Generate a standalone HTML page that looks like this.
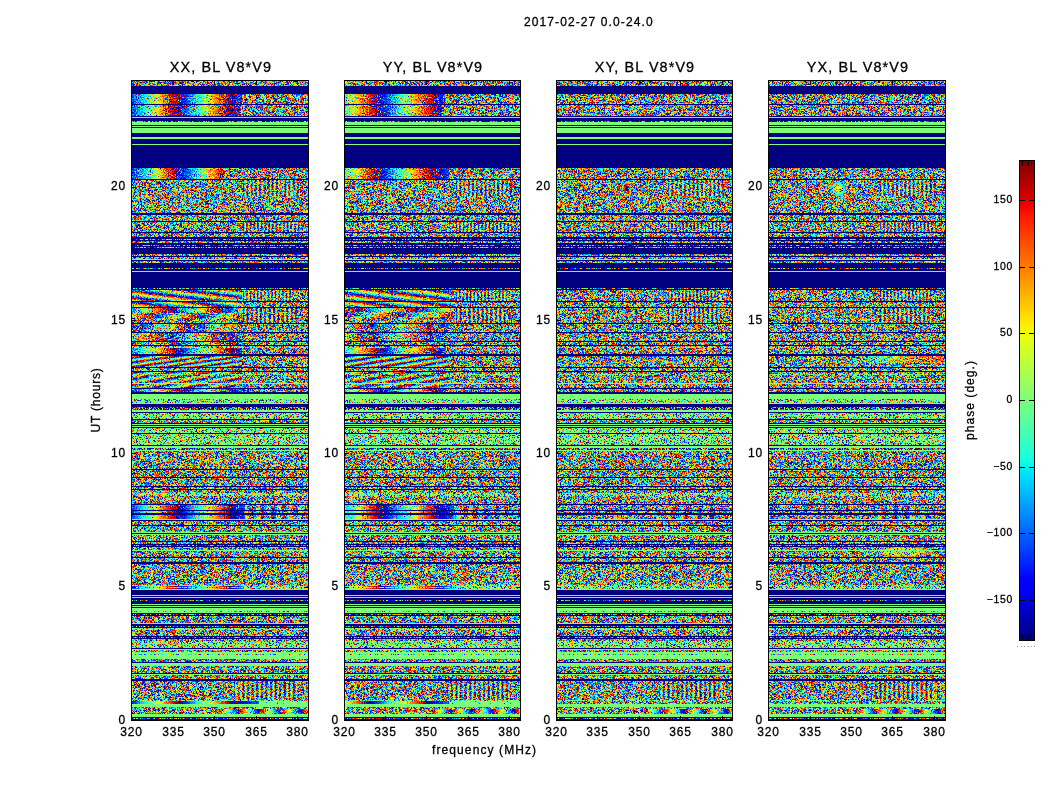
<!DOCTYPE html><html><head><meta charset="utf-8"><title>phase</title><style>
html,body{margin:0;padding:0;background:#fff;}
body{width:1050px;height:800px;position:relative;overflow:hidden;font-family:"Liberation Sans",sans-serif;color:#000;}
.p{position:absolute;overflow:hidden;background:#777;}
.p div,.p svg{position:absolute;left:0;}
.b{width:100%;}
.N{background:#000080;}
.G{background:#7dff7a;}
.g{background:#7dff7a;}
.s{background:#000080;}
.d{background:#000080;}
.sp{position:absolute;background:#000;}
.t,.tt,.cl{will-change:transform;-webkit-text-stroke:0.3px #000;}
.t{position:absolute;white-space:nowrap;font-size:12px;line-height:14px;letter-spacing:0.8px;}
.tt{position:absolute;white-space:nowrap;font-size:14.4px;line-height:17px;letter-spacing:1.1px;text-align:center;}
.cl{position:absolute;white-space:nowrap;font-size:10.4px;line-height:12px;letter-spacing:0.7px;text-align:right;width:60px;}
</style></head><body>
<svg width="0" height="0" style="position:absolute">
<filter id="nz0" x="0" y="0" width="100%" height="100%" color-interpolation-filters="sRGB"><feTurbulence type="fractalNoise" baseFrequency="0.93 0.87" numOctaves="1" seed="3"/><feColorMatrix type="matrix" values="1 0 0 0 0  1 0 0 0 0  1 0 0 0 0  0 0 0 0 1"/><feComponentTransfer><feFuncR type="table" tableValues="0.000 0.000 0.000 0.000 0.000 0.000 0.000 0.000 0.002 0.133 0.259 0.379 0.484 0.589 0.709 0.835 0.966 1.000 1.000 1.000 1.000 1.000 0.913 0.707 0.000 0.000 0.000 0.000 0.000 0.000 0.000 0.000 0.002 0.133 0.259 0.379 0.484 0.589 0.709 0.835 0.966 1.000 1.000 1.000 1.000 1.000 0.913 0.707 0.000 0.000 0.000 0.000 0.000 0.000 0.000 0.000 0.002 0.133 0.259 0.379 0.484 0.589 0.709 0.835 0.966 1.000 1.000 1.000 1.000 1.000 0.913 0.707 0.000 0.000 0.000 0.000 0.000 0.000 0.000 0.000 0.002 0.133 0.259 0.379 0.484 0.589 0.709 0.835 0.966 1.000 1.000 1.000 1.000 1.000 0.913 0.707 0.000 0.000 0.000 0.000 0.000 0.000 0.000 0.000 0.002 0.133 0.259 0.379 0.484 0.589 0.709 0.835 0.966 1.000 1.000 1.000 1.000 1.000 0.913 0.707 0.000 0.000 0.000 0.000 0.000 0.000 0.000 0.000 0.002 0.133 0.259 0.379 0.484 0.589 0.709 0.835 0.966 1.000 1.000 1.000 1.000 1.000 0.913 0.707 0.000"/><feFuncG type="table" tableValues="0.000 0.000 0.000 0.043 0.220 0.395 0.567 0.737 0.903 1.000 1.000 1.000 1.000 1.000 1.000 1.000 0.965 0.812 0.655 0.495 0.333 0.169 0.003 0.000 0.000 0.000 0.000 0.043 0.220 0.395 0.567 0.737 0.903 1.000 1.000 1.000 1.000 1.000 1.000 1.000 0.965 0.812 0.655 0.495 0.333 0.169 0.003 0.000 0.000 0.000 0.000 0.043 0.220 0.395 0.567 0.737 0.903 1.000 1.000 1.000 1.000 1.000 1.000 1.000 0.965 0.812 0.655 0.495 0.333 0.169 0.003 0.000 0.000 0.000 0.000 0.043 0.220 0.395 0.567 0.737 0.903 1.000 1.000 1.000 1.000 1.000 1.000 1.000 0.965 0.812 0.655 0.495 0.333 0.169 0.003 0.000 0.000 0.000 0.000 0.043 0.220 0.395 0.567 0.737 0.903 1.000 1.000 1.000 1.000 1.000 1.000 1.000 0.965 0.812 0.655 0.495 0.333 0.169 0.003 0.000 0.000 0.000 0.000 0.043 0.220 0.395 0.567 0.737 0.903 1.000 1.000 1.000 1.000 1.000 1.000 1.000 0.965 0.812 0.655 0.495 0.333 0.169 0.003 0.000 0.000"/><feFuncB type="table" tableValues="0.500 0.707 0.913 1.000 1.000 1.000 1.000 1.000 0.966 0.835 0.709 0.589 0.484 0.379 0.259 0.133 0.002 0.000 0.000 0.000 0.000 0.000 0.000 0.000 0.500 0.707 0.913 1.000 1.000 1.000 1.000 1.000 0.966 0.835 0.709 0.589 0.484 0.379 0.259 0.133 0.002 0.000 0.000 0.000 0.000 0.000 0.000 0.000 0.500 0.707 0.913 1.000 1.000 1.000 1.000 1.000 0.966 0.835 0.709 0.589 0.484 0.379 0.259 0.133 0.002 0.000 0.000 0.000 0.000 0.000 0.000 0.000 0.500 0.707 0.913 1.000 1.000 1.000 1.000 1.000 0.966 0.835 0.709 0.589 0.484 0.379 0.259 0.133 0.002 0.000 0.000 0.000 0.000 0.000 0.000 0.000 0.500 0.707 0.913 1.000 1.000 1.000 1.000 1.000 0.966 0.835 0.709 0.589 0.484 0.379 0.259 0.133 0.002 0.000 0.000 0.000 0.000 0.000 0.000 0.000 0.500 0.707 0.913 1.000 1.000 1.000 1.000 1.000 0.966 0.835 0.709 0.589 0.484 0.379 0.259 0.133 0.002 0.000 0.000 0.000 0.000 0.000 0.000 0.000 0.500"/></feComponentTransfer></filter>
<filter id="pA0" x="0" y="0" width="100%" height="100%" color-interpolation-filters="sRGB"><feTurbulence type="fractalNoise" baseFrequency="0.93 0.87" numOctaves="1" seed="41"/><feColorMatrix type="matrix" values="1 0 0 0 0  1 0 0 0 0  1 0 0 0 0  0 1 0 0 0"/><feComponentTransfer><feFuncR type="table" tableValues="0.000 0.000 0.000 0.000 0.000 0.000 0.000 0.000 0.002 0.133 0.259 0.379 0.484 0.589 0.709 0.835 0.966 1.000 1.000 1.000 1.000 1.000 0.913 0.707 0.000 0.000 0.000 0.000 0.000 0.000 0.000 0.000 0.002 0.133 0.259 0.379 0.484 0.589 0.709 0.835 0.966 1.000 1.000 1.000 1.000 1.000 0.913 0.707 0.000 0.000 0.000 0.000 0.000 0.000 0.000 0.000 0.002 0.133 0.259 0.379 0.484 0.589 0.709 0.835 0.966 1.000 1.000 1.000 1.000 1.000 0.913 0.707 0.000 0.000 0.000 0.000 0.000 0.000 0.000 0.000 0.002 0.133 0.259 0.379 0.484 0.589 0.709 0.835 0.966 1.000 1.000 1.000 1.000 1.000 0.913 0.707 0.000 0.000 0.000 0.000 0.000 0.000 0.000 0.000 0.002 0.133 0.259 0.379 0.484 0.589 0.709 0.835 0.966 1.000 1.000 1.000 1.000 1.000 0.913 0.707 0.000 0.000 0.000 0.000 0.000 0.000 0.000 0.000 0.002 0.133 0.259 0.379 0.484 0.589 0.709 0.835 0.966 1.000 1.000 1.000 1.000 1.000 0.913 0.707 0.000"/><feFuncG type="table" tableValues="0.000 0.000 0.000 0.043 0.220 0.395 0.567 0.737 0.903 1.000 1.000 1.000 1.000 1.000 1.000 1.000 0.965 0.812 0.655 0.495 0.333 0.169 0.003 0.000 0.000 0.000 0.000 0.043 0.220 0.395 0.567 0.737 0.903 1.000 1.000 1.000 1.000 1.000 1.000 1.000 0.965 0.812 0.655 0.495 0.333 0.169 0.003 0.000 0.000 0.000 0.000 0.043 0.220 0.395 0.567 0.737 0.903 1.000 1.000 1.000 1.000 1.000 1.000 1.000 0.965 0.812 0.655 0.495 0.333 0.169 0.003 0.000 0.000 0.000 0.000 0.043 0.220 0.395 0.567 0.737 0.903 1.000 1.000 1.000 1.000 1.000 1.000 1.000 0.965 0.812 0.655 0.495 0.333 0.169 0.003 0.000 0.000 0.000 0.000 0.043 0.220 0.395 0.567 0.737 0.903 1.000 1.000 1.000 1.000 1.000 1.000 1.000 0.965 0.812 0.655 0.495 0.333 0.169 0.003 0.000 0.000 0.000 0.000 0.043 0.220 0.395 0.567 0.737 0.903 1.000 1.000 1.000 1.000 1.000 1.000 1.000 0.965 0.812 0.655 0.495 0.333 0.169 0.003 0.000 0.000"/><feFuncB type="table" tableValues="0.500 0.707 0.913 1.000 1.000 1.000 1.000 1.000 0.966 0.835 0.709 0.589 0.484 0.379 0.259 0.133 0.002 0.000 0.000 0.000 0.000 0.000 0.000 0.000 0.500 0.707 0.913 1.000 1.000 1.000 1.000 1.000 0.966 0.835 0.709 0.589 0.484 0.379 0.259 0.133 0.002 0.000 0.000 0.000 0.000 0.000 0.000 0.000 0.500 0.707 0.913 1.000 1.000 1.000 1.000 1.000 0.966 0.835 0.709 0.589 0.484 0.379 0.259 0.133 0.002 0.000 0.000 0.000 0.000 0.000 0.000 0.000 0.500 0.707 0.913 1.000 1.000 1.000 1.000 1.000 0.966 0.835 0.709 0.589 0.484 0.379 0.259 0.133 0.002 0.000 0.000 0.000 0.000 0.000 0.000 0.000 0.500 0.707 0.913 1.000 1.000 1.000 1.000 1.000 0.966 0.835 0.709 0.589 0.484 0.379 0.259 0.133 0.002 0.000 0.000 0.000 0.000 0.000 0.000 0.000 0.500 0.707 0.913 1.000 1.000 1.000 1.000 1.000 0.966 0.835 0.709 0.589 0.484 0.379 0.259 0.133 0.002 0.000 0.000 0.000 0.000 0.000 0.000 0.000 0.500"/><feFuncA type="discrete" tableValues="1 1 1 1 1 1 1 1 1 1 1 1 1 1 1 1 1 1 1 1 1 1 1 1 1 1 1 1 1 1 1 1 1 1 1 1 1 1 1 1 1 1 1 1 1 1 1 1 1 1 1 1 1 1 1 1 1 1 1 1 1 1 1 1 1 1 1 1 1 1 1 1 1 1 1 1 1 1 1 1 0 0 0 0 0 0 0 0 0 0 0 0 0 0 0 0 0 0 0 0 0 0 0 0 0 0 0 0 0 0 0 0 0 0 0 0 0 0 0 0 0 0 0 0 0 0 0 0 0 0 0 0 0 0 0 0 0 0 0 0 0 0 0 0 0 0 0 0 0 0 0 0 0 0 0 0 0 0 0 0 0 0 0 0 0 0 0 0 0 0 0 0 0 0 0 0 0 0 0 0 0 0 0 0 0 0 0 0 0 0 0 0 0 0 0 0 0 0 0 0"/></feComponentTransfer><feComposite operator="in" in2="SourceGraphic"/></filter>
<filter id="pB0" x="0" y="0" width="100%" height="100%" color-interpolation-filters="sRGB"><feTurbulence type="fractalNoise" baseFrequency="0.93 0.87" numOctaves="1" seed="43"/><feColorMatrix type="matrix" values="1 0 0 0 0  1 0 0 0 0  1 0 0 0 0  0 1 0 0 0"/><feComponentTransfer><feFuncR type="table" tableValues="0.000 0.000 0.000 0.000 0.000 0.000 0.000 0.000 0.002 0.133 0.259 0.379 0.484 0.589 0.709 0.835 0.966 1.000 1.000 1.000 1.000 1.000 0.913 0.707 0.000 0.000 0.000 0.000 0.000 0.000 0.000 0.000 0.002 0.133 0.259 0.379 0.484 0.589 0.709 0.835 0.966 1.000 1.000 1.000 1.000 1.000 0.913 0.707 0.000 0.000 0.000 0.000 0.000 0.000 0.000 0.000 0.002 0.133 0.259 0.379 0.484 0.589 0.709 0.835 0.966 1.000 1.000 1.000 1.000 1.000 0.913 0.707 0.000 0.000 0.000 0.000 0.000 0.000 0.000 0.000 0.002 0.133 0.259 0.379 0.484 0.589 0.709 0.835 0.966 1.000 1.000 1.000 1.000 1.000 0.913 0.707 0.000 0.000 0.000 0.000 0.000 0.000 0.000 0.000 0.002 0.133 0.259 0.379 0.484 0.589 0.709 0.835 0.966 1.000 1.000 1.000 1.000 1.000 0.913 0.707 0.000 0.000 0.000 0.000 0.000 0.000 0.000 0.000 0.002 0.133 0.259 0.379 0.484 0.589 0.709 0.835 0.966 1.000 1.000 1.000 1.000 1.000 0.913 0.707 0.000"/><feFuncG type="table" tableValues="0.000 0.000 0.000 0.043 0.220 0.395 0.567 0.737 0.903 1.000 1.000 1.000 1.000 1.000 1.000 1.000 0.965 0.812 0.655 0.495 0.333 0.169 0.003 0.000 0.000 0.000 0.000 0.043 0.220 0.395 0.567 0.737 0.903 1.000 1.000 1.000 1.000 1.000 1.000 1.000 0.965 0.812 0.655 0.495 0.333 0.169 0.003 0.000 0.000 0.000 0.000 0.043 0.220 0.395 0.567 0.737 0.903 1.000 1.000 1.000 1.000 1.000 1.000 1.000 0.965 0.812 0.655 0.495 0.333 0.169 0.003 0.000 0.000 0.000 0.000 0.043 0.220 0.395 0.567 0.737 0.903 1.000 1.000 1.000 1.000 1.000 1.000 1.000 0.965 0.812 0.655 0.495 0.333 0.169 0.003 0.000 0.000 0.000 0.000 0.043 0.220 0.395 0.567 0.737 0.903 1.000 1.000 1.000 1.000 1.000 1.000 1.000 0.965 0.812 0.655 0.495 0.333 0.169 0.003 0.000 0.000 0.000 0.000 0.043 0.220 0.395 0.567 0.737 0.903 1.000 1.000 1.000 1.000 1.000 1.000 1.000 0.965 0.812 0.655 0.495 0.333 0.169 0.003 0.000 0.000"/><feFuncB type="table" tableValues="0.500 0.707 0.913 1.000 1.000 1.000 1.000 1.000 0.966 0.835 0.709 0.589 0.484 0.379 0.259 0.133 0.002 0.000 0.000 0.000 0.000 0.000 0.000 0.000 0.500 0.707 0.913 1.000 1.000 1.000 1.000 1.000 0.966 0.835 0.709 0.589 0.484 0.379 0.259 0.133 0.002 0.000 0.000 0.000 0.000 0.000 0.000 0.000 0.500 0.707 0.913 1.000 1.000 1.000 1.000 1.000 0.966 0.835 0.709 0.589 0.484 0.379 0.259 0.133 0.002 0.000 0.000 0.000 0.000 0.000 0.000 0.000 0.500 0.707 0.913 1.000 1.000 1.000 1.000 1.000 0.966 0.835 0.709 0.589 0.484 0.379 0.259 0.133 0.002 0.000 0.000 0.000 0.000 0.000 0.000 0.000 0.500 0.707 0.913 1.000 1.000 1.000 1.000 1.000 0.966 0.835 0.709 0.589 0.484 0.379 0.259 0.133 0.002 0.000 0.000 0.000 0.000 0.000 0.000 0.000 0.500 0.707 0.913 1.000 1.000 1.000 1.000 1.000 0.966 0.835 0.709 0.589 0.484 0.379 0.259 0.133 0.002 0.000 0.000 0.000 0.000 0.000 0.000 0.000 0.500"/><feFuncA type="discrete" tableValues="1 1 1 1 1 1 1 1 1 1 1 1 1 1 1 1 1 1 1 1 1 1 1 1 1 1 1 1 1 1 1 1 1 1 1 1 1 1 1 1 1 1 1 1 1 1 1 1 1 1 1 1 1 1 1 1 1 1 1 1 1 1 1 1 1 1 1 1 1 1 1 1 1 1 1 1 1 1 1 1 1 1 1 1 1 1 1 1 1 1 1 0 0 0 0 0 0 0 0 0 0 0 0 0 0 0 0 0 0 0 0 0 0 0 0 0 0 0 0 0 0 0 0 0 0 0 0 0 0 0 0 0 0 0 0 0 0 0 0 0 0 0 0 0 0 0 0 0 0 0 0 0 0 0 0 0 0 0 0 0 0 0 0 0 0 0 0 0 0 0 0 0 0 0 0 0 0 0 0 0 0 0 0 0 0 0 0 0 0 0 0 0 0 0 0 0 0 0 0 0"/></feComponentTransfer><feComposite operator="in" in2="SourceGraphic"/></filter>
<filter id="pC0" x="0" y="0" width="100%" height="100%" color-interpolation-filters="sRGB"><feTurbulence type="fractalNoise" baseFrequency="0.93 0.87" numOctaves="1" seed="47"/><feColorMatrix type="matrix" values="1 0 0 0 0  1 0 0 0 0  1 0 0 0 0  0 1 0 0 0"/><feComponentTransfer><feFuncR type="table" tableValues="0.000 0.000 0.000 0.000 0.000 0.000 0.000 0.000 0.002 0.133 0.259 0.379 0.484 0.589 0.709 0.835 0.966 1.000 1.000 1.000 1.000 1.000 0.913 0.707 0.000 0.000 0.000 0.000 0.000 0.000 0.000 0.000 0.002 0.133 0.259 0.379 0.484 0.589 0.709 0.835 0.966 1.000 1.000 1.000 1.000 1.000 0.913 0.707 0.000 0.000 0.000 0.000 0.000 0.000 0.000 0.000 0.002 0.133 0.259 0.379 0.484 0.589 0.709 0.835 0.966 1.000 1.000 1.000 1.000 1.000 0.913 0.707 0.000 0.000 0.000 0.000 0.000 0.000 0.000 0.000 0.002 0.133 0.259 0.379 0.484 0.589 0.709 0.835 0.966 1.000 1.000 1.000 1.000 1.000 0.913 0.707 0.000 0.000 0.000 0.000 0.000 0.000 0.000 0.000 0.002 0.133 0.259 0.379 0.484 0.589 0.709 0.835 0.966 1.000 1.000 1.000 1.000 1.000 0.913 0.707 0.000 0.000 0.000 0.000 0.000 0.000 0.000 0.000 0.002 0.133 0.259 0.379 0.484 0.589 0.709 0.835 0.966 1.000 1.000 1.000 1.000 1.000 0.913 0.707 0.000"/><feFuncG type="table" tableValues="0.000 0.000 0.000 0.043 0.220 0.395 0.567 0.737 0.903 1.000 1.000 1.000 1.000 1.000 1.000 1.000 0.965 0.812 0.655 0.495 0.333 0.169 0.003 0.000 0.000 0.000 0.000 0.043 0.220 0.395 0.567 0.737 0.903 1.000 1.000 1.000 1.000 1.000 1.000 1.000 0.965 0.812 0.655 0.495 0.333 0.169 0.003 0.000 0.000 0.000 0.000 0.043 0.220 0.395 0.567 0.737 0.903 1.000 1.000 1.000 1.000 1.000 1.000 1.000 0.965 0.812 0.655 0.495 0.333 0.169 0.003 0.000 0.000 0.000 0.000 0.043 0.220 0.395 0.567 0.737 0.903 1.000 1.000 1.000 1.000 1.000 1.000 1.000 0.965 0.812 0.655 0.495 0.333 0.169 0.003 0.000 0.000 0.000 0.000 0.043 0.220 0.395 0.567 0.737 0.903 1.000 1.000 1.000 1.000 1.000 1.000 1.000 0.965 0.812 0.655 0.495 0.333 0.169 0.003 0.000 0.000 0.000 0.000 0.043 0.220 0.395 0.567 0.737 0.903 1.000 1.000 1.000 1.000 1.000 1.000 1.000 0.965 0.812 0.655 0.495 0.333 0.169 0.003 0.000 0.000"/><feFuncB type="table" tableValues="0.500 0.707 0.913 1.000 1.000 1.000 1.000 1.000 0.966 0.835 0.709 0.589 0.484 0.379 0.259 0.133 0.002 0.000 0.000 0.000 0.000 0.000 0.000 0.000 0.500 0.707 0.913 1.000 1.000 1.000 1.000 1.000 0.966 0.835 0.709 0.589 0.484 0.379 0.259 0.133 0.002 0.000 0.000 0.000 0.000 0.000 0.000 0.000 0.500 0.707 0.913 1.000 1.000 1.000 1.000 1.000 0.966 0.835 0.709 0.589 0.484 0.379 0.259 0.133 0.002 0.000 0.000 0.000 0.000 0.000 0.000 0.000 0.500 0.707 0.913 1.000 1.000 1.000 1.000 1.000 0.966 0.835 0.709 0.589 0.484 0.379 0.259 0.133 0.002 0.000 0.000 0.000 0.000 0.000 0.000 0.000 0.500 0.707 0.913 1.000 1.000 1.000 1.000 1.000 0.966 0.835 0.709 0.589 0.484 0.379 0.259 0.133 0.002 0.000 0.000 0.000 0.000 0.000 0.000 0.000 0.500 0.707 0.913 1.000 1.000 1.000 1.000 1.000 0.966 0.835 0.709 0.589 0.484 0.379 0.259 0.133 0.002 0.000 0.000 0.000 0.000 0.000 0.000 0.000 0.500"/><feFuncA type="discrete" tableValues="1 1 1 1 1 1 1 1 1 1 1 1 1 1 1 1 1 1 1 1 1 1 1 1 1 1 1 1 1 1 1 1 1 1 1 1 1 1 1 1 1 1 1 1 1 1 1 1 1 1 1 1 1 1 1 1 1 1 1 1 1 1 1 1 1 1 1 1 1 1 1 1 1 1 1 1 1 1 1 1 1 1 1 1 1 1 1 1 1 1 1 1 1 1 1 1 1 1 1 1 0 0 0 0 0 0 0 0 0 0 0 0 0 0 0 0 0 0 0 0 0 0 0 0 0 0 0 0 0 0 0 0 0 0 0 0 0 0 0 0 0 0 0 0 0 0 0 0 0 0 0 0 0 0 0 0 0 0 0 0 0 0 0 0 0 0 0 0 0 0 0 0 0 0 0 0 0 0 0 0 0 0 0 0 0 0 0 0 0 0 0 0 0 0 0 0 0 0 0 0"/></feComponentTransfer><feComposite operator="in" in2="SourceGraphic"/></filter>
<filter id="pD0" x="0" y="0" width="100%" height="100%" color-interpolation-filters="sRGB"><feTurbulence type="fractalNoise" baseFrequency="0.93 0.87" numOctaves="1" seed="53"/><feColorMatrix type="matrix" values="1 0 0 0 0  1 0 0 0 0  1 0 0 0 0  0 1 0 0 0"/><feComponentTransfer><feFuncR type="table" tableValues="0.000 0.000 0.000 0.000 0.000 0.000 0.000 0.000 0.002 0.133 0.259 0.379 0.484 0.589 0.709 0.835 0.966 1.000 1.000 1.000 1.000 1.000 0.913 0.707 0.000 0.000 0.000 0.000 0.000 0.000 0.000 0.000 0.002 0.133 0.259 0.379 0.484 0.589 0.709 0.835 0.966 1.000 1.000 1.000 1.000 1.000 0.913 0.707 0.000 0.000 0.000 0.000 0.000 0.000 0.000 0.000 0.002 0.133 0.259 0.379 0.484 0.589 0.709 0.835 0.966 1.000 1.000 1.000 1.000 1.000 0.913 0.707 0.000 0.000 0.000 0.000 0.000 0.000 0.000 0.000 0.002 0.133 0.259 0.379 0.484 0.589 0.709 0.835 0.966 1.000 1.000 1.000 1.000 1.000 0.913 0.707 0.000 0.000 0.000 0.000 0.000 0.000 0.000 0.000 0.002 0.133 0.259 0.379 0.484 0.589 0.709 0.835 0.966 1.000 1.000 1.000 1.000 1.000 0.913 0.707 0.000 0.000 0.000 0.000 0.000 0.000 0.000 0.000 0.002 0.133 0.259 0.379 0.484 0.589 0.709 0.835 0.966 1.000 1.000 1.000 1.000 1.000 0.913 0.707 0.000"/><feFuncG type="table" tableValues="0.000 0.000 0.000 0.043 0.220 0.395 0.567 0.737 0.903 1.000 1.000 1.000 1.000 1.000 1.000 1.000 0.965 0.812 0.655 0.495 0.333 0.169 0.003 0.000 0.000 0.000 0.000 0.043 0.220 0.395 0.567 0.737 0.903 1.000 1.000 1.000 1.000 1.000 1.000 1.000 0.965 0.812 0.655 0.495 0.333 0.169 0.003 0.000 0.000 0.000 0.000 0.043 0.220 0.395 0.567 0.737 0.903 1.000 1.000 1.000 1.000 1.000 1.000 1.000 0.965 0.812 0.655 0.495 0.333 0.169 0.003 0.000 0.000 0.000 0.000 0.043 0.220 0.395 0.567 0.737 0.903 1.000 1.000 1.000 1.000 1.000 1.000 1.000 0.965 0.812 0.655 0.495 0.333 0.169 0.003 0.000 0.000 0.000 0.000 0.043 0.220 0.395 0.567 0.737 0.903 1.000 1.000 1.000 1.000 1.000 1.000 1.000 0.965 0.812 0.655 0.495 0.333 0.169 0.003 0.000 0.000 0.000 0.000 0.043 0.220 0.395 0.567 0.737 0.903 1.000 1.000 1.000 1.000 1.000 1.000 1.000 0.965 0.812 0.655 0.495 0.333 0.169 0.003 0.000 0.000"/><feFuncB type="table" tableValues="0.500 0.707 0.913 1.000 1.000 1.000 1.000 1.000 0.966 0.835 0.709 0.589 0.484 0.379 0.259 0.133 0.002 0.000 0.000 0.000 0.000 0.000 0.000 0.000 0.500 0.707 0.913 1.000 1.000 1.000 1.000 1.000 0.966 0.835 0.709 0.589 0.484 0.379 0.259 0.133 0.002 0.000 0.000 0.000 0.000 0.000 0.000 0.000 0.500 0.707 0.913 1.000 1.000 1.000 1.000 1.000 0.966 0.835 0.709 0.589 0.484 0.379 0.259 0.133 0.002 0.000 0.000 0.000 0.000 0.000 0.000 0.000 0.500 0.707 0.913 1.000 1.000 1.000 1.000 1.000 0.966 0.835 0.709 0.589 0.484 0.379 0.259 0.133 0.002 0.000 0.000 0.000 0.000 0.000 0.000 0.000 0.500 0.707 0.913 1.000 1.000 1.000 1.000 1.000 0.966 0.835 0.709 0.589 0.484 0.379 0.259 0.133 0.002 0.000 0.000 0.000 0.000 0.000 0.000 0.000 0.500 0.707 0.913 1.000 1.000 1.000 1.000 1.000 0.966 0.835 0.709 0.589 0.484 0.379 0.259 0.133 0.002 0.000 0.000 0.000 0.000 0.000 0.000 0.000 0.500"/><feFuncA type="discrete" tableValues="1 1 1 1 1 1 1 1 1 1 1 1 1 1 1 1 1 1 1 1 1 1 1 1 1 1 1 1 1 1 1 1 1 1 1 1 1 1 1 1 1 1 1 1 1 1 1 1 1 1 1 1 1 1 1 1 1 1 1 1 1 1 1 1 1 1 1 1 1 1 1 1 1 1 1 1 1 1 1 1 1 1 1 1 1 1 1 1 1 1 1 1 1 1 1 1 1 1 1 1 1 1 1 1 1 1 1 1 1 1 0 0 0 0 0 0 0 0 0 0 0 0 0 0 0 0 0 0 0 0 0 0 0 0 0 0 0 0 0 0 0 0 0 0 0 0 0 0 0 0 0 0 0 0 0 0 0 0 0 0 0 0 0 0 0 0 0 0 0 0 0 0 0 0 0 0 0 0 0 0 0 0 0 0 0 0 0 0 0 0 0 0 0 0 0 0 0 0 0 0"/></feComponentTransfer><feComposite operator="in" in2="SourceGraphic"/></filter>
<filter id="nz1" x="0" y="0" width="100%" height="100%" color-interpolation-filters="sRGB"><feTurbulence type="fractalNoise" baseFrequency="0.93 0.87" numOctaves="1" seed="10"/><feColorMatrix type="matrix" values="1 0 0 0 0  1 0 0 0 0  1 0 0 0 0  0 0 0 0 1"/><feComponentTransfer><feFuncR type="table" tableValues="0.000 0.000 0.000 0.000 0.000 0.000 0.000 0.000 0.002 0.133 0.259 0.379 0.484 0.589 0.709 0.835 0.966 1.000 1.000 1.000 1.000 1.000 0.913 0.707 0.000 0.000 0.000 0.000 0.000 0.000 0.000 0.000 0.002 0.133 0.259 0.379 0.484 0.589 0.709 0.835 0.966 1.000 1.000 1.000 1.000 1.000 0.913 0.707 0.000 0.000 0.000 0.000 0.000 0.000 0.000 0.000 0.002 0.133 0.259 0.379 0.484 0.589 0.709 0.835 0.966 1.000 1.000 1.000 1.000 1.000 0.913 0.707 0.000 0.000 0.000 0.000 0.000 0.000 0.000 0.000 0.002 0.133 0.259 0.379 0.484 0.589 0.709 0.835 0.966 1.000 1.000 1.000 1.000 1.000 0.913 0.707 0.000 0.000 0.000 0.000 0.000 0.000 0.000 0.000 0.002 0.133 0.259 0.379 0.484 0.589 0.709 0.835 0.966 1.000 1.000 1.000 1.000 1.000 0.913 0.707 0.000 0.000 0.000 0.000 0.000 0.000 0.000 0.000 0.002 0.133 0.259 0.379 0.484 0.589 0.709 0.835 0.966 1.000 1.000 1.000 1.000 1.000 0.913 0.707 0.000"/><feFuncG type="table" tableValues="0.000 0.000 0.000 0.043 0.220 0.395 0.567 0.737 0.903 1.000 1.000 1.000 1.000 1.000 1.000 1.000 0.965 0.812 0.655 0.495 0.333 0.169 0.003 0.000 0.000 0.000 0.000 0.043 0.220 0.395 0.567 0.737 0.903 1.000 1.000 1.000 1.000 1.000 1.000 1.000 0.965 0.812 0.655 0.495 0.333 0.169 0.003 0.000 0.000 0.000 0.000 0.043 0.220 0.395 0.567 0.737 0.903 1.000 1.000 1.000 1.000 1.000 1.000 1.000 0.965 0.812 0.655 0.495 0.333 0.169 0.003 0.000 0.000 0.000 0.000 0.043 0.220 0.395 0.567 0.737 0.903 1.000 1.000 1.000 1.000 1.000 1.000 1.000 0.965 0.812 0.655 0.495 0.333 0.169 0.003 0.000 0.000 0.000 0.000 0.043 0.220 0.395 0.567 0.737 0.903 1.000 1.000 1.000 1.000 1.000 1.000 1.000 0.965 0.812 0.655 0.495 0.333 0.169 0.003 0.000 0.000 0.000 0.000 0.043 0.220 0.395 0.567 0.737 0.903 1.000 1.000 1.000 1.000 1.000 1.000 1.000 0.965 0.812 0.655 0.495 0.333 0.169 0.003 0.000 0.000"/><feFuncB type="table" tableValues="0.500 0.707 0.913 1.000 1.000 1.000 1.000 1.000 0.966 0.835 0.709 0.589 0.484 0.379 0.259 0.133 0.002 0.000 0.000 0.000 0.000 0.000 0.000 0.000 0.500 0.707 0.913 1.000 1.000 1.000 1.000 1.000 0.966 0.835 0.709 0.589 0.484 0.379 0.259 0.133 0.002 0.000 0.000 0.000 0.000 0.000 0.000 0.000 0.500 0.707 0.913 1.000 1.000 1.000 1.000 1.000 0.966 0.835 0.709 0.589 0.484 0.379 0.259 0.133 0.002 0.000 0.000 0.000 0.000 0.000 0.000 0.000 0.500 0.707 0.913 1.000 1.000 1.000 1.000 1.000 0.966 0.835 0.709 0.589 0.484 0.379 0.259 0.133 0.002 0.000 0.000 0.000 0.000 0.000 0.000 0.000 0.500 0.707 0.913 1.000 1.000 1.000 1.000 1.000 0.966 0.835 0.709 0.589 0.484 0.379 0.259 0.133 0.002 0.000 0.000 0.000 0.000 0.000 0.000 0.000 0.500 0.707 0.913 1.000 1.000 1.000 1.000 1.000 0.966 0.835 0.709 0.589 0.484 0.379 0.259 0.133 0.002 0.000 0.000 0.000 0.000 0.000 0.000 0.000 0.500"/></feComponentTransfer></filter>
<filter id="pA1" x="0" y="0" width="100%" height="100%" color-interpolation-filters="sRGB"><feTurbulence type="fractalNoise" baseFrequency="0.93 0.87" numOctaves="1" seed="46"/><feColorMatrix type="matrix" values="1 0 0 0 0  1 0 0 0 0  1 0 0 0 0  0 1 0 0 0"/><feComponentTransfer><feFuncR type="table" tableValues="0.000 0.000 0.000 0.000 0.000 0.000 0.000 0.000 0.002 0.133 0.259 0.379 0.484 0.589 0.709 0.835 0.966 1.000 1.000 1.000 1.000 1.000 0.913 0.707 0.000 0.000 0.000 0.000 0.000 0.000 0.000 0.000 0.002 0.133 0.259 0.379 0.484 0.589 0.709 0.835 0.966 1.000 1.000 1.000 1.000 1.000 0.913 0.707 0.000 0.000 0.000 0.000 0.000 0.000 0.000 0.000 0.002 0.133 0.259 0.379 0.484 0.589 0.709 0.835 0.966 1.000 1.000 1.000 1.000 1.000 0.913 0.707 0.000 0.000 0.000 0.000 0.000 0.000 0.000 0.000 0.002 0.133 0.259 0.379 0.484 0.589 0.709 0.835 0.966 1.000 1.000 1.000 1.000 1.000 0.913 0.707 0.000 0.000 0.000 0.000 0.000 0.000 0.000 0.000 0.002 0.133 0.259 0.379 0.484 0.589 0.709 0.835 0.966 1.000 1.000 1.000 1.000 1.000 0.913 0.707 0.000 0.000 0.000 0.000 0.000 0.000 0.000 0.000 0.002 0.133 0.259 0.379 0.484 0.589 0.709 0.835 0.966 1.000 1.000 1.000 1.000 1.000 0.913 0.707 0.000"/><feFuncG type="table" tableValues="0.000 0.000 0.000 0.043 0.220 0.395 0.567 0.737 0.903 1.000 1.000 1.000 1.000 1.000 1.000 1.000 0.965 0.812 0.655 0.495 0.333 0.169 0.003 0.000 0.000 0.000 0.000 0.043 0.220 0.395 0.567 0.737 0.903 1.000 1.000 1.000 1.000 1.000 1.000 1.000 0.965 0.812 0.655 0.495 0.333 0.169 0.003 0.000 0.000 0.000 0.000 0.043 0.220 0.395 0.567 0.737 0.903 1.000 1.000 1.000 1.000 1.000 1.000 1.000 0.965 0.812 0.655 0.495 0.333 0.169 0.003 0.000 0.000 0.000 0.000 0.043 0.220 0.395 0.567 0.737 0.903 1.000 1.000 1.000 1.000 1.000 1.000 1.000 0.965 0.812 0.655 0.495 0.333 0.169 0.003 0.000 0.000 0.000 0.000 0.043 0.220 0.395 0.567 0.737 0.903 1.000 1.000 1.000 1.000 1.000 1.000 1.000 0.965 0.812 0.655 0.495 0.333 0.169 0.003 0.000 0.000 0.000 0.000 0.043 0.220 0.395 0.567 0.737 0.903 1.000 1.000 1.000 1.000 1.000 1.000 1.000 0.965 0.812 0.655 0.495 0.333 0.169 0.003 0.000 0.000"/><feFuncB type="table" tableValues="0.500 0.707 0.913 1.000 1.000 1.000 1.000 1.000 0.966 0.835 0.709 0.589 0.484 0.379 0.259 0.133 0.002 0.000 0.000 0.000 0.000 0.000 0.000 0.000 0.500 0.707 0.913 1.000 1.000 1.000 1.000 1.000 0.966 0.835 0.709 0.589 0.484 0.379 0.259 0.133 0.002 0.000 0.000 0.000 0.000 0.000 0.000 0.000 0.500 0.707 0.913 1.000 1.000 1.000 1.000 1.000 0.966 0.835 0.709 0.589 0.484 0.379 0.259 0.133 0.002 0.000 0.000 0.000 0.000 0.000 0.000 0.000 0.500 0.707 0.913 1.000 1.000 1.000 1.000 1.000 0.966 0.835 0.709 0.589 0.484 0.379 0.259 0.133 0.002 0.000 0.000 0.000 0.000 0.000 0.000 0.000 0.500 0.707 0.913 1.000 1.000 1.000 1.000 1.000 0.966 0.835 0.709 0.589 0.484 0.379 0.259 0.133 0.002 0.000 0.000 0.000 0.000 0.000 0.000 0.000 0.500 0.707 0.913 1.000 1.000 1.000 1.000 1.000 0.966 0.835 0.709 0.589 0.484 0.379 0.259 0.133 0.002 0.000 0.000 0.000 0.000 0.000 0.000 0.000 0.500"/><feFuncA type="discrete" tableValues="1 1 1 1 1 1 1 1 1 1 1 1 1 1 1 1 1 1 1 1 1 1 1 1 1 1 1 1 1 1 1 1 1 1 1 1 1 1 1 1 1 1 1 1 1 1 1 1 1 1 1 1 1 1 1 1 1 1 1 1 1 1 1 1 1 1 1 1 1 1 1 1 1 1 1 1 1 1 1 1 0 0 0 0 0 0 0 0 0 0 0 0 0 0 0 0 0 0 0 0 0 0 0 0 0 0 0 0 0 0 0 0 0 0 0 0 0 0 0 0 0 0 0 0 0 0 0 0 0 0 0 0 0 0 0 0 0 0 0 0 0 0 0 0 0 0 0 0 0 0 0 0 0 0 0 0 0 0 0 0 0 0 0 0 0 0 0 0 0 0 0 0 0 0 0 0 0 0 0 0 0 0 0 0 0 0 0 0 0 0 0 0 0 0 0 0 0 0 0 0"/></feComponentTransfer><feComposite operator="in" in2="SourceGraphic"/></filter>
<filter id="pB1" x="0" y="0" width="100%" height="100%" color-interpolation-filters="sRGB"><feTurbulence type="fractalNoise" baseFrequency="0.93 0.87" numOctaves="1" seed="48"/><feColorMatrix type="matrix" values="1 0 0 0 0  1 0 0 0 0  1 0 0 0 0  0 1 0 0 0"/><feComponentTransfer><feFuncR type="table" tableValues="0.000 0.000 0.000 0.000 0.000 0.000 0.000 0.000 0.002 0.133 0.259 0.379 0.484 0.589 0.709 0.835 0.966 1.000 1.000 1.000 1.000 1.000 0.913 0.707 0.000 0.000 0.000 0.000 0.000 0.000 0.000 0.000 0.002 0.133 0.259 0.379 0.484 0.589 0.709 0.835 0.966 1.000 1.000 1.000 1.000 1.000 0.913 0.707 0.000 0.000 0.000 0.000 0.000 0.000 0.000 0.000 0.002 0.133 0.259 0.379 0.484 0.589 0.709 0.835 0.966 1.000 1.000 1.000 1.000 1.000 0.913 0.707 0.000 0.000 0.000 0.000 0.000 0.000 0.000 0.000 0.002 0.133 0.259 0.379 0.484 0.589 0.709 0.835 0.966 1.000 1.000 1.000 1.000 1.000 0.913 0.707 0.000 0.000 0.000 0.000 0.000 0.000 0.000 0.000 0.002 0.133 0.259 0.379 0.484 0.589 0.709 0.835 0.966 1.000 1.000 1.000 1.000 1.000 0.913 0.707 0.000 0.000 0.000 0.000 0.000 0.000 0.000 0.000 0.002 0.133 0.259 0.379 0.484 0.589 0.709 0.835 0.966 1.000 1.000 1.000 1.000 1.000 0.913 0.707 0.000"/><feFuncG type="table" tableValues="0.000 0.000 0.000 0.043 0.220 0.395 0.567 0.737 0.903 1.000 1.000 1.000 1.000 1.000 1.000 1.000 0.965 0.812 0.655 0.495 0.333 0.169 0.003 0.000 0.000 0.000 0.000 0.043 0.220 0.395 0.567 0.737 0.903 1.000 1.000 1.000 1.000 1.000 1.000 1.000 0.965 0.812 0.655 0.495 0.333 0.169 0.003 0.000 0.000 0.000 0.000 0.043 0.220 0.395 0.567 0.737 0.903 1.000 1.000 1.000 1.000 1.000 1.000 1.000 0.965 0.812 0.655 0.495 0.333 0.169 0.003 0.000 0.000 0.000 0.000 0.043 0.220 0.395 0.567 0.737 0.903 1.000 1.000 1.000 1.000 1.000 1.000 1.000 0.965 0.812 0.655 0.495 0.333 0.169 0.003 0.000 0.000 0.000 0.000 0.043 0.220 0.395 0.567 0.737 0.903 1.000 1.000 1.000 1.000 1.000 1.000 1.000 0.965 0.812 0.655 0.495 0.333 0.169 0.003 0.000 0.000 0.000 0.000 0.043 0.220 0.395 0.567 0.737 0.903 1.000 1.000 1.000 1.000 1.000 1.000 1.000 0.965 0.812 0.655 0.495 0.333 0.169 0.003 0.000 0.000"/><feFuncB type="table" tableValues="0.500 0.707 0.913 1.000 1.000 1.000 1.000 1.000 0.966 0.835 0.709 0.589 0.484 0.379 0.259 0.133 0.002 0.000 0.000 0.000 0.000 0.000 0.000 0.000 0.500 0.707 0.913 1.000 1.000 1.000 1.000 1.000 0.966 0.835 0.709 0.589 0.484 0.379 0.259 0.133 0.002 0.000 0.000 0.000 0.000 0.000 0.000 0.000 0.500 0.707 0.913 1.000 1.000 1.000 1.000 1.000 0.966 0.835 0.709 0.589 0.484 0.379 0.259 0.133 0.002 0.000 0.000 0.000 0.000 0.000 0.000 0.000 0.500 0.707 0.913 1.000 1.000 1.000 1.000 1.000 0.966 0.835 0.709 0.589 0.484 0.379 0.259 0.133 0.002 0.000 0.000 0.000 0.000 0.000 0.000 0.000 0.500 0.707 0.913 1.000 1.000 1.000 1.000 1.000 0.966 0.835 0.709 0.589 0.484 0.379 0.259 0.133 0.002 0.000 0.000 0.000 0.000 0.000 0.000 0.000 0.500 0.707 0.913 1.000 1.000 1.000 1.000 1.000 0.966 0.835 0.709 0.589 0.484 0.379 0.259 0.133 0.002 0.000 0.000 0.000 0.000 0.000 0.000 0.000 0.500"/><feFuncA type="discrete" tableValues="1 1 1 1 1 1 1 1 1 1 1 1 1 1 1 1 1 1 1 1 1 1 1 1 1 1 1 1 1 1 1 1 1 1 1 1 1 1 1 1 1 1 1 1 1 1 1 1 1 1 1 1 1 1 1 1 1 1 1 1 1 1 1 1 1 1 1 1 1 1 1 1 1 1 1 1 1 1 1 1 1 1 1 1 1 1 1 1 1 1 1 0 0 0 0 0 0 0 0 0 0 0 0 0 0 0 0 0 0 0 0 0 0 0 0 0 0 0 0 0 0 0 0 0 0 0 0 0 0 0 0 0 0 0 0 0 0 0 0 0 0 0 0 0 0 0 0 0 0 0 0 0 0 0 0 0 0 0 0 0 0 0 0 0 0 0 0 0 0 0 0 0 0 0 0 0 0 0 0 0 0 0 0 0 0 0 0 0 0 0 0 0 0 0 0 0 0 0 0 0"/></feComponentTransfer><feComposite operator="in" in2="SourceGraphic"/></filter>
<filter id="pC1" x="0" y="0" width="100%" height="100%" color-interpolation-filters="sRGB"><feTurbulence type="fractalNoise" baseFrequency="0.93 0.87" numOctaves="1" seed="52"/><feColorMatrix type="matrix" values="1 0 0 0 0  1 0 0 0 0  1 0 0 0 0  0 1 0 0 0"/><feComponentTransfer><feFuncR type="table" tableValues="0.000 0.000 0.000 0.000 0.000 0.000 0.000 0.000 0.002 0.133 0.259 0.379 0.484 0.589 0.709 0.835 0.966 1.000 1.000 1.000 1.000 1.000 0.913 0.707 0.000 0.000 0.000 0.000 0.000 0.000 0.000 0.000 0.002 0.133 0.259 0.379 0.484 0.589 0.709 0.835 0.966 1.000 1.000 1.000 1.000 1.000 0.913 0.707 0.000 0.000 0.000 0.000 0.000 0.000 0.000 0.000 0.002 0.133 0.259 0.379 0.484 0.589 0.709 0.835 0.966 1.000 1.000 1.000 1.000 1.000 0.913 0.707 0.000 0.000 0.000 0.000 0.000 0.000 0.000 0.000 0.002 0.133 0.259 0.379 0.484 0.589 0.709 0.835 0.966 1.000 1.000 1.000 1.000 1.000 0.913 0.707 0.000 0.000 0.000 0.000 0.000 0.000 0.000 0.000 0.002 0.133 0.259 0.379 0.484 0.589 0.709 0.835 0.966 1.000 1.000 1.000 1.000 1.000 0.913 0.707 0.000 0.000 0.000 0.000 0.000 0.000 0.000 0.000 0.002 0.133 0.259 0.379 0.484 0.589 0.709 0.835 0.966 1.000 1.000 1.000 1.000 1.000 0.913 0.707 0.000"/><feFuncG type="table" tableValues="0.000 0.000 0.000 0.043 0.220 0.395 0.567 0.737 0.903 1.000 1.000 1.000 1.000 1.000 1.000 1.000 0.965 0.812 0.655 0.495 0.333 0.169 0.003 0.000 0.000 0.000 0.000 0.043 0.220 0.395 0.567 0.737 0.903 1.000 1.000 1.000 1.000 1.000 1.000 1.000 0.965 0.812 0.655 0.495 0.333 0.169 0.003 0.000 0.000 0.000 0.000 0.043 0.220 0.395 0.567 0.737 0.903 1.000 1.000 1.000 1.000 1.000 1.000 1.000 0.965 0.812 0.655 0.495 0.333 0.169 0.003 0.000 0.000 0.000 0.000 0.043 0.220 0.395 0.567 0.737 0.903 1.000 1.000 1.000 1.000 1.000 1.000 1.000 0.965 0.812 0.655 0.495 0.333 0.169 0.003 0.000 0.000 0.000 0.000 0.043 0.220 0.395 0.567 0.737 0.903 1.000 1.000 1.000 1.000 1.000 1.000 1.000 0.965 0.812 0.655 0.495 0.333 0.169 0.003 0.000 0.000 0.000 0.000 0.043 0.220 0.395 0.567 0.737 0.903 1.000 1.000 1.000 1.000 1.000 1.000 1.000 0.965 0.812 0.655 0.495 0.333 0.169 0.003 0.000 0.000"/><feFuncB type="table" tableValues="0.500 0.707 0.913 1.000 1.000 1.000 1.000 1.000 0.966 0.835 0.709 0.589 0.484 0.379 0.259 0.133 0.002 0.000 0.000 0.000 0.000 0.000 0.000 0.000 0.500 0.707 0.913 1.000 1.000 1.000 1.000 1.000 0.966 0.835 0.709 0.589 0.484 0.379 0.259 0.133 0.002 0.000 0.000 0.000 0.000 0.000 0.000 0.000 0.500 0.707 0.913 1.000 1.000 1.000 1.000 1.000 0.966 0.835 0.709 0.589 0.484 0.379 0.259 0.133 0.002 0.000 0.000 0.000 0.000 0.000 0.000 0.000 0.500 0.707 0.913 1.000 1.000 1.000 1.000 1.000 0.966 0.835 0.709 0.589 0.484 0.379 0.259 0.133 0.002 0.000 0.000 0.000 0.000 0.000 0.000 0.000 0.500 0.707 0.913 1.000 1.000 1.000 1.000 1.000 0.966 0.835 0.709 0.589 0.484 0.379 0.259 0.133 0.002 0.000 0.000 0.000 0.000 0.000 0.000 0.000 0.500 0.707 0.913 1.000 1.000 1.000 1.000 1.000 0.966 0.835 0.709 0.589 0.484 0.379 0.259 0.133 0.002 0.000 0.000 0.000 0.000 0.000 0.000 0.000 0.500"/><feFuncA type="discrete" tableValues="1 1 1 1 1 1 1 1 1 1 1 1 1 1 1 1 1 1 1 1 1 1 1 1 1 1 1 1 1 1 1 1 1 1 1 1 1 1 1 1 1 1 1 1 1 1 1 1 1 1 1 1 1 1 1 1 1 1 1 1 1 1 1 1 1 1 1 1 1 1 1 1 1 1 1 1 1 1 1 1 1 1 1 1 1 1 1 1 1 1 1 1 1 1 1 1 1 1 1 1 0 0 0 0 0 0 0 0 0 0 0 0 0 0 0 0 0 0 0 0 0 0 0 0 0 0 0 0 0 0 0 0 0 0 0 0 0 0 0 0 0 0 0 0 0 0 0 0 0 0 0 0 0 0 0 0 0 0 0 0 0 0 0 0 0 0 0 0 0 0 0 0 0 0 0 0 0 0 0 0 0 0 0 0 0 0 0 0 0 0 0 0 0 0 0 0 0 0 0 0"/></feComponentTransfer><feComposite operator="in" in2="SourceGraphic"/></filter>
<filter id="pD1" x="0" y="0" width="100%" height="100%" color-interpolation-filters="sRGB"><feTurbulence type="fractalNoise" baseFrequency="0.93 0.87" numOctaves="1" seed="58"/><feColorMatrix type="matrix" values="1 0 0 0 0  1 0 0 0 0  1 0 0 0 0  0 1 0 0 0"/><feComponentTransfer><feFuncR type="table" tableValues="0.000 0.000 0.000 0.000 0.000 0.000 0.000 0.000 0.002 0.133 0.259 0.379 0.484 0.589 0.709 0.835 0.966 1.000 1.000 1.000 1.000 1.000 0.913 0.707 0.000 0.000 0.000 0.000 0.000 0.000 0.000 0.000 0.002 0.133 0.259 0.379 0.484 0.589 0.709 0.835 0.966 1.000 1.000 1.000 1.000 1.000 0.913 0.707 0.000 0.000 0.000 0.000 0.000 0.000 0.000 0.000 0.002 0.133 0.259 0.379 0.484 0.589 0.709 0.835 0.966 1.000 1.000 1.000 1.000 1.000 0.913 0.707 0.000 0.000 0.000 0.000 0.000 0.000 0.000 0.000 0.002 0.133 0.259 0.379 0.484 0.589 0.709 0.835 0.966 1.000 1.000 1.000 1.000 1.000 0.913 0.707 0.000 0.000 0.000 0.000 0.000 0.000 0.000 0.000 0.002 0.133 0.259 0.379 0.484 0.589 0.709 0.835 0.966 1.000 1.000 1.000 1.000 1.000 0.913 0.707 0.000 0.000 0.000 0.000 0.000 0.000 0.000 0.000 0.002 0.133 0.259 0.379 0.484 0.589 0.709 0.835 0.966 1.000 1.000 1.000 1.000 1.000 0.913 0.707 0.000"/><feFuncG type="table" tableValues="0.000 0.000 0.000 0.043 0.220 0.395 0.567 0.737 0.903 1.000 1.000 1.000 1.000 1.000 1.000 1.000 0.965 0.812 0.655 0.495 0.333 0.169 0.003 0.000 0.000 0.000 0.000 0.043 0.220 0.395 0.567 0.737 0.903 1.000 1.000 1.000 1.000 1.000 1.000 1.000 0.965 0.812 0.655 0.495 0.333 0.169 0.003 0.000 0.000 0.000 0.000 0.043 0.220 0.395 0.567 0.737 0.903 1.000 1.000 1.000 1.000 1.000 1.000 1.000 0.965 0.812 0.655 0.495 0.333 0.169 0.003 0.000 0.000 0.000 0.000 0.043 0.220 0.395 0.567 0.737 0.903 1.000 1.000 1.000 1.000 1.000 1.000 1.000 0.965 0.812 0.655 0.495 0.333 0.169 0.003 0.000 0.000 0.000 0.000 0.043 0.220 0.395 0.567 0.737 0.903 1.000 1.000 1.000 1.000 1.000 1.000 1.000 0.965 0.812 0.655 0.495 0.333 0.169 0.003 0.000 0.000 0.000 0.000 0.043 0.220 0.395 0.567 0.737 0.903 1.000 1.000 1.000 1.000 1.000 1.000 1.000 0.965 0.812 0.655 0.495 0.333 0.169 0.003 0.000 0.000"/><feFuncB type="table" tableValues="0.500 0.707 0.913 1.000 1.000 1.000 1.000 1.000 0.966 0.835 0.709 0.589 0.484 0.379 0.259 0.133 0.002 0.000 0.000 0.000 0.000 0.000 0.000 0.000 0.500 0.707 0.913 1.000 1.000 1.000 1.000 1.000 0.966 0.835 0.709 0.589 0.484 0.379 0.259 0.133 0.002 0.000 0.000 0.000 0.000 0.000 0.000 0.000 0.500 0.707 0.913 1.000 1.000 1.000 1.000 1.000 0.966 0.835 0.709 0.589 0.484 0.379 0.259 0.133 0.002 0.000 0.000 0.000 0.000 0.000 0.000 0.000 0.500 0.707 0.913 1.000 1.000 1.000 1.000 1.000 0.966 0.835 0.709 0.589 0.484 0.379 0.259 0.133 0.002 0.000 0.000 0.000 0.000 0.000 0.000 0.000 0.500 0.707 0.913 1.000 1.000 1.000 1.000 1.000 0.966 0.835 0.709 0.589 0.484 0.379 0.259 0.133 0.002 0.000 0.000 0.000 0.000 0.000 0.000 0.000 0.500 0.707 0.913 1.000 1.000 1.000 1.000 1.000 0.966 0.835 0.709 0.589 0.484 0.379 0.259 0.133 0.002 0.000 0.000 0.000 0.000 0.000 0.000 0.000 0.500"/><feFuncA type="discrete" tableValues="1 1 1 1 1 1 1 1 1 1 1 1 1 1 1 1 1 1 1 1 1 1 1 1 1 1 1 1 1 1 1 1 1 1 1 1 1 1 1 1 1 1 1 1 1 1 1 1 1 1 1 1 1 1 1 1 1 1 1 1 1 1 1 1 1 1 1 1 1 1 1 1 1 1 1 1 1 1 1 1 1 1 1 1 1 1 1 1 1 1 1 1 1 1 1 1 1 1 1 1 1 1 1 1 1 1 1 1 1 1 0 0 0 0 0 0 0 0 0 0 0 0 0 0 0 0 0 0 0 0 0 0 0 0 0 0 0 0 0 0 0 0 0 0 0 0 0 0 0 0 0 0 0 0 0 0 0 0 0 0 0 0 0 0 0 0 0 0 0 0 0 0 0 0 0 0 0 0 0 0 0 0 0 0 0 0 0 0 0 0 0 0 0 0 0 0 0 0 0 0"/></feComponentTransfer><feComposite operator="in" in2="SourceGraphic"/></filter>
<filter id="nz2" x="0" y="0" width="100%" height="100%" color-interpolation-filters="sRGB"><feTurbulence type="fractalNoise" baseFrequency="0.93 0.87" numOctaves="1" seed="17"/><feColorMatrix type="matrix" values="1 0 0 0 0  1 0 0 0 0  1 0 0 0 0  0 0 0 0 1"/><feComponentTransfer><feFuncR type="table" tableValues="0.000 0.000 0.000 0.000 0.000 0.000 0.000 0.000 0.002 0.133 0.259 0.379 0.484 0.589 0.709 0.835 0.966 1.000 1.000 1.000 1.000 1.000 0.913 0.707 0.000 0.000 0.000 0.000 0.000 0.000 0.000 0.000 0.002 0.133 0.259 0.379 0.484 0.589 0.709 0.835 0.966 1.000 1.000 1.000 1.000 1.000 0.913 0.707 0.000 0.000 0.000 0.000 0.000 0.000 0.000 0.000 0.002 0.133 0.259 0.379 0.484 0.589 0.709 0.835 0.966 1.000 1.000 1.000 1.000 1.000 0.913 0.707 0.000 0.000 0.000 0.000 0.000 0.000 0.000 0.000 0.002 0.133 0.259 0.379 0.484 0.589 0.709 0.835 0.966 1.000 1.000 1.000 1.000 1.000 0.913 0.707 0.000 0.000 0.000 0.000 0.000 0.000 0.000 0.000 0.002 0.133 0.259 0.379 0.484 0.589 0.709 0.835 0.966 1.000 1.000 1.000 1.000 1.000 0.913 0.707 0.000 0.000 0.000 0.000 0.000 0.000 0.000 0.000 0.002 0.133 0.259 0.379 0.484 0.589 0.709 0.835 0.966 1.000 1.000 1.000 1.000 1.000 0.913 0.707 0.000"/><feFuncG type="table" tableValues="0.000 0.000 0.000 0.043 0.220 0.395 0.567 0.737 0.903 1.000 1.000 1.000 1.000 1.000 1.000 1.000 0.965 0.812 0.655 0.495 0.333 0.169 0.003 0.000 0.000 0.000 0.000 0.043 0.220 0.395 0.567 0.737 0.903 1.000 1.000 1.000 1.000 1.000 1.000 1.000 0.965 0.812 0.655 0.495 0.333 0.169 0.003 0.000 0.000 0.000 0.000 0.043 0.220 0.395 0.567 0.737 0.903 1.000 1.000 1.000 1.000 1.000 1.000 1.000 0.965 0.812 0.655 0.495 0.333 0.169 0.003 0.000 0.000 0.000 0.000 0.043 0.220 0.395 0.567 0.737 0.903 1.000 1.000 1.000 1.000 1.000 1.000 1.000 0.965 0.812 0.655 0.495 0.333 0.169 0.003 0.000 0.000 0.000 0.000 0.043 0.220 0.395 0.567 0.737 0.903 1.000 1.000 1.000 1.000 1.000 1.000 1.000 0.965 0.812 0.655 0.495 0.333 0.169 0.003 0.000 0.000 0.000 0.000 0.043 0.220 0.395 0.567 0.737 0.903 1.000 1.000 1.000 1.000 1.000 1.000 1.000 0.965 0.812 0.655 0.495 0.333 0.169 0.003 0.000 0.000"/><feFuncB type="table" tableValues="0.500 0.707 0.913 1.000 1.000 1.000 1.000 1.000 0.966 0.835 0.709 0.589 0.484 0.379 0.259 0.133 0.002 0.000 0.000 0.000 0.000 0.000 0.000 0.000 0.500 0.707 0.913 1.000 1.000 1.000 1.000 1.000 0.966 0.835 0.709 0.589 0.484 0.379 0.259 0.133 0.002 0.000 0.000 0.000 0.000 0.000 0.000 0.000 0.500 0.707 0.913 1.000 1.000 1.000 1.000 1.000 0.966 0.835 0.709 0.589 0.484 0.379 0.259 0.133 0.002 0.000 0.000 0.000 0.000 0.000 0.000 0.000 0.500 0.707 0.913 1.000 1.000 1.000 1.000 1.000 0.966 0.835 0.709 0.589 0.484 0.379 0.259 0.133 0.002 0.000 0.000 0.000 0.000 0.000 0.000 0.000 0.500 0.707 0.913 1.000 1.000 1.000 1.000 1.000 0.966 0.835 0.709 0.589 0.484 0.379 0.259 0.133 0.002 0.000 0.000 0.000 0.000 0.000 0.000 0.000 0.500 0.707 0.913 1.000 1.000 1.000 1.000 1.000 0.966 0.835 0.709 0.589 0.484 0.379 0.259 0.133 0.002 0.000 0.000 0.000 0.000 0.000 0.000 0.000 0.500"/></feComponentTransfer></filter>
<filter id="pA2" x="0" y="0" width="100%" height="100%" color-interpolation-filters="sRGB"><feTurbulence type="fractalNoise" baseFrequency="0.93 0.87" numOctaves="1" seed="51"/><feColorMatrix type="matrix" values="1 0 0 0 0  1 0 0 0 0  1 0 0 0 0  0 1 0 0 0"/><feComponentTransfer><feFuncR type="table" tableValues="0.000 0.000 0.000 0.000 0.000 0.000 0.000 0.000 0.002 0.133 0.259 0.379 0.484 0.589 0.709 0.835 0.966 1.000 1.000 1.000 1.000 1.000 0.913 0.707 0.000 0.000 0.000 0.000 0.000 0.000 0.000 0.000 0.002 0.133 0.259 0.379 0.484 0.589 0.709 0.835 0.966 1.000 1.000 1.000 1.000 1.000 0.913 0.707 0.000 0.000 0.000 0.000 0.000 0.000 0.000 0.000 0.002 0.133 0.259 0.379 0.484 0.589 0.709 0.835 0.966 1.000 1.000 1.000 1.000 1.000 0.913 0.707 0.000 0.000 0.000 0.000 0.000 0.000 0.000 0.000 0.002 0.133 0.259 0.379 0.484 0.589 0.709 0.835 0.966 1.000 1.000 1.000 1.000 1.000 0.913 0.707 0.000 0.000 0.000 0.000 0.000 0.000 0.000 0.000 0.002 0.133 0.259 0.379 0.484 0.589 0.709 0.835 0.966 1.000 1.000 1.000 1.000 1.000 0.913 0.707 0.000 0.000 0.000 0.000 0.000 0.000 0.000 0.000 0.002 0.133 0.259 0.379 0.484 0.589 0.709 0.835 0.966 1.000 1.000 1.000 1.000 1.000 0.913 0.707 0.000"/><feFuncG type="table" tableValues="0.000 0.000 0.000 0.043 0.220 0.395 0.567 0.737 0.903 1.000 1.000 1.000 1.000 1.000 1.000 1.000 0.965 0.812 0.655 0.495 0.333 0.169 0.003 0.000 0.000 0.000 0.000 0.043 0.220 0.395 0.567 0.737 0.903 1.000 1.000 1.000 1.000 1.000 1.000 1.000 0.965 0.812 0.655 0.495 0.333 0.169 0.003 0.000 0.000 0.000 0.000 0.043 0.220 0.395 0.567 0.737 0.903 1.000 1.000 1.000 1.000 1.000 1.000 1.000 0.965 0.812 0.655 0.495 0.333 0.169 0.003 0.000 0.000 0.000 0.000 0.043 0.220 0.395 0.567 0.737 0.903 1.000 1.000 1.000 1.000 1.000 1.000 1.000 0.965 0.812 0.655 0.495 0.333 0.169 0.003 0.000 0.000 0.000 0.000 0.043 0.220 0.395 0.567 0.737 0.903 1.000 1.000 1.000 1.000 1.000 1.000 1.000 0.965 0.812 0.655 0.495 0.333 0.169 0.003 0.000 0.000 0.000 0.000 0.043 0.220 0.395 0.567 0.737 0.903 1.000 1.000 1.000 1.000 1.000 1.000 1.000 0.965 0.812 0.655 0.495 0.333 0.169 0.003 0.000 0.000"/><feFuncB type="table" tableValues="0.500 0.707 0.913 1.000 1.000 1.000 1.000 1.000 0.966 0.835 0.709 0.589 0.484 0.379 0.259 0.133 0.002 0.000 0.000 0.000 0.000 0.000 0.000 0.000 0.500 0.707 0.913 1.000 1.000 1.000 1.000 1.000 0.966 0.835 0.709 0.589 0.484 0.379 0.259 0.133 0.002 0.000 0.000 0.000 0.000 0.000 0.000 0.000 0.500 0.707 0.913 1.000 1.000 1.000 1.000 1.000 0.966 0.835 0.709 0.589 0.484 0.379 0.259 0.133 0.002 0.000 0.000 0.000 0.000 0.000 0.000 0.000 0.500 0.707 0.913 1.000 1.000 1.000 1.000 1.000 0.966 0.835 0.709 0.589 0.484 0.379 0.259 0.133 0.002 0.000 0.000 0.000 0.000 0.000 0.000 0.000 0.500 0.707 0.913 1.000 1.000 1.000 1.000 1.000 0.966 0.835 0.709 0.589 0.484 0.379 0.259 0.133 0.002 0.000 0.000 0.000 0.000 0.000 0.000 0.000 0.500 0.707 0.913 1.000 1.000 1.000 1.000 1.000 0.966 0.835 0.709 0.589 0.484 0.379 0.259 0.133 0.002 0.000 0.000 0.000 0.000 0.000 0.000 0.000 0.500"/><feFuncA type="discrete" tableValues="1 1 1 1 1 1 1 1 1 1 1 1 1 1 1 1 1 1 1 1 1 1 1 1 1 1 1 1 1 1 1 1 1 1 1 1 1 1 1 1 1 1 1 1 1 1 1 1 1 1 1 1 1 1 1 1 1 1 1 1 1 1 1 1 1 1 1 1 1 1 1 1 1 1 1 1 1 1 1 1 0 0 0 0 0 0 0 0 0 0 0 0 0 0 0 0 0 0 0 0 0 0 0 0 0 0 0 0 0 0 0 0 0 0 0 0 0 0 0 0 0 0 0 0 0 0 0 0 0 0 0 0 0 0 0 0 0 0 0 0 0 0 0 0 0 0 0 0 0 0 0 0 0 0 0 0 0 0 0 0 0 0 0 0 0 0 0 0 0 0 0 0 0 0 0 0 0 0 0 0 0 0 0 0 0 0 0 0 0 0 0 0 0 0 0 0 0 0 0 0"/></feComponentTransfer><feComposite operator="in" in2="SourceGraphic"/></filter>
<filter id="pB2" x="0" y="0" width="100%" height="100%" color-interpolation-filters="sRGB"><feTurbulence type="fractalNoise" baseFrequency="0.93 0.87" numOctaves="1" seed="53"/><feColorMatrix type="matrix" values="1 0 0 0 0  1 0 0 0 0  1 0 0 0 0  0 1 0 0 0"/><feComponentTransfer><feFuncR type="table" tableValues="0.000 0.000 0.000 0.000 0.000 0.000 0.000 0.000 0.002 0.133 0.259 0.379 0.484 0.589 0.709 0.835 0.966 1.000 1.000 1.000 1.000 1.000 0.913 0.707 0.000 0.000 0.000 0.000 0.000 0.000 0.000 0.000 0.002 0.133 0.259 0.379 0.484 0.589 0.709 0.835 0.966 1.000 1.000 1.000 1.000 1.000 0.913 0.707 0.000 0.000 0.000 0.000 0.000 0.000 0.000 0.000 0.002 0.133 0.259 0.379 0.484 0.589 0.709 0.835 0.966 1.000 1.000 1.000 1.000 1.000 0.913 0.707 0.000 0.000 0.000 0.000 0.000 0.000 0.000 0.000 0.002 0.133 0.259 0.379 0.484 0.589 0.709 0.835 0.966 1.000 1.000 1.000 1.000 1.000 0.913 0.707 0.000 0.000 0.000 0.000 0.000 0.000 0.000 0.000 0.002 0.133 0.259 0.379 0.484 0.589 0.709 0.835 0.966 1.000 1.000 1.000 1.000 1.000 0.913 0.707 0.000 0.000 0.000 0.000 0.000 0.000 0.000 0.000 0.002 0.133 0.259 0.379 0.484 0.589 0.709 0.835 0.966 1.000 1.000 1.000 1.000 1.000 0.913 0.707 0.000"/><feFuncG type="table" tableValues="0.000 0.000 0.000 0.043 0.220 0.395 0.567 0.737 0.903 1.000 1.000 1.000 1.000 1.000 1.000 1.000 0.965 0.812 0.655 0.495 0.333 0.169 0.003 0.000 0.000 0.000 0.000 0.043 0.220 0.395 0.567 0.737 0.903 1.000 1.000 1.000 1.000 1.000 1.000 1.000 0.965 0.812 0.655 0.495 0.333 0.169 0.003 0.000 0.000 0.000 0.000 0.043 0.220 0.395 0.567 0.737 0.903 1.000 1.000 1.000 1.000 1.000 1.000 1.000 0.965 0.812 0.655 0.495 0.333 0.169 0.003 0.000 0.000 0.000 0.000 0.043 0.220 0.395 0.567 0.737 0.903 1.000 1.000 1.000 1.000 1.000 1.000 1.000 0.965 0.812 0.655 0.495 0.333 0.169 0.003 0.000 0.000 0.000 0.000 0.043 0.220 0.395 0.567 0.737 0.903 1.000 1.000 1.000 1.000 1.000 1.000 1.000 0.965 0.812 0.655 0.495 0.333 0.169 0.003 0.000 0.000 0.000 0.000 0.043 0.220 0.395 0.567 0.737 0.903 1.000 1.000 1.000 1.000 1.000 1.000 1.000 0.965 0.812 0.655 0.495 0.333 0.169 0.003 0.000 0.000"/><feFuncB type="table" tableValues="0.500 0.707 0.913 1.000 1.000 1.000 1.000 1.000 0.966 0.835 0.709 0.589 0.484 0.379 0.259 0.133 0.002 0.000 0.000 0.000 0.000 0.000 0.000 0.000 0.500 0.707 0.913 1.000 1.000 1.000 1.000 1.000 0.966 0.835 0.709 0.589 0.484 0.379 0.259 0.133 0.002 0.000 0.000 0.000 0.000 0.000 0.000 0.000 0.500 0.707 0.913 1.000 1.000 1.000 1.000 1.000 0.966 0.835 0.709 0.589 0.484 0.379 0.259 0.133 0.002 0.000 0.000 0.000 0.000 0.000 0.000 0.000 0.500 0.707 0.913 1.000 1.000 1.000 1.000 1.000 0.966 0.835 0.709 0.589 0.484 0.379 0.259 0.133 0.002 0.000 0.000 0.000 0.000 0.000 0.000 0.000 0.500 0.707 0.913 1.000 1.000 1.000 1.000 1.000 0.966 0.835 0.709 0.589 0.484 0.379 0.259 0.133 0.002 0.000 0.000 0.000 0.000 0.000 0.000 0.000 0.500 0.707 0.913 1.000 1.000 1.000 1.000 1.000 0.966 0.835 0.709 0.589 0.484 0.379 0.259 0.133 0.002 0.000 0.000 0.000 0.000 0.000 0.000 0.000 0.500"/><feFuncA type="discrete" tableValues="1 1 1 1 1 1 1 1 1 1 1 1 1 1 1 1 1 1 1 1 1 1 1 1 1 1 1 1 1 1 1 1 1 1 1 1 1 1 1 1 1 1 1 1 1 1 1 1 1 1 1 1 1 1 1 1 1 1 1 1 1 1 1 1 1 1 1 1 1 1 1 1 1 1 1 1 1 1 1 1 1 1 1 1 1 1 1 1 1 1 1 0 0 0 0 0 0 0 0 0 0 0 0 0 0 0 0 0 0 0 0 0 0 0 0 0 0 0 0 0 0 0 0 0 0 0 0 0 0 0 0 0 0 0 0 0 0 0 0 0 0 0 0 0 0 0 0 0 0 0 0 0 0 0 0 0 0 0 0 0 0 0 0 0 0 0 0 0 0 0 0 0 0 0 0 0 0 0 0 0 0 0 0 0 0 0 0 0 0 0 0 0 0 0 0 0 0 0 0 0"/></feComponentTransfer><feComposite operator="in" in2="SourceGraphic"/></filter>
<filter id="pC2" x="0" y="0" width="100%" height="100%" color-interpolation-filters="sRGB"><feTurbulence type="fractalNoise" baseFrequency="0.93 0.87" numOctaves="1" seed="57"/><feColorMatrix type="matrix" values="1 0 0 0 0  1 0 0 0 0  1 0 0 0 0  0 1 0 0 0"/><feComponentTransfer><feFuncR type="table" tableValues="0.000 0.000 0.000 0.000 0.000 0.000 0.000 0.000 0.002 0.133 0.259 0.379 0.484 0.589 0.709 0.835 0.966 1.000 1.000 1.000 1.000 1.000 0.913 0.707 0.000 0.000 0.000 0.000 0.000 0.000 0.000 0.000 0.002 0.133 0.259 0.379 0.484 0.589 0.709 0.835 0.966 1.000 1.000 1.000 1.000 1.000 0.913 0.707 0.000 0.000 0.000 0.000 0.000 0.000 0.000 0.000 0.002 0.133 0.259 0.379 0.484 0.589 0.709 0.835 0.966 1.000 1.000 1.000 1.000 1.000 0.913 0.707 0.000 0.000 0.000 0.000 0.000 0.000 0.000 0.000 0.002 0.133 0.259 0.379 0.484 0.589 0.709 0.835 0.966 1.000 1.000 1.000 1.000 1.000 0.913 0.707 0.000 0.000 0.000 0.000 0.000 0.000 0.000 0.000 0.002 0.133 0.259 0.379 0.484 0.589 0.709 0.835 0.966 1.000 1.000 1.000 1.000 1.000 0.913 0.707 0.000 0.000 0.000 0.000 0.000 0.000 0.000 0.000 0.002 0.133 0.259 0.379 0.484 0.589 0.709 0.835 0.966 1.000 1.000 1.000 1.000 1.000 0.913 0.707 0.000"/><feFuncG type="table" tableValues="0.000 0.000 0.000 0.043 0.220 0.395 0.567 0.737 0.903 1.000 1.000 1.000 1.000 1.000 1.000 1.000 0.965 0.812 0.655 0.495 0.333 0.169 0.003 0.000 0.000 0.000 0.000 0.043 0.220 0.395 0.567 0.737 0.903 1.000 1.000 1.000 1.000 1.000 1.000 1.000 0.965 0.812 0.655 0.495 0.333 0.169 0.003 0.000 0.000 0.000 0.000 0.043 0.220 0.395 0.567 0.737 0.903 1.000 1.000 1.000 1.000 1.000 1.000 1.000 0.965 0.812 0.655 0.495 0.333 0.169 0.003 0.000 0.000 0.000 0.000 0.043 0.220 0.395 0.567 0.737 0.903 1.000 1.000 1.000 1.000 1.000 1.000 1.000 0.965 0.812 0.655 0.495 0.333 0.169 0.003 0.000 0.000 0.000 0.000 0.043 0.220 0.395 0.567 0.737 0.903 1.000 1.000 1.000 1.000 1.000 1.000 1.000 0.965 0.812 0.655 0.495 0.333 0.169 0.003 0.000 0.000 0.000 0.000 0.043 0.220 0.395 0.567 0.737 0.903 1.000 1.000 1.000 1.000 1.000 1.000 1.000 0.965 0.812 0.655 0.495 0.333 0.169 0.003 0.000 0.000"/><feFuncB type="table" tableValues="0.500 0.707 0.913 1.000 1.000 1.000 1.000 1.000 0.966 0.835 0.709 0.589 0.484 0.379 0.259 0.133 0.002 0.000 0.000 0.000 0.000 0.000 0.000 0.000 0.500 0.707 0.913 1.000 1.000 1.000 1.000 1.000 0.966 0.835 0.709 0.589 0.484 0.379 0.259 0.133 0.002 0.000 0.000 0.000 0.000 0.000 0.000 0.000 0.500 0.707 0.913 1.000 1.000 1.000 1.000 1.000 0.966 0.835 0.709 0.589 0.484 0.379 0.259 0.133 0.002 0.000 0.000 0.000 0.000 0.000 0.000 0.000 0.500 0.707 0.913 1.000 1.000 1.000 1.000 1.000 0.966 0.835 0.709 0.589 0.484 0.379 0.259 0.133 0.002 0.000 0.000 0.000 0.000 0.000 0.000 0.000 0.500 0.707 0.913 1.000 1.000 1.000 1.000 1.000 0.966 0.835 0.709 0.589 0.484 0.379 0.259 0.133 0.002 0.000 0.000 0.000 0.000 0.000 0.000 0.000 0.500 0.707 0.913 1.000 1.000 1.000 1.000 1.000 0.966 0.835 0.709 0.589 0.484 0.379 0.259 0.133 0.002 0.000 0.000 0.000 0.000 0.000 0.000 0.000 0.500"/><feFuncA type="discrete" tableValues="1 1 1 1 1 1 1 1 1 1 1 1 1 1 1 1 1 1 1 1 1 1 1 1 1 1 1 1 1 1 1 1 1 1 1 1 1 1 1 1 1 1 1 1 1 1 1 1 1 1 1 1 1 1 1 1 1 1 1 1 1 1 1 1 1 1 1 1 1 1 1 1 1 1 1 1 1 1 1 1 1 1 1 1 1 1 1 1 1 1 1 1 1 1 1 1 1 1 1 1 0 0 0 0 0 0 0 0 0 0 0 0 0 0 0 0 0 0 0 0 0 0 0 0 0 0 0 0 0 0 0 0 0 0 0 0 0 0 0 0 0 0 0 0 0 0 0 0 0 0 0 0 0 0 0 0 0 0 0 0 0 0 0 0 0 0 0 0 0 0 0 0 0 0 0 0 0 0 0 0 0 0 0 0 0 0 0 0 0 0 0 0 0 0 0 0 0 0 0 0"/></feComponentTransfer><feComposite operator="in" in2="SourceGraphic"/></filter>
<filter id="pD2" x="0" y="0" width="100%" height="100%" color-interpolation-filters="sRGB"><feTurbulence type="fractalNoise" baseFrequency="0.93 0.87" numOctaves="1" seed="63"/><feColorMatrix type="matrix" values="1 0 0 0 0  1 0 0 0 0  1 0 0 0 0  0 1 0 0 0"/><feComponentTransfer><feFuncR type="table" tableValues="0.000 0.000 0.000 0.000 0.000 0.000 0.000 0.000 0.002 0.133 0.259 0.379 0.484 0.589 0.709 0.835 0.966 1.000 1.000 1.000 1.000 1.000 0.913 0.707 0.000 0.000 0.000 0.000 0.000 0.000 0.000 0.000 0.002 0.133 0.259 0.379 0.484 0.589 0.709 0.835 0.966 1.000 1.000 1.000 1.000 1.000 0.913 0.707 0.000 0.000 0.000 0.000 0.000 0.000 0.000 0.000 0.002 0.133 0.259 0.379 0.484 0.589 0.709 0.835 0.966 1.000 1.000 1.000 1.000 1.000 0.913 0.707 0.000 0.000 0.000 0.000 0.000 0.000 0.000 0.000 0.002 0.133 0.259 0.379 0.484 0.589 0.709 0.835 0.966 1.000 1.000 1.000 1.000 1.000 0.913 0.707 0.000 0.000 0.000 0.000 0.000 0.000 0.000 0.000 0.002 0.133 0.259 0.379 0.484 0.589 0.709 0.835 0.966 1.000 1.000 1.000 1.000 1.000 0.913 0.707 0.000 0.000 0.000 0.000 0.000 0.000 0.000 0.000 0.002 0.133 0.259 0.379 0.484 0.589 0.709 0.835 0.966 1.000 1.000 1.000 1.000 1.000 0.913 0.707 0.000"/><feFuncG type="table" tableValues="0.000 0.000 0.000 0.043 0.220 0.395 0.567 0.737 0.903 1.000 1.000 1.000 1.000 1.000 1.000 1.000 0.965 0.812 0.655 0.495 0.333 0.169 0.003 0.000 0.000 0.000 0.000 0.043 0.220 0.395 0.567 0.737 0.903 1.000 1.000 1.000 1.000 1.000 1.000 1.000 0.965 0.812 0.655 0.495 0.333 0.169 0.003 0.000 0.000 0.000 0.000 0.043 0.220 0.395 0.567 0.737 0.903 1.000 1.000 1.000 1.000 1.000 1.000 1.000 0.965 0.812 0.655 0.495 0.333 0.169 0.003 0.000 0.000 0.000 0.000 0.043 0.220 0.395 0.567 0.737 0.903 1.000 1.000 1.000 1.000 1.000 1.000 1.000 0.965 0.812 0.655 0.495 0.333 0.169 0.003 0.000 0.000 0.000 0.000 0.043 0.220 0.395 0.567 0.737 0.903 1.000 1.000 1.000 1.000 1.000 1.000 1.000 0.965 0.812 0.655 0.495 0.333 0.169 0.003 0.000 0.000 0.000 0.000 0.043 0.220 0.395 0.567 0.737 0.903 1.000 1.000 1.000 1.000 1.000 1.000 1.000 0.965 0.812 0.655 0.495 0.333 0.169 0.003 0.000 0.000"/><feFuncB type="table" tableValues="0.500 0.707 0.913 1.000 1.000 1.000 1.000 1.000 0.966 0.835 0.709 0.589 0.484 0.379 0.259 0.133 0.002 0.000 0.000 0.000 0.000 0.000 0.000 0.000 0.500 0.707 0.913 1.000 1.000 1.000 1.000 1.000 0.966 0.835 0.709 0.589 0.484 0.379 0.259 0.133 0.002 0.000 0.000 0.000 0.000 0.000 0.000 0.000 0.500 0.707 0.913 1.000 1.000 1.000 1.000 1.000 0.966 0.835 0.709 0.589 0.484 0.379 0.259 0.133 0.002 0.000 0.000 0.000 0.000 0.000 0.000 0.000 0.500 0.707 0.913 1.000 1.000 1.000 1.000 1.000 0.966 0.835 0.709 0.589 0.484 0.379 0.259 0.133 0.002 0.000 0.000 0.000 0.000 0.000 0.000 0.000 0.500 0.707 0.913 1.000 1.000 1.000 1.000 1.000 0.966 0.835 0.709 0.589 0.484 0.379 0.259 0.133 0.002 0.000 0.000 0.000 0.000 0.000 0.000 0.000 0.500 0.707 0.913 1.000 1.000 1.000 1.000 1.000 0.966 0.835 0.709 0.589 0.484 0.379 0.259 0.133 0.002 0.000 0.000 0.000 0.000 0.000 0.000 0.000 0.500"/><feFuncA type="discrete" tableValues="1 1 1 1 1 1 1 1 1 1 1 1 1 1 1 1 1 1 1 1 1 1 1 1 1 1 1 1 1 1 1 1 1 1 1 1 1 1 1 1 1 1 1 1 1 1 1 1 1 1 1 1 1 1 1 1 1 1 1 1 1 1 1 1 1 1 1 1 1 1 1 1 1 1 1 1 1 1 1 1 1 1 1 1 1 1 1 1 1 1 1 1 1 1 1 1 1 1 1 1 1 1 1 1 1 1 1 1 1 1 0 0 0 0 0 0 0 0 0 0 0 0 0 0 0 0 0 0 0 0 0 0 0 0 0 0 0 0 0 0 0 0 0 0 0 0 0 0 0 0 0 0 0 0 0 0 0 0 0 0 0 0 0 0 0 0 0 0 0 0 0 0 0 0 0 0 0 0 0 0 0 0 0 0 0 0 0 0 0 0 0 0 0 0 0 0 0 0 0 0"/></feComponentTransfer><feComposite operator="in" in2="SourceGraphic"/></filter>
<filter id="nz3" x="0" y="0" width="100%" height="100%" color-interpolation-filters="sRGB"><feTurbulence type="fractalNoise" baseFrequency="0.93 0.87" numOctaves="1" seed="24"/><feColorMatrix type="matrix" values="1 0 0 0 0  1 0 0 0 0  1 0 0 0 0  0 0 0 0 1"/><feComponentTransfer><feFuncR type="table" tableValues="0.000 0.000 0.000 0.000 0.000 0.000 0.000 0.000 0.002 0.133 0.259 0.379 0.484 0.589 0.709 0.835 0.966 1.000 1.000 1.000 1.000 1.000 0.913 0.707 0.000 0.000 0.000 0.000 0.000 0.000 0.000 0.000 0.002 0.133 0.259 0.379 0.484 0.589 0.709 0.835 0.966 1.000 1.000 1.000 1.000 1.000 0.913 0.707 0.000 0.000 0.000 0.000 0.000 0.000 0.000 0.000 0.002 0.133 0.259 0.379 0.484 0.589 0.709 0.835 0.966 1.000 1.000 1.000 1.000 1.000 0.913 0.707 0.000 0.000 0.000 0.000 0.000 0.000 0.000 0.000 0.002 0.133 0.259 0.379 0.484 0.589 0.709 0.835 0.966 1.000 1.000 1.000 1.000 1.000 0.913 0.707 0.000 0.000 0.000 0.000 0.000 0.000 0.000 0.000 0.002 0.133 0.259 0.379 0.484 0.589 0.709 0.835 0.966 1.000 1.000 1.000 1.000 1.000 0.913 0.707 0.000 0.000 0.000 0.000 0.000 0.000 0.000 0.000 0.002 0.133 0.259 0.379 0.484 0.589 0.709 0.835 0.966 1.000 1.000 1.000 1.000 1.000 0.913 0.707 0.000"/><feFuncG type="table" tableValues="0.000 0.000 0.000 0.043 0.220 0.395 0.567 0.737 0.903 1.000 1.000 1.000 1.000 1.000 1.000 1.000 0.965 0.812 0.655 0.495 0.333 0.169 0.003 0.000 0.000 0.000 0.000 0.043 0.220 0.395 0.567 0.737 0.903 1.000 1.000 1.000 1.000 1.000 1.000 1.000 0.965 0.812 0.655 0.495 0.333 0.169 0.003 0.000 0.000 0.000 0.000 0.043 0.220 0.395 0.567 0.737 0.903 1.000 1.000 1.000 1.000 1.000 1.000 1.000 0.965 0.812 0.655 0.495 0.333 0.169 0.003 0.000 0.000 0.000 0.000 0.043 0.220 0.395 0.567 0.737 0.903 1.000 1.000 1.000 1.000 1.000 1.000 1.000 0.965 0.812 0.655 0.495 0.333 0.169 0.003 0.000 0.000 0.000 0.000 0.043 0.220 0.395 0.567 0.737 0.903 1.000 1.000 1.000 1.000 1.000 1.000 1.000 0.965 0.812 0.655 0.495 0.333 0.169 0.003 0.000 0.000 0.000 0.000 0.043 0.220 0.395 0.567 0.737 0.903 1.000 1.000 1.000 1.000 1.000 1.000 1.000 0.965 0.812 0.655 0.495 0.333 0.169 0.003 0.000 0.000"/><feFuncB type="table" tableValues="0.500 0.707 0.913 1.000 1.000 1.000 1.000 1.000 0.966 0.835 0.709 0.589 0.484 0.379 0.259 0.133 0.002 0.000 0.000 0.000 0.000 0.000 0.000 0.000 0.500 0.707 0.913 1.000 1.000 1.000 1.000 1.000 0.966 0.835 0.709 0.589 0.484 0.379 0.259 0.133 0.002 0.000 0.000 0.000 0.000 0.000 0.000 0.000 0.500 0.707 0.913 1.000 1.000 1.000 1.000 1.000 0.966 0.835 0.709 0.589 0.484 0.379 0.259 0.133 0.002 0.000 0.000 0.000 0.000 0.000 0.000 0.000 0.500 0.707 0.913 1.000 1.000 1.000 1.000 1.000 0.966 0.835 0.709 0.589 0.484 0.379 0.259 0.133 0.002 0.000 0.000 0.000 0.000 0.000 0.000 0.000 0.500 0.707 0.913 1.000 1.000 1.000 1.000 1.000 0.966 0.835 0.709 0.589 0.484 0.379 0.259 0.133 0.002 0.000 0.000 0.000 0.000 0.000 0.000 0.000 0.500 0.707 0.913 1.000 1.000 1.000 1.000 1.000 0.966 0.835 0.709 0.589 0.484 0.379 0.259 0.133 0.002 0.000 0.000 0.000 0.000 0.000 0.000 0.000 0.500"/></feComponentTransfer></filter>
<filter id="pA3" x="0" y="0" width="100%" height="100%" color-interpolation-filters="sRGB"><feTurbulence type="fractalNoise" baseFrequency="0.93 0.87" numOctaves="1" seed="56"/><feColorMatrix type="matrix" values="1 0 0 0 0  1 0 0 0 0  1 0 0 0 0  0 1 0 0 0"/><feComponentTransfer><feFuncR type="table" tableValues="0.000 0.000 0.000 0.000 0.000 0.000 0.000 0.000 0.002 0.133 0.259 0.379 0.484 0.589 0.709 0.835 0.966 1.000 1.000 1.000 1.000 1.000 0.913 0.707 0.000 0.000 0.000 0.000 0.000 0.000 0.000 0.000 0.002 0.133 0.259 0.379 0.484 0.589 0.709 0.835 0.966 1.000 1.000 1.000 1.000 1.000 0.913 0.707 0.000 0.000 0.000 0.000 0.000 0.000 0.000 0.000 0.002 0.133 0.259 0.379 0.484 0.589 0.709 0.835 0.966 1.000 1.000 1.000 1.000 1.000 0.913 0.707 0.000 0.000 0.000 0.000 0.000 0.000 0.000 0.000 0.002 0.133 0.259 0.379 0.484 0.589 0.709 0.835 0.966 1.000 1.000 1.000 1.000 1.000 0.913 0.707 0.000 0.000 0.000 0.000 0.000 0.000 0.000 0.000 0.002 0.133 0.259 0.379 0.484 0.589 0.709 0.835 0.966 1.000 1.000 1.000 1.000 1.000 0.913 0.707 0.000 0.000 0.000 0.000 0.000 0.000 0.000 0.000 0.002 0.133 0.259 0.379 0.484 0.589 0.709 0.835 0.966 1.000 1.000 1.000 1.000 1.000 0.913 0.707 0.000"/><feFuncG type="table" tableValues="0.000 0.000 0.000 0.043 0.220 0.395 0.567 0.737 0.903 1.000 1.000 1.000 1.000 1.000 1.000 1.000 0.965 0.812 0.655 0.495 0.333 0.169 0.003 0.000 0.000 0.000 0.000 0.043 0.220 0.395 0.567 0.737 0.903 1.000 1.000 1.000 1.000 1.000 1.000 1.000 0.965 0.812 0.655 0.495 0.333 0.169 0.003 0.000 0.000 0.000 0.000 0.043 0.220 0.395 0.567 0.737 0.903 1.000 1.000 1.000 1.000 1.000 1.000 1.000 0.965 0.812 0.655 0.495 0.333 0.169 0.003 0.000 0.000 0.000 0.000 0.043 0.220 0.395 0.567 0.737 0.903 1.000 1.000 1.000 1.000 1.000 1.000 1.000 0.965 0.812 0.655 0.495 0.333 0.169 0.003 0.000 0.000 0.000 0.000 0.043 0.220 0.395 0.567 0.737 0.903 1.000 1.000 1.000 1.000 1.000 1.000 1.000 0.965 0.812 0.655 0.495 0.333 0.169 0.003 0.000 0.000 0.000 0.000 0.043 0.220 0.395 0.567 0.737 0.903 1.000 1.000 1.000 1.000 1.000 1.000 1.000 0.965 0.812 0.655 0.495 0.333 0.169 0.003 0.000 0.000"/><feFuncB type="table" tableValues="0.500 0.707 0.913 1.000 1.000 1.000 1.000 1.000 0.966 0.835 0.709 0.589 0.484 0.379 0.259 0.133 0.002 0.000 0.000 0.000 0.000 0.000 0.000 0.000 0.500 0.707 0.913 1.000 1.000 1.000 1.000 1.000 0.966 0.835 0.709 0.589 0.484 0.379 0.259 0.133 0.002 0.000 0.000 0.000 0.000 0.000 0.000 0.000 0.500 0.707 0.913 1.000 1.000 1.000 1.000 1.000 0.966 0.835 0.709 0.589 0.484 0.379 0.259 0.133 0.002 0.000 0.000 0.000 0.000 0.000 0.000 0.000 0.500 0.707 0.913 1.000 1.000 1.000 1.000 1.000 0.966 0.835 0.709 0.589 0.484 0.379 0.259 0.133 0.002 0.000 0.000 0.000 0.000 0.000 0.000 0.000 0.500 0.707 0.913 1.000 1.000 1.000 1.000 1.000 0.966 0.835 0.709 0.589 0.484 0.379 0.259 0.133 0.002 0.000 0.000 0.000 0.000 0.000 0.000 0.000 0.500 0.707 0.913 1.000 1.000 1.000 1.000 1.000 0.966 0.835 0.709 0.589 0.484 0.379 0.259 0.133 0.002 0.000 0.000 0.000 0.000 0.000 0.000 0.000 0.500"/><feFuncA type="discrete" tableValues="1 1 1 1 1 1 1 1 1 1 1 1 1 1 1 1 1 1 1 1 1 1 1 1 1 1 1 1 1 1 1 1 1 1 1 1 1 1 1 1 1 1 1 1 1 1 1 1 1 1 1 1 1 1 1 1 1 1 1 1 1 1 1 1 1 1 1 1 1 1 1 1 1 1 1 1 1 1 1 1 0 0 0 0 0 0 0 0 0 0 0 0 0 0 0 0 0 0 0 0 0 0 0 0 0 0 0 0 0 0 0 0 0 0 0 0 0 0 0 0 0 0 0 0 0 0 0 0 0 0 0 0 0 0 0 0 0 0 0 0 0 0 0 0 0 0 0 0 0 0 0 0 0 0 0 0 0 0 0 0 0 0 0 0 0 0 0 0 0 0 0 0 0 0 0 0 0 0 0 0 0 0 0 0 0 0 0 0 0 0 0 0 0 0 0 0 0 0 0 0"/></feComponentTransfer><feComposite operator="in" in2="SourceGraphic"/></filter>
<filter id="pB3" x="0" y="0" width="100%" height="100%" color-interpolation-filters="sRGB"><feTurbulence type="fractalNoise" baseFrequency="0.93 0.87" numOctaves="1" seed="58"/><feColorMatrix type="matrix" values="1 0 0 0 0  1 0 0 0 0  1 0 0 0 0  0 1 0 0 0"/><feComponentTransfer><feFuncR type="table" tableValues="0.000 0.000 0.000 0.000 0.000 0.000 0.000 0.000 0.002 0.133 0.259 0.379 0.484 0.589 0.709 0.835 0.966 1.000 1.000 1.000 1.000 1.000 0.913 0.707 0.000 0.000 0.000 0.000 0.000 0.000 0.000 0.000 0.002 0.133 0.259 0.379 0.484 0.589 0.709 0.835 0.966 1.000 1.000 1.000 1.000 1.000 0.913 0.707 0.000 0.000 0.000 0.000 0.000 0.000 0.000 0.000 0.002 0.133 0.259 0.379 0.484 0.589 0.709 0.835 0.966 1.000 1.000 1.000 1.000 1.000 0.913 0.707 0.000 0.000 0.000 0.000 0.000 0.000 0.000 0.000 0.002 0.133 0.259 0.379 0.484 0.589 0.709 0.835 0.966 1.000 1.000 1.000 1.000 1.000 0.913 0.707 0.000 0.000 0.000 0.000 0.000 0.000 0.000 0.000 0.002 0.133 0.259 0.379 0.484 0.589 0.709 0.835 0.966 1.000 1.000 1.000 1.000 1.000 0.913 0.707 0.000 0.000 0.000 0.000 0.000 0.000 0.000 0.000 0.002 0.133 0.259 0.379 0.484 0.589 0.709 0.835 0.966 1.000 1.000 1.000 1.000 1.000 0.913 0.707 0.000"/><feFuncG type="table" tableValues="0.000 0.000 0.000 0.043 0.220 0.395 0.567 0.737 0.903 1.000 1.000 1.000 1.000 1.000 1.000 1.000 0.965 0.812 0.655 0.495 0.333 0.169 0.003 0.000 0.000 0.000 0.000 0.043 0.220 0.395 0.567 0.737 0.903 1.000 1.000 1.000 1.000 1.000 1.000 1.000 0.965 0.812 0.655 0.495 0.333 0.169 0.003 0.000 0.000 0.000 0.000 0.043 0.220 0.395 0.567 0.737 0.903 1.000 1.000 1.000 1.000 1.000 1.000 1.000 0.965 0.812 0.655 0.495 0.333 0.169 0.003 0.000 0.000 0.000 0.000 0.043 0.220 0.395 0.567 0.737 0.903 1.000 1.000 1.000 1.000 1.000 1.000 1.000 0.965 0.812 0.655 0.495 0.333 0.169 0.003 0.000 0.000 0.000 0.000 0.043 0.220 0.395 0.567 0.737 0.903 1.000 1.000 1.000 1.000 1.000 1.000 1.000 0.965 0.812 0.655 0.495 0.333 0.169 0.003 0.000 0.000 0.000 0.000 0.043 0.220 0.395 0.567 0.737 0.903 1.000 1.000 1.000 1.000 1.000 1.000 1.000 0.965 0.812 0.655 0.495 0.333 0.169 0.003 0.000 0.000"/><feFuncB type="table" tableValues="0.500 0.707 0.913 1.000 1.000 1.000 1.000 1.000 0.966 0.835 0.709 0.589 0.484 0.379 0.259 0.133 0.002 0.000 0.000 0.000 0.000 0.000 0.000 0.000 0.500 0.707 0.913 1.000 1.000 1.000 1.000 1.000 0.966 0.835 0.709 0.589 0.484 0.379 0.259 0.133 0.002 0.000 0.000 0.000 0.000 0.000 0.000 0.000 0.500 0.707 0.913 1.000 1.000 1.000 1.000 1.000 0.966 0.835 0.709 0.589 0.484 0.379 0.259 0.133 0.002 0.000 0.000 0.000 0.000 0.000 0.000 0.000 0.500 0.707 0.913 1.000 1.000 1.000 1.000 1.000 0.966 0.835 0.709 0.589 0.484 0.379 0.259 0.133 0.002 0.000 0.000 0.000 0.000 0.000 0.000 0.000 0.500 0.707 0.913 1.000 1.000 1.000 1.000 1.000 0.966 0.835 0.709 0.589 0.484 0.379 0.259 0.133 0.002 0.000 0.000 0.000 0.000 0.000 0.000 0.000 0.500 0.707 0.913 1.000 1.000 1.000 1.000 1.000 0.966 0.835 0.709 0.589 0.484 0.379 0.259 0.133 0.002 0.000 0.000 0.000 0.000 0.000 0.000 0.000 0.500"/><feFuncA type="discrete" tableValues="1 1 1 1 1 1 1 1 1 1 1 1 1 1 1 1 1 1 1 1 1 1 1 1 1 1 1 1 1 1 1 1 1 1 1 1 1 1 1 1 1 1 1 1 1 1 1 1 1 1 1 1 1 1 1 1 1 1 1 1 1 1 1 1 1 1 1 1 1 1 1 1 1 1 1 1 1 1 1 1 1 1 1 1 1 1 1 1 1 1 1 0 0 0 0 0 0 0 0 0 0 0 0 0 0 0 0 0 0 0 0 0 0 0 0 0 0 0 0 0 0 0 0 0 0 0 0 0 0 0 0 0 0 0 0 0 0 0 0 0 0 0 0 0 0 0 0 0 0 0 0 0 0 0 0 0 0 0 0 0 0 0 0 0 0 0 0 0 0 0 0 0 0 0 0 0 0 0 0 0 0 0 0 0 0 0 0 0 0 0 0 0 0 0 0 0 0 0 0 0"/></feComponentTransfer><feComposite operator="in" in2="SourceGraphic"/></filter>
<filter id="pC3" x="0" y="0" width="100%" height="100%" color-interpolation-filters="sRGB"><feTurbulence type="fractalNoise" baseFrequency="0.93 0.87" numOctaves="1" seed="62"/><feColorMatrix type="matrix" values="1 0 0 0 0  1 0 0 0 0  1 0 0 0 0  0 1 0 0 0"/><feComponentTransfer><feFuncR type="table" tableValues="0.000 0.000 0.000 0.000 0.000 0.000 0.000 0.000 0.002 0.133 0.259 0.379 0.484 0.589 0.709 0.835 0.966 1.000 1.000 1.000 1.000 1.000 0.913 0.707 0.000 0.000 0.000 0.000 0.000 0.000 0.000 0.000 0.002 0.133 0.259 0.379 0.484 0.589 0.709 0.835 0.966 1.000 1.000 1.000 1.000 1.000 0.913 0.707 0.000 0.000 0.000 0.000 0.000 0.000 0.000 0.000 0.002 0.133 0.259 0.379 0.484 0.589 0.709 0.835 0.966 1.000 1.000 1.000 1.000 1.000 0.913 0.707 0.000 0.000 0.000 0.000 0.000 0.000 0.000 0.000 0.002 0.133 0.259 0.379 0.484 0.589 0.709 0.835 0.966 1.000 1.000 1.000 1.000 1.000 0.913 0.707 0.000 0.000 0.000 0.000 0.000 0.000 0.000 0.000 0.002 0.133 0.259 0.379 0.484 0.589 0.709 0.835 0.966 1.000 1.000 1.000 1.000 1.000 0.913 0.707 0.000 0.000 0.000 0.000 0.000 0.000 0.000 0.000 0.002 0.133 0.259 0.379 0.484 0.589 0.709 0.835 0.966 1.000 1.000 1.000 1.000 1.000 0.913 0.707 0.000"/><feFuncG type="table" tableValues="0.000 0.000 0.000 0.043 0.220 0.395 0.567 0.737 0.903 1.000 1.000 1.000 1.000 1.000 1.000 1.000 0.965 0.812 0.655 0.495 0.333 0.169 0.003 0.000 0.000 0.000 0.000 0.043 0.220 0.395 0.567 0.737 0.903 1.000 1.000 1.000 1.000 1.000 1.000 1.000 0.965 0.812 0.655 0.495 0.333 0.169 0.003 0.000 0.000 0.000 0.000 0.043 0.220 0.395 0.567 0.737 0.903 1.000 1.000 1.000 1.000 1.000 1.000 1.000 0.965 0.812 0.655 0.495 0.333 0.169 0.003 0.000 0.000 0.000 0.000 0.043 0.220 0.395 0.567 0.737 0.903 1.000 1.000 1.000 1.000 1.000 1.000 1.000 0.965 0.812 0.655 0.495 0.333 0.169 0.003 0.000 0.000 0.000 0.000 0.043 0.220 0.395 0.567 0.737 0.903 1.000 1.000 1.000 1.000 1.000 1.000 1.000 0.965 0.812 0.655 0.495 0.333 0.169 0.003 0.000 0.000 0.000 0.000 0.043 0.220 0.395 0.567 0.737 0.903 1.000 1.000 1.000 1.000 1.000 1.000 1.000 0.965 0.812 0.655 0.495 0.333 0.169 0.003 0.000 0.000"/><feFuncB type="table" tableValues="0.500 0.707 0.913 1.000 1.000 1.000 1.000 1.000 0.966 0.835 0.709 0.589 0.484 0.379 0.259 0.133 0.002 0.000 0.000 0.000 0.000 0.000 0.000 0.000 0.500 0.707 0.913 1.000 1.000 1.000 1.000 1.000 0.966 0.835 0.709 0.589 0.484 0.379 0.259 0.133 0.002 0.000 0.000 0.000 0.000 0.000 0.000 0.000 0.500 0.707 0.913 1.000 1.000 1.000 1.000 1.000 0.966 0.835 0.709 0.589 0.484 0.379 0.259 0.133 0.002 0.000 0.000 0.000 0.000 0.000 0.000 0.000 0.500 0.707 0.913 1.000 1.000 1.000 1.000 1.000 0.966 0.835 0.709 0.589 0.484 0.379 0.259 0.133 0.002 0.000 0.000 0.000 0.000 0.000 0.000 0.000 0.500 0.707 0.913 1.000 1.000 1.000 1.000 1.000 0.966 0.835 0.709 0.589 0.484 0.379 0.259 0.133 0.002 0.000 0.000 0.000 0.000 0.000 0.000 0.000 0.500 0.707 0.913 1.000 1.000 1.000 1.000 1.000 0.966 0.835 0.709 0.589 0.484 0.379 0.259 0.133 0.002 0.000 0.000 0.000 0.000 0.000 0.000 0.000 0.500"/><feFuncA type="discrete" tableValues="1 1 1 1 1 1 1 1 1 1 1 1 1 1 1 1 1 1 1 1 1 1 1 1 1 1 1 1 1 1 1 1 1 1 1 1 1 1 1 1 1 1 1 1 1 1 1 1 1 1 1 1 1 1 1 1 1 1 1 1 1 1 1 1 1 1 1 1 1 1 1 1 1 1 1 1 1 1 1 1 1 1 1 1 1 1 1 1 1 1 1 1 1 1 1 1 1 1 1 1 0 0 0 0 0 0 0 0 0 0 0 0 0 0 0 0 0 0 0 0 0 0 0 0 0 0 0 0 0 0 0 0 0 0 0 0 0 0 0 0 0 0 0 0 0 0 0 0 0 0 0 0 0 0 0 0 0 0 0 0 0 0 0 0 0 0 0 0 0 0 0 0 0 0 0 0 0 0 0 0 0 0 0 0 0 0 0 0 0 0 0 0 0 0 0 0 0 0 0 0"/></feComponentTransfer><feComposite operator="in" in2="SourceGraphic"/></filter>
<filter id="pD3" x="0" y="0" width="100%" height="100%" color-interpolation-filters="sRGB"><feTurbulence type="fractalNoise" baseFrequency="0.93 0.87" numOctaves="1" seed="68"/><feColorMatrix type="matrix" values="1 0 0 0 0  1 0 0 0 0  1 0 0 0 0  0 1 0 0 0"/><feComponentTransfer><feFuncR type="table" tableValues="0.000 0.000 0.000 0.000 0.000 0.000 0.000 0.000 0.002 0.133 0.259 0.379 0.484 0.589 0.709 0.835 0.966 1.000 1.000 1.000 1.000 1.000 0.913 0.707 0.000 0.000 0.000 0.000 0.000 0.000 0.000 0.000 0.002 0.133 0.259 0.379 0.484 0.589 0.709 0.835 0.966 1.000 1.000 1.000 1.000 1.000 0.913 0.707 0.000 0.000 0.000 0.000 0.000 0.000 0.000 0.000 0.002 0.133 0.259 0.379 0.484 0.589 0.709 0.835 0.966 1.000 1.000 1.000 1.000 1.000 0.913 0.707 0.000 0.000 0.000 0.000 0.000 0.000 0.000 0.000 0.002 0.133 0.259 0.379 0.484 0.589 0.709 0.835 0.966 1.000 1.000 1.000 1.000 1.000 0.913 0.707 0.000 0.000 0.000 0.000 0.000 0.000 0.000 0.000 0.002 0.133 0.259 0.379 0.484 0.589 0.709 0.835 0.966 1.000 1.000 1.000 1.000 1.000 0.913 0.707 0.000 0.000 0.000 0.000 0.000 0.000 0.000 0.000 0.002 0.133 0.259 0.379 0.484 0.589 0.709 0.835 0.966 1.000 1.000 1.000 1.000 1.000 0.913 0.707 0.000"/><feFuncG type="table" tableValues="0.000 0.000 0.000 0.043 0.220 0.395 0.567 0.737 0.903 1.000 1.000 1.000 1.000 1.000 1.000 1.000 0.965 0.812 0.655 0.495 0.333 0.169 0.003 0.000 0.000 0.000 0.000 0.043 0.220 0.395 0.567 0.737 0.903 1.000 1.000 1.000 1.000 1.000 1.000 1.000 0.965 0.812 0.655 0.495 0.333 0.169 0.003 0.000 0.000 0.000 0.000 0.043 0.220 0.395 0.567 0.737 0.903 1.000 1.000 1.000 1.000 1.000 1.000 1.000 0.965 0.812 0.655 0.495 0.333 0.169 0.003 0.000 0.000 0.000 0.000 0.043 0.220 0.395 0.567 0.737 0.903 1.000 1.000 1.000 1.000 1.000 1.000 1.000 0.965 0.812 0.655 0.495 0.333 0.169 0.003 0.000 0.000 0.000 0.000 0.043 0.220 0.395 0.567 0.737 0.903 1.000 1.000 1.000 1.000 1.000 1.000 1.000 0.965 0.812 0.655 0.495 0.333 0.169 0.003 0.000 0.000 0.000 0.000 0.043 0.220 0.395 0.567 0.737 0.903 1.000 1.000 1.000 1.000 1.000 1.000 1.000 0.965 0.812 0.655 0.495 0.333 0.169 0.003 0.000 0.000"/><feFuncB type="table" tableValues="0.500 0.707 0.913 1.000 1.000 1.000 1.000 1.000 0.966 0.835 0.709 0.589 0.484 0.379 0.259 0.133 0.002 0.000 0.000 0.000 0.000 0.000 0.000 0.000 0.500 0.707 0.913 1.000 1.000 1.000 1.000 1.000 0.966 0.835 0.709 0.589 0.484 0.379 0.259 0.133 0.002 0.000 0.000 0.000 0.000 0.000 0.000 0.000 0.500 0.707 0.913 1.000 1.000 1.000 1.000 1.000 0.966 0.835 0.709 0.589 0.484 0.379 0.259 0.133 0.002 0.000 0.000 0.000 0.000 0.000 0.000 0.000 0.500 0.707 0.913 1.000 1.000 1.000 1.000 1.000 0.966 0.835 0.709 0.589 0.484 0.379 0.259 0.133 0.002 0.000 0.000 0.000 0.000 0.000 0.000 0.000 0.500 0.707 0.913 1.000 1.000 1.000 1.000 1.000 0.966 0.835 0.709 0.589 0.484 0.379 0.259 0.133 0.002 0.000 0.000 0.000 0.000 0.000 0.000 0.000 0.500 0.707 0.913 1.000 1.000 1.000 1.000 1.000 0.966 0.835 0.709 0.589 0.484 0.379 0.259 0.133 0.002 0.000 0.000 0.000 0.000 0.000 0.000 0.000 0.500"/><feFuncA type="discrete" tableValues="1 1 1 1 1 1 1 1 1 1 1 1 1 1 1 1 1 1 1 1 1 1 1 1 1 1 1 1 1 1 1 1 1 1 1 1 1 1 1 1 1 1 1 1 1 1 1 1 1 1 1 1 1 1 1 1 1 1 1 1 1 1 1 1 1 1 1 1 1 1 1 1 1 1 1 1 1 1 1 1 1 1 1 1 1 1 1 1 1 1 1 1 1 1 1 1 1 1 1 1 1 1 1 1 1 1 1 1 1 1 0 0 0 0 0 0 0 0 0 0 0 0 0 0 0 0 0 0 0 0 0 0 0 0 0 0 0 0 0 0 0 0 0 0 0 0 0 0 0 0 0 0 0 0 0 0 0 0 0 0 0 0 0 0 0 0 0 0 0 0 0 0 0 0 0 0 0 0 0 0 0 0 0 0 0 0 0 0 0 0 0 0 0 0 0 0 0 0 0 0"/></feComponentTransfer><feComposite operator="in" in2="SourceGraphic"/></filter>
<filter id="oa0" x="0" y="0" width="100%" height="100%" color-interpolation-filters="sRGB"><feTurbulence type="fractalNoise" baseFrequency="0.93 0.87" numOctaves="1" seed="61"/><feColorMatrix type="matrix" values="1 0 0 0 0  1 0 0 0 0  1 0 0 0 0  0 1 0 0 0"/><feComponentTransfer><feFuncR type="table" tableValues="0.000 0.000 0.000 0.000 0.000 0.000 0.000 0.000 0.002 0.133 0.259 0.379 0.484 0.589 0.709 0.835 0.966 1.000 1.000 1.000 1.000 1.000 0.913 0.707 0.000 0.000 0.000 0.000 0.000 0.000 0.000 0.000 0.002 0.133 0.259 0.379 0.484 0.589 0.709 0.835 0.966 1.000 1.000 1.000 1.000 1.000 0.913 0.707 0.000 0.000 0.000 0.000 0.000 0.000 0.000 0.000 0.002 0.133 0.259 0.379 0.484 0.589 0.709 0.835 0.966 1.000 1.000 1.000 1.000 1.000 0.913 0.707 0.000 0.000 0.000 0.000 0.000 0.000 0.000 0.000 0.002 0.133 0.259 0.379 0.484 0.589 0.709 0.835 0.966 1.000 1.000 1.000 1.000 1.000 0.913 0.707 0.000 0.000 0.000 0.000 0.000 0.000 0.000 0.000 0.002 0.133 0.259 0.379 0.484 0.589 0.709 0.835 0.966 1.000 1.000 1.000 1.000 1.000 0.913 0.707 0.000 0.000 0.000 0.000 0.000 0.000 0.000 0.000 0.002 0.133 0.259 0.379 0.484 0.589 0.709 0.835 0.966 1.000 1.000 1.000 1.000 1.000 0.913 0.707 0.000"/><feFuncG type="table" tableValues="0.000 0.000 0.000 0.043 0.220 0.395 0.567 0.737 0.903 1.000 1.000 1.000 1.000 1.000 1.000 1.000 0.965 0.812 0.655 0.495 0.333 0.169 0.003 0.000 0.000 0.000 0.000 0.043 0.220 0.395 0.567 0.737 0.903 1.000 1.000 1.000 1.000 1.000 1.000 1.000 0.965 0.812 0.655 0.495 0.333 0.169 0.003 0.000 0.000 0.000 0.000 0.043 0.220 0.395 0.567 0.737 0.903 1.000 1.000 1.000 1.000 1.000 1.000 1.000 0.965 0.812 0.655 0.495 0.333 0.169 0.003 0.000 0.000 0.000 0.000 0.043 0.220 0.395 0.567 0.737 0.903 1.000 1.000 1.000 1.000 1.000 1.000 1.000 0.965 0.812 0.655 0.495 0.333 0.169 0.003 0.000 0.000 0.000 0.000 0.043 0.220 0.395 0.567 0.737 0.903 1.000 1.000 1.000 1.000 1.000 1.000 1.000 0.965 0.812 0.655 0.495 0.333 0.169 0.003 0.000 0.000 0.000 0.000 0.043 0.220 0.395 0.567 0.737 0.903 1.000 1.000 1.000 1.000 1.000 1.000 1.000 0.965 0.812 0.655 0.495 0.333 0.169 0.003 0.000 0.000"/><feFuncB type="table" tableValues="0.500 0.707 0.913 1.000 1.000 1.000 1.000 1.000 0.966 0.835 0.709 0.589 0.484 0.379 0.259 0.133 0.002 0.000 0.000 0.000 0.000 0.000 0.000 0.000 0.500 0.707 0.913 1.000 1.000 1.000 1.000 1.000 0.966 0.835 0.709 0.589 0.484 0.379 0.259 0.133 0.002 0.000 0.000 0.000 0.000 0.000 0.000 0.000 0.500 0.707 0.913 1.000 1.000 1.000 1.000 1.000 0.966 0.835 0.709 0.589 0.484 0.379 0.259 0.133 0.002 0.000 0.000 0.000 0.000 0.000 0.000 0.000 0.500 0.707 0.913 1.000 1.000 1.000 1.000 1.000 0.966 0.835 0.709 0.589 0.484 0.379 0.259 0.133 0.002 0.000 0.000 0.000 0.000 0.000 0.000 0.000 0.500 0.707 0.913 1.000 1.000 1.000 1.000 1.000 0.966 0.835 0.709 0.589 0.484 0.379 0.259 0.133 0.002 0.000 0.000 0.000 0.000 0.000 0.000 0.000 0.500 0.707 0.913 1.000 1.000 1.000 1.000 1.000 0.966 0.835 0.709 0.589 0.484 0.379 0.259 0.133 0.002 0.000 0.000 0.000 0.000 0.000 0.000 0.000 0.500"/><feFuncA type="discrete" tableValues="1 1 1 1 1 1 1 1 1 1 1 1 1 1 1 1 1 1 1 1 1 1 1 1 1 1 1 1 1 1 1 1 1 1 1 1 1 1 1 1 1 1 1 1 1 1 1 1 1 1 1 1 1 1 1 1 1 1 1 1 1 1 1 1 1 1 1 1 1 0 0 0 0 0 0 0 0 0 0 0 0 0 0 0 0 0 0 0 0 0 0 0 0 0 0 0 0 0 0 0 0 0 0 0 0 0 0 0 0 0 0 0 0 0 0 0 0 0 0 0 0 0 0 0 0 0 0 0 0 0 0 0 0 0 0 0 0 0 0 0 0 0 0 0 0 0 0 0 0 0 0 0 0 0 0 0 0 0 0 0 0 0 0 0 0 0 0 0 0 0 0 0 0 0 0 0 0 0 0 0 0 0 0 0 0 0 0 0 0 0 0 0 0 0 0 0 0 0 0 0"/></feComponentTransfer><feComposite operator="in" in2="SourceGraphic"/></filter>
<filter id="ob0" x="0" y="0" width="100%" height="100%" color-interpolation-filters="sRGB"><feTurbulence type="fractalNoise" baseFrequency="0.93 0.87" numOctaves="1" seed="63"/><feColorMatrix type="matrix" values="1 0 0 0 0  1 0 0 0 0  1 0 0 0 0  0 1 0 0 0"/><feComponentTransfer><feFuncR type="table" tableValues="0.000 0.000 0.000 0.000 0.000 0.000 0.000 0.000 0.002 0.133 0.259 0.379 0.484 0.589 0.709 0.835 0.966 1.000 1.000 1.000 1.000 1.000 0.913 0.707 0.000 0.000 0.000 0.000 0.000 0.000 0.000 0.000 0.002 0.133 0.259 0.379 0.484 0.589 0.709 0.835 0.966 1.000 1.000 1.000 1.000 1.000 0.913 0.707 0.000 0.000 0.000 0.000 0.000 0.000 0.000 0.000 0.002 0.133 0.259 0.379 0.484 0.589 0.709 0.835 0.966 1.000 1.000 1.000 1.000 1.000 0.913 0.707 0.000 0.000 0.000 0.000 0.000 0.000 0.000 0.000 0.002 0.133 0.259 0.379 0.484 0.589 0.709 0.835 0.966 1.000 1.000 1.000 1.000 1.000 0.913 0.707 0.000 0.000 0.000 0.000 0.000 0.000 0.000 0.000 0.002 0.133 0.259 0.379 0.484 0.589 0.709 0.835 0.966 1.000 1.000 1.000 1.000 1.000 0.913 0.707 0.000 0.000 0.000 0.000 0.000 0.000 0.000 0.000 0.002 0.133 0.259 0.379 0.484 0.589 0.709 0.835 0.966 1.000 1.000 1.000 1.000 1.000 0.913 0.707 0.000"/><feFuncG type="table" tableValues="0.000 0.000 0.000 0.043 0.220 0.395 0.567 0.737 0.903 1.000 1.000 1.000 1.000 1.000 1.000 1.000 0.965 0.812 0.655 0.495 0.333 0.169 0.003 0.000 0.000 0.000 0.000 0.043 0.220 0.395 0.567 0.737 0.903 1.000 1.000 1.000 1.000 1.000 1.000 1.000 0.965 0.812 0.655 0.495 0.333 0.169 0.003 0.000 0.000 0.000 0.000 0.043 0.220 0.395 0.567 0.737 0.903 1.000 1.000 1.000 1.000 1.000 1.000 1.000 0.965 0.812 0.655 0.495 0.333 0.169 0.003 0.000 0.000 0.000 0.000 0.043 0.220 0.395 0.567 0.737 0.903 1.000 1.000 1.000 1.000 1.000 1.000 1.000 0.965 0.812 0.655 0.495 0.333 0.169 0.003 0.000 0.000 0.000 0.000 0.043 0.220 0.395 0.567 0.737 0.903 1.000 1.000 1.000 1.000 1.000 1.000 1.000 0.965 0.812 0.655 0.495 0.333 0.169 0.003 0.000 0.000 0.000 0.000 0.043 0.220 0.395 0.567 0.737 0.903 1.000 1.000 1.000 1.000 1.000 1.000 1.000 0.965 0.812 0.655 0.495 0.333 0.169 0.003 0.000 0.000"/><feFuncB type="table" tableValues="0.500 0.707 0.913 1.000 1.000 1.000 1.000 1.000 0.966 0.835 0.709 0.589 0.484 0.379 0.259 0.133 0.002 0.000 0.000 0.000 0.000 0.000 0.000 0.000 0.500 0.707 0.913 1.000 1.000 1.000 1.000 1.000 0.966 0.835 0.709 0.589 0.484 0.379 0.259 0.133 0.002 0.000 0.000 0.000 0.000 0.000 0.000 0.000 0.500 0.707 0.913 1.000 1.000 1.000 1.000 1.000 0.966 0.835 0.709 0.589 0.484 0.379 0.259 0.133 0.002 0.000 0.000 0.000 0.000 0.000 0.000 0.000 0.500 0.707 0.913 1.000 1.000 1.000 1.000 1.000 0.966 0.835 0.709 0.589 0.484 0.379 0.259 0.133 0.002 0.000 0.000 0.000 0.000 0.000 0.000 0.000 0.500 0.707 0.913 1.000 1.000 1.000 1.000 1.000 0.966 0.835 0.709 0.589 0.484 0.379 0.259 0.133 0.002 0.000 0.000 0.000 0.000 0.000 0.000 0.000 0.500 0.707 0.913 1.000 1.000 1.000 1.000 1.000 0.966 0.835 0.709 0.589 0.484 0.379 0.259 0.133 0.002 0.000 0.000 0.000 0.000 0.000 0.000 0.000 0.500"/><feFuncA type="discrete" tableValues="1 1 1 1 1 1 1 1 1 1 1 1 1 1 1 1 1 1 1 1 1 1 1 1 1 1 1 1 1 1 1 1 1 1 1 1 1 1 1 1 1 1 1 1 1 1 1 1 1 1 1 1 1 1 1 1 1 1 1 1 1 1 1 1 1 1 1 1 1 1 1 1 1 1 1 1 1 0 0 0 0 0 0 0 0 0 0 0 0 0 0 0 0 0 0 0 0 0 0 0 0 0 0 0 0 0 0 0 0 0 0 0 0 0 0 0 0 0 0 0 0 0 0 0 0 0 0 0 0 0 0 0 0 0 0 0 0 0 0 0 0 0 0 0 0 0 0 0 0 0 0 0 0 0 0 0 0 0 0 0 0 0 0 0 0 0 0 0 0 0 0 0 0 0 0 0 0 0 0 0 0 0 0 0 0 0 0 0 0 0 0 0 0 0 0 0 0 0 0 0"/></feComponentTransfer><feComposite operator="in" in2="SourceGraphic"/></filter>
<filter id="oc0" x="0" y="0" width="100%" height="100%" color-interpolation-filters="sRGB"><feTurbulence type="fractalNoise" baseFrequency="0.93 0.87" numOctaves="1" seed="67"/><feColorMatrix type="matrix" values="1 0 0 0 0  1 0 0 0 0  1 0 0 0 0  0 1 0 0 0"/><feComponentTransfer><feFuncR type="table" tableValues="0.000 0.000 0.000 0.000 0.000 0.000 0.000 0.000 0.002 0.133 0.259 0.379 0.484 0.589 0.709 0.835 0.966 1.000 1.000 1.000 1.000 1.000 0.913 0.707 0.000 0.000 0.000 0.000 0.000 0.000 0.000 0.000 0.002 0.133 0.259 0.379 0.484 0.589 0.709 0.835 0.966 1.000 1.000 1.000 1.000 1.000 0.913 0.707 0.000 0.000 0.000 0.000 0.000 0.000 0.000 0.000 0.002 0.133 0.259 0.379 0.484 0.589 0.709 0.835 0.966 1.000 1.000 1.000 1.000 1.000 0.913 0.707 0.000 0.000 0.000 0.000 0.000 0.000 0.000 0.000 0.002 0.133 0.259 0.379 0.484 0.589 0.709 0.835 0.966 1.000 1.000 1.000 1.000 1.000 0.913 0.707 0.000 0.000 0.000 0.000 0.000 0.000 0.000 0.000 0.002 0.133 0.259 0.379 0.484 0.589 0.709 0.835 0.966 1.000 1.000 1.000 1.000 1.000 0.913 0.707 0.000 0.000 0.000 0.000 0.000 0.000 0.000 0.000 0.002 0.133 0.259 0.379 0.484 0.589 0.709 0.835 0.966 1.000 1.000 1.000 1.000 1.000 0.913 0.707 0.000"/><feFuncG type="table" tableValues="0.000 0.000 0.000 0.043 0.220 0.395 0.567 0.737 0.903 1.000 1.000 1.000 1.000 1.000 1.000 1.000 0.965 0.812 0.655 0.495 0.333 0.169 0.003 0.000 0.000 0.000 0.000 0.043 0.220 0.395 0.567 0.737 0.903 1.000 1.000 1.000 1.000 1.000 1.000 1.000 0.965 0.812 0.655 0.495 0.333 0.169 0.003 0.000 0.000 0.000 0.000 0.043 0.220 0.395 0.567 0.737 0.903 1.000 1.000 1.000 1.000 1.000 1.000 1.000 0.965 0.812 0.655 0.495 0.333 0.169 0.003 0.000 0.000 0.000 0.000 0.043 0.220 0.395 0.567 0.737 0.903 1.000 1.000 1.000 1.000 1.000 1.000 1.000 0.965 0.812 0.655 0.495 0.333 0.169 0.003 0.000 0.000 0.000 0.000 0.043 0.220 0.395 0.567 0.737 0.903 1.000 1.000 1.000 1.000 1.000 1.000 1.000 0.965 0.812 0.655 0.495 0.333 0.169 0.003 0.000 0.000 0.000 0.000 0.043 0.220 0.395 0.567 0.737 0.903 1.000 1.000 1.000 1.000 1.000 1.000 1.000 0.965 0.812 0.655 0.495 0.333 0.169 0.003 0.000 0.000"/><feFuncB type="table" tableValues="0.500 0.707 0.913 1.000 1.000 1.000 1.000 1.000 0.966 0.835 0.709 0.589 0.484 0.379 0.259 0.133 0.002 0.000 0.000 0.000 0.000 0.000 0.000 0.000 0.500 0.707 0.913 1.000 1.000 1.000 1.000 1.000 0.966 0.835 0.709 0.589 0.484 0.379 0.259 0.133 0.002 0.000 0.000 0.000 0.000 0.000 0.000 0.000 0.500 0.707 0.913 1.000 1.000 1.000 1.000 1.000 0.966 0.835 0.709 0.589 0.484 0.379 0.259 0.133 0.002 0.000 0.000 0.000 0.000 0.000 0.000 0.000 0.500 0.707 0.913 1.000 1.000 1.000 1.000 1.000 0.966 0.835 0.709 0.589 0.484 0.379 0.259 0.133 0.002 0.000 0.000 0.000 0.000 0.000 0.000 0.000 0.500 0.707 0.913 1.000 1.000 1.000 1.000 1.000 0.966 0.835 0.709 0.589 0.484 0.379 0.259 0.133 0.002 0.000 0.000 0.000 0.000 0.000 0.000 0.000 0.500 0.707 0.913 1.000 1.000 1.000 1.000 1.000 0.966 0.835 0.709 0.589 0.484 0.379 0.259 0.133 0.002 0.000 0.000 0.000 0.000 0.000 0.000 0.000 0.500"/><feFuncA type="discrete" tableValues="1 1 1 1 1 1 1 1 1 1 1 1 1 1 1 1 1 1 1 1 1 1 1 1 1 1 1 1 1 1 1 1 1 1 1 1 1 1 1 1 1 1 1 1 1 1 1 1 1 1 1 1 1 1 1 1 1 1 1 1 1 1 1 1 1 1 1 1 1 1 1 1 1 1 1 1 1 1 1 1 1 1 1 1 1 1 0 0 0 0 0 0 0 0 0 0 0 0 0 0 0 0 0 0 0 0 0 0 0 0 0 0 0 0 0 0 0 0 0 0 0 0 0 0 0 0 0 0 0 0 0 0 0 0 0 0 0 0 0 0 0 0 0 0 0 0 0 0 0 0 0 0 0 0 0 0 0 0 0 0 0 0 0 0 0 0 0 0 0 0 0 0 0 0 0 0 0 0 0 0 0 0 0 0 0 0 0 0 0 0 0 0 0 0 0 0 0 0 0 0"/></feComponentTransfer><feComposite operator="in" in2="SourceGraphic"/></filter>
<filter id="od0" x="0" y="0" width="100%" height="100%" color-interpolation-filters="sRGB"><feTurbulence type="fractalNoise" baseFrequency="0.93 0.87" numOctaves="1" seed="69"/><feColorMatrix type="matrix" values="1 0 0 0 0  1 0 0 0 0  1 0 0 0 0  0 1 0 0 0"/><feComponentTransfer><feFuncR type="table" tableValues="0.000 0.000 0.000 0.000 0.000 0.000 0.000 0.000 0.002 0.133 0.259 0.379 0.484 0.589 0.709 0.835 0.966 1.000 1.000 1.000 1.000 1.000 0.913 0.707 0.000 0.000 0.000 0.000 0.000 0.000 0.000 0.000 0.002 0.133 0.259 0.379 0.484 0.589 0.709 0.835 0.966 1.000 1.000 1.000 1.000 1.000 0.913 0.707 0.000 0.000 0.000 0.000 0.000 0.000 0.000 0.000 0.002 0.133 0.259 0.379 0.484 0.589 0.709 0.835 0.966 1.000 1.000 1.000 1.000 1.000 0.913 0.707 0.000 0.000 0.000 0.000 0.000 0.000 0.000 0.000 0.002 0.133 0.259 0.379 0.484 0.589 0.709 0.835 0.966 1.000 1.000 1.000 1.000 1.000 0.913 0.707 0.000 0.000 0.000 0.000 0.000 0.000 0.000 0.000 0.002 0.133 0.259 0.379 0.484 0.589 0.709 0.835 0.966 1.000 1.000 1.000 1.000 1.000 0.913 0.707 0.000 0.000 0.000 0.000 0.000 0.000 0.000 0.000 0.002 0.133 0.259 0.379 0.484 0.589 0.709 0.835 0.966 1.000 1.000 1.000 1.000 1.000 0.913 0.707 0.000"/><feFuncG type="table" tableValues="0.000 0.000 0.000 0.043 0.220 0.395 0.567 0.737 0.903 1.000 1.000 1.000 1.000 1.000 1.000 1.000 0.965 0.812 0.655 0.495 0.333 0.169 0.003 0.000 0.000 0.000 0.000 0.043 0.220 0.395 0.567 0.737 0.903 1.000 1.000 1.000 1.000 1.000 1.000 1.000 0.965 0.812 0.655 0.495 0.333 0.169 0.003 0.000 0.000 0.000 0.000 0.043 0.220 0.395 0.567 0.737 0.903 1.000 1.000 1.000 1.000 1.000 1.000 1.000 0.965 0.812 0.655 0.495 0.333 0.169 0.003 0.000 0.000 0.000 0.000 0.043 0.220 0.395 0.567 0.737 0.903 1.000 1.000 1.000 1.000 1.000 1.000 1.000 0.965 0.812 0.655 0.495 0.333 0.169 0.003 0.000 0.000 0.000 0.000 0.043 0.220 0.395 0.567 0.737 0.903 1.000 1.000 1.000 1.000 1.000 1.000 1.000 0.965 0.812 0.655 0.495 0.333 0.169 0.003 0.000 0.000 0.000 0.000 0.043 0.220 0.395 0.567 0.737 0.903 1.000 1.000 1.000 1.000 1.000 1.000 1.000 0.965 0.812 0.655 0.495 0.333 0.169 0.003 0.000 0.000"/><feFuncB type="table" tableValues="0.500 0.707 0.913 1.000 1.000 1.000 1.000 1.000 0.966 0.835 0.709 0.589 0.484 0.379 0.259 0.133 0.002 0.000 0.000 0.000 0.000 0.000 0.000 0.000 0.500 0.707 0.913 1.000 1.000 1.000 1.000 1.000 0.966 0.835 0.709 0.589 0.484 0.379 0.259 0.133 0.002 0.000 0.000 0.000 0.000 0.000 0.000 0.000 0.500 0.707 0.913 1.000 1.000 1.000 1.000 1.000 0.966 0.835 0.709 0.589 0.484 0.379 0.259 0.133 0.002 0.000 0.000 0.000 0.000 0.000 0.000 0.000 0.500 0.707 0.913 1.000 1.000 1.000 1.000 1.000 0.966 0.835 0.709 0.589 0.484 0.379 0.259 0.133 0.002 0.000 0.000 0.000 0.000 0.000 0.000 0.000 0.500 0.707 0.913 1.000 1.000 1.000 1.000 1.000 0.966 0.835 0.709 0.589 0.484 0.379 0.259 0.133 0.002 0.000 0.000 0.000 0.000 0.000 0.000 0.000 0.500 0.707 0.913 1.000 1.000 1.000 1.000 1.000 0.966 0.835 0.709 0.589 0.484 0.379 0.259 0.133 0.002 0.000 0.000 0.000 0.000 0.000 0.000 0.000 0.500"/><feFuncA type="discrete" tableValues="1 1 1 1 1 1 1 1 1 1 1 1 1 1 1 1 1 1 1 1 1 1 1 1 1 1 1 1 1 1 1 1 1 1 1 1 1 1 1 1 1 1 1 1 1 1 1 1 1 1 1 1 1 1 1 1 1 1 1 1 1 1 1 1 1 1 1 1 1 1 1 1 1 1 1 1 1 1 1 1 1 1 1 1 1 1 1 1 1 1 1 1 1 1 0 0 0 0 0 0 0 0 0 0 0 0 0 0 0 0 0 0 0 0 0 0 0 0 0 0 0 0 0 0 0 0 0 0 0 0 0 0 0 0 0 0 0 0 0 0 0 0 0 0 0 0 0 0 0 0 0 0 0 0 0 0 0 0 0 0 0 0 0 0 0 0 0 0 0 0 0 0 0 0 0 0 0 0 0 0 0 0 0 0 0 0 0 0 0 0 0 0 0 0 0 0 0 0 0 0"/></feComponentTransfer><feComposite operator="in" in2="SourceGraphic"/></filter>
<filter id="oa1" x="0" y="0" width="100%" height="100%" color-interpolation-filters="sRGB"><feTurbulence type="fractalNoise" baseFrequency="0.93 0.87" numOctaves="1" seed="66"/><feColorMatrix type="matrix" values="1 0 0 0 0  1 0 0 0 0  1 0 0 0 0  0 1 0 0 0"/><feComponentTransfer><feFuncR type="table" tableValues="0.000 0.000 0.000 0.000 0.000 0.000 0.000 0.000 0.002 0.133 0.259 0.379 0.484 0.589 0.709 0.835 0.966 1.000 1.000 1.000 1.000 1.000 0.913 0.707 0.000 0.000 0.000 0.000 0.000 0.000 0.000 0.000 0.002 0.133 0.259 0.379 0.484 0.589 0.709 0.835 0.966 1.000 1.000 1.000 1.000 1.000 0.913 0.707 0.000 0.000 0.000 0.000 0.000 0.000 0.000 0.000 0.002 0.133 0.259 0.379 0.484 0.589 0.709 0.835 0.966 1.000 1.000 1.000 1.000 1.000 0.913 0.707 0.000 0.000 0.000 0.000 0.000 0.000 0.000 0.000 0.002 0.133 0.259 0.379 0.484 0.589 0.709 0.835 0.966 1.000 1.000 1.000 1.000 1.000 0.913 0.707 0.000 0.000 0.000 0.000 0.000 0.000 0.000 0.000 0.002 0.133 0.259 0.379 0.484 0.589 0.709 0.835 0.966 1.000 1.000 1.000 1.000 1.000 0.913 0.707 0.000 0.000 0.000 0.000 0.000 0.000 0.000 0.000 0.002 0.133 0.259 0.379 0.484 0.589 0.709 0.835 0.966 1.000 1.000 1.000 1.000 1.000 0.913 0.707 0.000"/><feFuncG type="table" tableValues="0.000 0.000 0.000 0.043 0.220 0.395 0.567 0.737 0.903 1.000 1.000 1.000 1.000 1.000 1.000 1.000 0.965 0.812 0.655 0.495 0.333 0.169 0.003 0.000 0.000 0.000 0.000 0.043 0.220 0.395 0.567 0.737 0.903 1.000 1.000 1.000 1.000 1.000 1.000 1.000 0.965 0.812 0.655 0.495 0.333 0.169 0.003 0.000 0.000 0.000 0.000 0.043 0.220 0.395 0.567 0.737 0.903 1.000 1.000 1.000 1.000 1.000 1.000 1.000 0.965 0.812 0.655 0.495 0.333 0.169 0.003 0.000 0.000 0.000 0.000 0.043 0.220 0.395 0.567 0.737 0.903 1.000 1.000 1.000 1.000 1.000 1.000 1.000 0.965 0.812 0.655 0.495 0.333 0.169 0.003 0.000 0.000 0.000 0.000 0.043 0.220 0.395 0.567 0.737 0.903 1.000 1.000 1.000 1.000 1.000 1.000 1.000 0.965 0.812 0.655 0.495 0.333 0.169 0.003 0.000 0.000 0.000 0.000 0.043 0.220 0.395 0.567 0.737 0.903 1.000 1.000 1.000 1.000 1.000 1.000 1.000 0.965 0.812 0.655 0.495 0.333 0.169 0.003 0.000 0.000"/><feFuncB type="table" tableValues="0.500 0.707 0.913 1.000 1.000 1.000 1.000 1.000 0.966 0.835 0.709 0.589 0.484 0.379 0.259 0.133 0.002 0.000 0.000 0.000 0.000 0.000 0.000 0.000 0.500 0.707 0.913 1.000 1.000 1.000 1.000 1.000 0.966 0.835 0.709 0.589 0.484 0.379 0.259 0.133 0.002 0.000 0.000 0.000 0.000 0.000 0.000 0.000 0.500 0.707 0.913 1.000 1.000 1.000 1.000 1.000 0.966 0.835 0.709 0.589 0.484 0.379 0.259 0.133 0.002 0.000 0.000 0.000 0.000 0.000 0.000 0.000 0.500 0.707 0.913 1.000 1.000 1.000 1.000 1.000 0.966 0.835 0.709 0.589 0.484 0.379 0.259 0.133 0.002 0.000 0.000 0.000 0.000 0.000 0.000 0.000 0.500 0.707 0.913 1.000 1.000 1.000 1.000 1.000 0.966 0.835 0.709 0.589 0.484 0.379 0.259 0.133 0.002 0.000 0.000 0.000 0.000 0.000 0.000 0.000 0.500 0.707 0.913 1.000 1.000 1.000 1.000 1.000 0.966 0.835 0.709 0.589 0.484 0.379 0.259 0.133 0.002 0.000 0.000 0.000 0.000 0.000 0.000 0.000 0.500"/><feFuncA type="discrete" tableValues="1 1 1 1 1 1 1 1 1 1 1 1 1 1 1 1 1 1 1 1 1 1 1 1 1 1 1 1 1 1 1 1 1 1 1 1 1 1 1 1 1 1 1 1 1 1 1 1 1 1 1 1 1 1 1 1 1 1 1 1 1 1 1 1 1 1 1 1 1 0 0 0 0 0 0 0 0 0 0 0 0 0 0 0 0 0 0 0 0 0 0 0 0 0 0 0 0 0 0 0 0 0 0 0 0 0 0 0 0 0 0 0 0 0 0 0 0 0 0 0 0 0 0 0 0 0 0 0 0 0 0 0 0 0 0 0 0 0 0 0 0 0 0 0 0 0 0 0 0 0 0 0 0 0 0 0 0 0 0 0 0 0 0 0 0 0 0 0 0 0 0 0 0 0 0 0 0 0 0 0 0 0 0 0 0 0 0 0 0 0 0 0 0 0 0 0 0 0 0 0"/></feComponentTransfer><feComposite operator="in" in2="SourceGraphic"/></filter>
<filter id="ob1" x="0" y="0" width="100%" height="100%" color-interpolation-filters="sRGB"><feTurbulence type="fractalNoise" baseFrequency="0.93 0.87" numOctaves="1" seed="68"/><feColorMatrix type="matrix" values="1 0 0 0 0  1 0 0 0 0  1 0 0 0 0  0 1 0 0 0"/><feComponentTransfer><feFuncR type="table" tableValues="0.000 0.000 0.000 0.000 0.000 0.000 0.000 0.000 0.002 0.133 0.259 0.379 0.484 0.589 0.709 0.835 0.966 1.000 1.000 1.000 1.000 1.000 0.913 0.707 0.000 0.000 0.000 0.000 0.000 0.000 0.000 0.000 0.002 0.133 0.259 0.379 0.484 0.589 0.709 0.835 0.966 1.000 1.000 1.000 1.000 1.000 0.913 0.707 0.000 0.000 0.000 0.000 0.000 0.000 0.000 0.000 0.002 0.133 0.259 0.379 0.484 0.589 0.709 0.835 0.966 1.000 1.000 1.000 1.000 1.000 0.913 0.707 0.000 0.000 0.000 0.000 0.000 0.000 0.000 0.000 0.002 0.133 0.259 0.379 0.484 0.589 0.709 0.835 0.966 1.000 1.000 1.000 1.000 1.000 0.913 0.707 0.000 0.000 0.000 0.000 0.000 0.000 0.000 0.000 0.002 0.133 0.259 0.379 0.484 0.589 0.709 0.835 0.966 1.000 1.000 1.000 1.000 1.000 0.913 0.707 0.000 0.000 0.000 0.000 0.000 0.000 0.000 0.000 0.002 0.133 0.259 0.379 0.484 0.589 0.709 0.835 0.966 1.000 1.000 1.000 1.000 1.000 0.913 0.707 0.000"/><feFuncG type="table" tableValues="0.000 0.000 0.000 0.043 0.220 0.395 0.567 0.737 0.903 1.000 1.000 1.000 1.000 1.000 1.000 1.000 0.965 0.812 0.655 0.495 0.333 0.169 0.003 0.000 0.000 0.000 0.000 0.043 0.220 0.395 0.567 0.737 0.903 1.000 1.000 1.000 1.000 1.000 1.000 1.000 0.965 0.812 0.655 0.495 0.333 0.169 0.003 0.000 0.000 0.000 0.000 0.043 0.220 0.395 0.567 0.737 0.903 1.000 1.000 1.000 1.000 1.000 1.000 1.000 0.965 0.812 0.655 0.495 0.333 0.169 0.003 0.000 0.000 0.000 0.000 0.043 0.220 0.395 0.567 0.737 0.903 1.000 1.000 1.000 1.000 1.000 1.000 1.000 0.965 0.812 0.655 0.495 0.333 0.169 0.003 0.000 0.000 0.000 0.000 0.043 0.220 0.395 0.567 0.737 0.903 1.000 1.000 1.000 1.000 1.000 1.000 1.000 0.965 0.812 0.655 0.495 0.333 0.169 0.003 0.000 0.000 0.000 0.000 0.043 0.220 0.395 0.567 0.737 0.903 1.000 1.000 1.000 1.000 1.000 1.000 1.000 0.965 0.812 0.655 0.495 0.333 0.169 0.003 0.000 0.000"/><feFuncB type="table" tableValues="0.500 0.707 0.913 1.000 1.000 1.000 1.000 1.000 0.966 0.835 0.709 0.589 0.484 0.379 0.259 0.133 0.002 0.000 0.000 0.000 0.000 0.000 0.000 0.000 0.500 0.707 0.913 1.000 1.000 1.000 1.000 1.000 0.966 0.835 0.709 0.589 0.484 0.379 0.259 0.133 0.002 0.000 0.000 0.000 0.000 0.000 0.000 0.000 0.500 0.707 0.913 1.000 1.000 1.000 1.000 1.000 0.966 0.835 0.709 0.589 0.484 0.379 0.259 0.133 0.002 0.000 0.000 0.000 0.000 0.000 0.000 0.000 0.500 0.707 0.913 1.000 1.000 1.000 1.000 1.000 0.966 0.835 0.709 0.589 0.484 0.379 0.259 0.133 0.002 0.000 0.000 0.000 0.000 0.000 0.000 0.000 0.500 0.707 0.913 1.000 1.000 1.000 1.000 1.000 0.966 0.835 0.709 0.589 0.484 0.379 0.259 0.133 0.002 0.000 0.000 0.000 0.000 0.000 0.000 0.000 0.500 0.707 0.913 1.000 1.000 1.000 1.000 1.000 0.966 0.835 0.709 0.589 0.484 0.379 0.259 0.133 0.002 0.000 0.000 0.000 0.000 0.000 0.000 0.000 0.500"/><feFuncA type="discrete" tableValues="1 1 1 1 1 1 1 1 1 1 1 1 1 1 1 1 1 1 1 1 1 1 1 1 1 1 1 1 1 1 1 1 1 1 1 1 1 1 1 1 1 1 1 1 1 1 1 1 1 1 1 1 1 1 1 1 1 1 1 1 1 1 1 1 1 1 1 1 1 1 1 1 1 1 1 1 1 0 0 0 0 0 0 0 0 0 0 0 0 0 0 0 0 0 0 0 0 0 0 0 0 0 0 0 0 0 0 0 0 0 0 0 0 0 0 0 0 0 0 0 0 0 0 0 0 0 0 0 0 0 0 0 0 0 0 0 0 0 0 0 0 0 0 0 0 0 0 0 0 0 0 0 0 0 0 0 0 0 0 0 0 0 0 0 0 0 0 0 0 0 0 0 0 0 0 0 0 0 0 0 0 0 0 0 0 0 0 0 0 0 0 0 0 0 0 0 0 0 0 0"/></feComponentTransfer><feComposite operator="in" in2="SourceGraphic"/></filter>
<filter id="oc1" x="0" y="0" width="100%" height="100%" color-interpolation-filters="sRGB"><feTurbulence type="fractalNoise" baseFrequency="0.93 0.87" numOctaves="1" seed="72"/><feColorMatrix type="matrix" values="1 0 0 0 0  1 0 0 0 0  1 0 0 0 0  0 1 0 0 0"/><feComponentTransfer><feFuncR type="table" tableValues="0.000 0.000 0.000 0.000 0.000 0.000 0.000 0.000 0.002 0.133 0.259 0.379 0.484 0.589 0.709 0.835 0.966 1.000 1.000 1.000 1.000 1.000 0.913 0.707 0.000 0.000 0.000 0.000 0.000 0.000 0.000 0.000 0.002 0.133 0.259 0.379 0.484 0.589 0.709 0.835 0.966 1.000 1.000 1.000 1.000 1.000 0.913 0.707 0.000 0.000 0.000 0.000 0.000 0.000 0.000 0.000 0.002 0.133 0.259 0.379 0.484 0.589 0.709 0.835 0.966 1.000 1.000 1.000 1.000 1.000 0.913 0.707 0.000 0.000 0.000 0.000 0.000 0.000 0.000 0.000 0.002 0.133 0.259 0.379 0.484 0.589 0.709 0.835 0.966 1.000 1.000 1.000 1.000 1.000 0.913 0.707 0.000 0.000 0.000 0.000 0.000 0.000 0.000 0.000 0.002 0.133 0.259 0.379 0.484 0.589 0.709 0.835 0.966 1.000 1.000 1.000 1.000 1.000 0.913 0.707 0.000 0.000 0.000 0.000 0.000 0.000 0.000 0.000 0.002 0.133 0.259 0.379 0.484 0.589 0.709 0.835 0.966 1.000 1.000 1.000 1.000 1.000 0.913 0.707 0.000"/><feFuncG type="table" tableValues="0.000 0.000 0.000 0.043 0.220 0.395 0.567 0.737 0.903 1.000 1.000 1.000 1.000 1.000 1.000 1.000 0.965 0.812 0.655 0.495 0.333 0.169 0.003 0.000 0.000 0.000 0.000 0.043 0.220 0.395 0.567 0.737 0.903 1.000 1.000 1.000 1.000 1.000 1.000 1.000 0.965 0.812 0.655 0.495 0.333 0.169 0.003 0.000 0.000 0.000 0.000 0.043 0.220 0.395 0.567 0.737 0.903 1.000 1.000 1.000 1.000 1.000 1.000 1.000 0.965 0.812 0.655 0.495 0.333 0.169 0.003 0.000 0.000 0.000 0.000 0.043 0.220 0.395 0.567 0.737 0.903 1.000 1.000 1.000 1.000 1.000 1.000 1.000 0.965 0.812 0.655 0.495 0.333 0.169 0.003 0.000 0.000 0.000 0.000 0.043 0.220 0.395 0.567 0.737 0.903 1.000 1.000 1.000 1.000 1.000 1.000 1.000 0.965 0.812 0.655 0.495 0.333 0.169 0.003 0.000 0.000 0.000 0.000 0.043 0.220 0.395 0.567 0.737 0.903 1.000 1.000 1.000 1.000 1.000 1.000 1.000 0.965 0.812 0.655 0.495 0.333 0.169 0.003 0.000 0.000"/><feFuncB type="table" tableValues="0.500 0.707 0.913 1.000 1.000 1.000 1.000 1.000 0.966 0.835 0.709 0.589 0.484 0.379 0.259 0.133 0.002 0.000 0.000 0.000 0.000 0.000 0.000 0.000 0.500 0.707 0.913 1.000 1.000 1.000 1.000 1.000 0.966 0.835 0.709 0.589 0.484 0.379 0.259 0.133 0.002 0.000 0.000 0.000 0.000 0.000 0.000 0.000 0.500 0.707 0.913 1.000 1.000 1.000 1.000 1.000 0.966 0.835 0.709 0.589 0.484 0.379 0.259 0.133 0.002 0.000 0.000 0.000 0.000 0.000 0.000 0.000 0.500 0.707 0.913 1.000 1.000 1.000 1.000 1.000 0.966 0.835 0.709 0.589 0.484 0.379 0.259 0.133 0.002 0.000 0.000 0.000 0.000 0.000 0.000 0.000 0.500 0.707 0.913 1.000 1.000 1.000 1.000 1.000 0.966 0.835 0.709 0.589 0.484 0.379 0.259 0.133 0.002 0.000 0.000 0.000 0.000 0.000 0.000 0.000 0.500 0.707 0.913 1.000 1.000 1.000 1.000 1.000 0.966 0.835 0.709 0.589 0.484 0.379 0.259 0.133 0.002 0.000 0.000 0.000 0.000 0.000 0.000 0.000 0.500"/><feFuncA type="discrete" tableValues="1 1 1 1 1 1 1 1 1 1 1 1 1 1 1 1 1 1 1 1 1 1 1 1 1 1 1 1 1 1 1 1 1 1 1 1 1 1 1 1 1 1 1 1 1 1 1 1 1 1 1 1 1 1 1 1 1 1 1 1 1 1 1 1 1 1 1 1 1 1 1 1 1 1 1 1 1 1 1 1 1 1 1 1 1 1 0 0 0 0 0 0 0 0 0 0 0 0 0 0 0 0 0 0 0 0 0 0 0 0 0 0 0 0 0 0 0 0 0 0 0 0 0 0 0 0 0 0 0 0 0 0 0 0 0 0 0 0 0 0 0 0 0 0 0 0 0 0 0 0 0 0 0 0 0 0 0 0 0 0 0 0 0 0 0 0 0 0 0 0 0 0 0 0 0 0 0 0 0 0 0 0 0 0 0 0 0 0 0 0 0 0 0 0 0 0 0 0 0 0"/></feComponentTransfer><feComposite operator="in" in2="SourceGraphic"/></filter>
<filter id="od1" x="0" y="0" width="100%" height="100%" color-interpolation-filters="sRGB"><feTurbulence type="fractalNoise" baseFrequency="0.93 0.87" numOctaves="1" seed="74"/><feColorMatrix type="matrix" values="1 0 0 0 0  1 0 0 0 0  1 0 0 0 0  0 1 0 0 0"/><feComponentTransfer><feFuncR type="table" tableValues="0.000 0.000 0.000 0.000 0.000 0.000 0.000 0.000 0.002 0.133 0.259 0.379 0.484 0.589 0.709 0.835 0.966 1.000 1.000 1.000 1.000 1.000 0.913 0.707 0.000 0.000 0.000 0.000 0.000 0.000 0.000 0.000 0.002 0.133 0.259 0.379 0.484 0.589 0.709 0.835 0.966 1.000 1.000 1.000 1.000 1.000 0.913 0.707 0.000 0.000 0.000 0.000 0.000 0.000 0.000 0.000 0.002 0.133 0.259 0.379 0.484 0.589 0.709 0.835 0.966 1.000 1.000 1.000 1.000 1.000 0.913 0.707 0.000 0.000 0.000 0.000 0.000 0.000 0.000 0.000 0.002 0.133 0.259 0.379 0.484 0.589 0.709 0.835 0.966 1.000 1.000 1.000 1.000 1.000 0.913 0.707 0.000 0.000 0.000 0.000 0.000 0.000 0.000 0.000 0.002 0.133 0.259 0.379 0.484 0.589 0.709 0.835 0.966 1.000 1.000 1.000 1.000 1.000 0.913 0.707 0.000 0.000 0.000 0.000 0.000 0.000 0.000 0.000 0.002 0.133 0.259 0.379 0.484 0.589 0.709 0.835 0.966 1.000 1.000 1.000 1.000 1.000 0.913 0.707 0.000"/><feFuncG type="table" tableValues="0.000 0.000 0.000 0.043 0.220 0.395 0.567 0.737 0.903 1.000 1.000 1.000 1.000 1.000 1.000 1.000 0.965 0.812 0.655 0.495 0.333 0.169 0.003 0.000 0.000 0.000 0.000 0.043 0.220 0.395 0.567 0.737 0.903 1.000 1.000 1.000 1.000 1.000 1.000 1.000 0.965 0.812 0.655 0.495 0.333 0.169 0.003 0.000 0.000 0.000 0.000 0.043 0.220 0.395 0.567 0.737 0.903 1.000 1.000 1.000 1.000 1.000 1.000 1.000 0.965 0.812 0.655 0.495 0.333 0.169 0.003 0.000 0.000 0.000 0.000 0.043 0.220 0.395 0.567 0.737 0.903 1.000 1.000 1.000 1.000 1.000 1.000 1.000 0.965 0.812 0.655 0.495 0.333 0.169 0.003 0.000 0.000 0.000 0.000 0.043 0.220 0.395 0.567 0.737 0.903 1.000 1.000 1.000 1.000 1.000 1.000 1.000 0.965 0.812 0.655 0.495 0.333 0.169 0.003 0.000 0.000 0.000 0.000 0.043 0.220 0.395 0.567 0.737 0.903 1.000 1.000 1.000 1.000 1.000 1.000 1.000 0.965 0.812 0.655 0.495 0.333 0.169 0.003 0.000 0.000"/><feFuncB type="table" tableValues="0.500 0.707 0.913 1.000 1.000 1.000 1.000 1.000 0.966 0.835 0.709 0.589 0.484 0.379 0.259 0.133 0.002 0.000 0.000 0.000 0.000 0.000 0.000 0.000 0.500 0.707 0.913 1.000 1.000 1.000 1.000 1.000 0.966 0.835 0.709 0.589 0.484 0.379 0.259 0.133 0.002 0.000 0.000 0.000 0.000 0.000 0.000 0.000 0.500 0.707 0.913 1.000 1.000 1.000 1.000 1.000 0.966 0.835 0.709 0.589 0.484 0.379 0.259 0.133 0.002 0.000 0.000 0.000 0.000 0.000 0.000 0.000 0.500 0.707 0.913 1.000 1.000 1.000 1.000 1.000 0.966 0.835 0.709 0.589 0.484 0.379 0.259 0.133 0.002 0.000 0.000 0.000 0.000 0.000 0.000 0.000 0.500 0.707 0.913 1.000 1.000 1.000 1.000 1.000 0.966 0.835 0.709 0.589 0.484 0.379 0.259 0.133 0.002 0.000 0.000 0.000 0.000 0.000 0.000 0.000 0.500 0.707 0.913 1.000 1.000 1.000 1.000 1.000 0.966 0.835 0.709 0.589 0.484 0.379 0.259 0.133 0.002 0.000 0.000 0.000 0.000 0.000 0.000 0.000 0.500"/><feFuncA type="discrete" tableValues="1 1 1 1 1 1 1 1 1 1 1 1 1 1 1 1 1 1 1 1 1 1 1 1 1 1 1 1 1 1 1 1 1 1 1 1 1 1 1 1 1 1 1 1 1 1 1 1 1 1 1 1 1 1 1 1 1 1 1 1 1 1 1 1 1 1 1 1 1 1 1 1 1 1 1 1 1 1 1 1 1 1 1 1 1 1 1 1 1 1 1 1 1 1 0 0 0 0 0 0 0 0 0 0 0 0 0 0 0 0 0 0 0 0 0 0 0 0 0 0 0 0 0 0 0 0 0 0 0 0 0 0 0 0 0 0 0 0 0 0 0 0 0 0 0 0 0 0 0 0 0 0 0 0 0 0 0 0 0 0 0 0 0 0 0 0 0 0 0 0 0 0 0 0 0 0 0 0 0 0 0 0 0 0 0 0 0 0 0 0 0 0 0 0 0 0 0 0 0 0"/></feComponentTransfer><feComposite operator="in" in2="SourceGraphic"/></filter>
<filter id="oa2" x="0" y="0" width="100%" height="100%" color-interpolation-filters="sRGB"><feTurbulence type="fractalNoise" baseFrequency="0.93 0.87" numOctaves="1" seed="71"/><feColorMatrix type="matrix" values="1 0 0 0 0  1 0 0 0 0  1 0 0 0 0  0 1 0 0 0"/><feComponentTransfer><feFuncR type="table" tableValues="0.000 0.000 0.000 0.000 0.000 0.000 0.000 0.000 0.002 0.133 0.259 0.379 0.484 0.589 0.709 0.835 0.966 1.000 1.000 1.000 1.000 1.000 0.913 0.707 0.000 0.000 0.000 0.000 0.000 0.000 0.000 0.000 0.002 0.133 0.259 0.379 0.484 0.589 0.709 0.835 0.966 1.000 1.000 1.000 1.000 1.000 0.913 0.707 0.000 0.000 0.000 0.000 0.000 0.000 0.000 0.000 0.002 0.133 0.259 0.379 0.484 0.589 0.709 0.835 0.966 1.000 1.000 1.000 1.000 1.000 0.913 0.707 0.000 0.000 0.000 0.000 0.000 0.000 0.000 0.000 0.002 0.133 0.259 0.379 0.484 0.589 0.709 0.835 0.966 1.000 1.000 1.000 1.000 1.000 0.913 0.707 0.000 0.000 0.000 0.000 0.000 0.000 0.000 0.000 0.002 0.133 0.259 0.379 0.484 0.589 0.709 0.835 0.966 1.000 1.000 1.000 1.000 1.000 0.913 0.707 0.000 0.000 0.000 0.000 0.000 0.000 0.000 0.000 0.002 0.133 0.259 0.379 0.484 0.589 0.709 0.835 0.966 1.000 1.000 1.000 1.000 1.000 0.913 0.707 0.000"/><feFuncG type="table" tableValues="0.000 0.000 0.000 0.043 0.220 0.395 0.567 0.737 0.903 1.000 1.000 1.000 1.000 1.000 1.000 1.000 0.965 0.812 0.655 0.495 0.333 0.169 0.003 0.000 0.000 0.000 0.000 0.043 0.220 0.395 0.567 0.737 0.903 1.000 1.000 1.000 1.000 1.000 1.000 1.000 0.965 0.812 0.655 0.495 0.333 0.169 0.003 0.000 0.000 0.000 0.000 0.043 0.220 0.395 0.567 0.737 0.903 1.000 1.000 1.000 1.000 1.000 1.000 1.000 0.965 0.812 0.655 0.495 0.333 0.169 0.003 0.000 0.000 0.000 0.000 0.043 0.220 0.395 0.567 0.737 0.903 1.000 1.000 1.000 1.000 1.000 1.000 1.000 0.965 0.812 0.655 0.495 0.333 0.169 0.003 0.000 0.000 0.000 0.000 0.043 0.220 0.395 0.567 0.737 0.903 1.000 1.000 1.000 1.000 1.000 1.000 1.000 0.965 0.812 0.655 0.495 0.333 0.169 0.003 0.000 0.000 0.000 0.000 0.043 0.220 0.395 0.567 0.737 0.903 1.000 1.000 1.000 1.000 1.000 1.000 1.000 0.965 0.812 0.655 0.495 0.333 0.169 0.003 0.000 0.000"/><feFuncB type="table" tableValues="0.500 0.707 0.913 1.000 1.000 1.000 1.000 1.000 0.966 0.835 0.709 0.589 0.484 0.379 0.259 0.133 0.002 0.000 0.000 0.000 0.000 0.000 0.000 0.000 0.500 0.707 0.913 1.000 1.000 1.000 1.000 1.000 0.966 0.835 0.709 0.589 0.484 0.379 0.259 0.133 0.002 0.000 0.000 0.000 0.000 0.000 0.000 0.000 0.500 0.707 0.913 1.000 1.000 1.000 1.000 1.000 0.966 0.835 0.709 0.589 0.484 0.379 0.259 0.133 0.002 0.000 0.000 0.000 0.000 0.000 0.000 0.000 0.500 0.707 0.913 1.000 1.000 1.000 1.000 1.000 0.966 0.835 0.709 0.589 0.484 0.379 0.259 0.133 0.002 0.000 0.000 0.000 0.000 0.000 0.000 0.000 0.500 0.707 0.913 1.000 1.000 1.000 1.000 1.000 0.966 0.835 0.709 0.589 0.484 0.379 0.259 0.133 0.002 0.000 0.000 0.000 0.000 0.000 0.000 0.000 0.500 0.707 0.913 1.000 1.000 1.000 1.000 1.000 0.966 0.835 0.709 0.589 0.484 0.379 0.259 0.133 0.002 0.000 0.000 0.000 0.000 0.000 0.000 0.000 0.500"/><feFuncA type="discrete" tableValues="1 1 1 1 1 1 1 1 1 1 1 1 1 1 1 1 1 1 1 1 1 1 1 1 1 1 1 1 1 1 1 1 1 1 1 1 1 1 1 1 1 1 1 1 1 1 1 1 1 1 1 1 1 1 1 1 1 1 1 1 1 1 1 1 1 1 1 1 1 0 0 0 0 0 0 0 0 0 0 0 0 0 0 0 0 0 0 0 0 0 0 0 0 0 0 0 0 0 0 0 0 0 0 0 0 0 0 0 0 0 0 0 0 0 0 0 0 0 0 0 0 0 0 0 0 0 0 0 0 0 0 0 0 0 0 0 0 0 0 0 0 0 0 0 0 0 0 0 0 0 0 0 0 0 0 0 0 0 0 0 0 0 0 0 0 0 0 0 0 0 0 0 0 0 0 0 0 0 0 0 0 0 0 0 0 0 0 0 0 0 0 0 0 0 0 0 0 0 0 0"/></feComponentTransfer><feComposite operator="in" in2="SourceGraphic"/></filter>
<filter id="ob2" x="0" y="0" width="100%" height="100%" color-interpolation-filters="sRGB"><feTurbulence type="fractalNoise" baseFrequency="0.93 0.87" numOctaves="1" seed="73"/><feColorMatrix type="matrix" values="1 0 0 0 0  1 0 0 0 0  1 0 0 0 0  0 1 0 0 0"/><feComponentTransfer><feFuncR type="table" tableValues="0.000 0.000 0.000 0.000 0.000 0.000 0.000 0.000 0.002 0.133 0.259 0.379 0.484 0.589 0.709 0.835 0.966 1.000 1.000 1.000 1.000 1.000 0.913 0.707 0.000 0.000 0.000 0.000 0.000 0.000 0.000 0.000 0.002 0.133 0.259 0.379 0.484 0.589 0.709 0.835 0.966 1.000 1.000 1.000 1.000 1.000 0.913 0.707 0.000 0.000 0.000 0.000 0.000 0.000 0.000 0.000 0.002 0.133 0.259 0.379 0.484 0.589 0.709 0.835 0.966 1.000 1.000 1.000 1.000 1.000 0.913 0.707 0.000 0.000 0.000 0.000 0.000 0.000 0.000 0.000 0.002 0.133 0.259 0.379 0.484 0.589 0.709 0.835 0.966 1.000 1.000 1.000 1.000 1.000 0.913 0.707 0.000 0.000 0.000 0.000 0.000 0.000 0.000 0.000 0.002 0.133 0.259 0.379 0.484 0.589 0.709 0.835 0.966 1.000 1.000 1.000 1.000 1.000 0.913 0.707 0.000 0.000 0.000 0.000 0.000 0.000 0.000 0.000 0.002 0.133 0.259 0.379 0.484 0.589 0.709 0.835 0.966 1.000 1.000 1.000 1.000 1.000 0.913 0.707 0.000"/><feFuncG type="table" tableValues="0.000 0.000 0.000 0.043 0.220 0.395 0.567 0.737 0.903 1.000 1.000 1.000 1.000 1.000 1.000 1.000 0.965 0.812 0.655 0.495 0.333 0.169 0.003 0.000 0.000 0.000 0.000 0.043 0.220 0.395 0.567 0.737 0.903 1.000 1.000 1.000 1.000 1.000 1.000 1.000 0.965 0.812 0.655 0.495 0.333 0.169 0.003 0.000 0.000 0.000 0.000 0.043 0.220 0.395 0.567 0.737 0.903 1.000 1.000 1.000 1.000 1.000 1.000 1.000 0.965 0.812 0.655 0.495 0.333 0.169 0.003 0.000 0.000 0.000 0.000 0.043 0.220 0.395 0.567 0.737 0.903 1.000 1.000 1.000 1.000 1.000 1.000 1.000 0.965 0.812 0.655 0.495 0.333 0.169 0.003 0.000 0.000 0.000 0.000 0.043 0.220 0.395 0.567 0.737 0.903 1.000 1.000 1.000 1.000 1.000 1.000 1.000 0.965 0.812 0.655 0.495 0.333 0.169 0.003 0.000 0.000 0.000 0.000 0.043 0.220 0.395 0.567 0.737 0.903 1.000 1.000 1.000 1.000 1.000 1.000 1.000 0.965 0.812 0.655 0.495 0.333 0.169 0.003 0.000 0.000"/><feFuncB type="table" tableValues="0.500 0.707 0.913 1.000 1.000 1.000 1.000 1.000 0.966 0.835 0.709 0.589 0.484 0.379 0.259 0.133 0.002 0.000 0.000 0.000 0.000 0.000 0.000 0.000 0.500 0.707 0.913 1.000 1.000 1.000 1.000 1.000 0.966 0.835 0.709 0.589 0.484 0.379 0.259 0.133 0.002 0.000 0.000 0.000 0.000 0.000 0.000 0.000 0.500 0.707 0.913 1.000 1.000 1.000 1.000 1.000 0.966 0.835 0.709 0.589 0.484 0.379 0.259 0.133 0.002 0.000 0.000 0.000 0.000 0.000 0.000 0.000 0.500 0.707 0.913 1.000 1.000 1.000 1.000 1.000 0.966 0.835 0.709 0.589 0.484 0.379 0.259 0.133 0.002 0.000 0.000 0.000 0.000 0.000 0.000 0.000 0.500 0.707 0.913 1.000 1.000 1.000 1.000 1.000 0.966 0.835 0.709 0.589 0.484 0.379 0.259 0.133 0.002 0.000 0.000 0.000 0.000 0.000 0.000 0.000 0.500 0.707 0.913 1.000 1.000 1.000 1.000 1.000 0.966 0.835 0.709 0.589 0.484 0.379 0.259 0.133 0.002 0.000 0.000 0.000 0.000 0.000 0.000 0.000 0.500"/><feFuncA type="discrete" tableValues="1 1 1 1 1 1 1 1 1 1 1 1 1 1 1 1 1 1 1 1 1 1 1 1 1 1 1 1 1 1 1 1 1 1 1 1 1 1 1 1 1 1 1 1 1 1 1 1 1 1 1 1 1 1 1 1 1 1 1 1 1 1 1 1 1 1 1 1 1 1 1 1 1 1 1 1 1 0 0 0 0 0 0 0 0 0 0 0 0 0 0 0 0 0 0 0 0 0 0 0 0 0 0 0 0 0 0 0 0 0 0 0 0 0 0 0 0 0 0 0 0 0 0 0 0 0 0 0 0 0 0 0 0 0 0 0 0 0 0 0 0 0 0 0 0 0 0 0 0 0 0 0 0 0 0 0 0 0 0 0 0 0 0 0 0 0 0 0 0 0 0 0 0 0 0 0 0 0 0 0 0 0 0 0 0 0 0 0 0 0 0 0 0 0 0 0 0 0 0 0"/></feComponentTransfer><feComposite operator="in" in2="SourceGraphic"/></filter>
<filter id="oc2" x="0" y="0" width="100%" height="100%" color-interpolation-filters="sRGB"><feTurbulence type="fractalNoise" baseFrequency="0.93 0.87" numOctaves="1" seed="77"/><feColorMatrix type="matrix" values="1 0 0 0 0  1 0 0 0 0  1 0 0 0 0  0 1 0 0 0"/><feComponentTransfer><feFuncR type="table" tableValues="0.000 0.000 0.000 0.000 0.000 0.000 0.000 0.000 0.002 0.133 0.259 0.379 0.484 0.589 0.709 0.835 0.966 1.000 1.000 1.000 1.000 1.000 0.913 0.707 0.000 0.000 0.000 0.000 0.000 0.000 0.000 0.000 0.002 0.133 0.259 0.379 0.484 0.589 0.709 0.835 0.966 1.000 1.000 1.000 1.000 1.000 0.913 0.707 0.000 0.000 0.000 0.000 0.000 0.000 0.000 0.000 0.002 0.133 0.259 0.379 0.484 0.589 0.709 0.835 0.966 1.000 1.000 1.000 1.000 1.000 0.913 0.707 0.000 0.000 0.000 0.000 0.000 0.000 0.000 0.000 0.002 0.133 0.259 0.379 0.484 0.589 0.709 0.835 0.966 1.000 1.000 1.000 1.000 1.000 0.913 0.707 0.000 0.000 0.000 0.000 0.000 0.000 0.000 0.000 0.002 0.133 0.259 0.379 0.484 0.589 0.709 0.835 0.966 1.000 1.000 1.000 1.000 1.000 0.913 0.707 0.000 0.000 0.000 0.000 0.000 0.000 0.000 0.000 0.002 0.133 0.259 0.379 0.484 0.589 0.709 0.835 0.966 1.000 1.000 1.000 1.000 1.000 0.913 0.707 0.000"/><feFuncG type="table" tableValues="0.000 0.000 0.000 0.043 0.220 0.395 0.567 0.737 0.903 1.000 1.000 1.000 1.000 1.000 1.000 1.000 0.965 0.812 0.655 0.495 0.333 0.169 0.003 0.000 0.000 0.000 0.000 0.043 0.220 0.395 0.567 0.737 0.903 1.000 1.000 1.000 1.000 1.000 1.000 1.000 0.965 0.812 0.655 0.495 0.333 0.169 0.003 0.000 0.000 0.000 0.000 0.043 0.220 0.395 0.567 0.737 0.903 1.000 1.000 1.000 1.000 1.000 1.000 1.000 0.965 0.812 0.655 0.495 0.333 0.169 0.003 0.000 0.000 0.000 0.000 0.043 0.220 0.395 0.567 0.737 0.903 1.000 1.000 1.000 1.000 1.000 1.000 1.000 0.965 0.812 0.655 0.495 0.333 0.169 0.003 0.000 0.000 0.000 0.000 0.043 0.220 0.395 0.567 0.737 0.903 1.000 1.000 1.000 1.000 1.000 1.000 1.000 0.965 0.812 0.655 0.495 0.333 0.169 0.003 0.000 0.000 0.000 0.000 0.043 0.220 0.395 0.567 0.737 0.903 1.000 1.000 1.000 1.000 1.000 1.000 1.000 0.965 0.812 0.655 0.495 0.333 0.169 0.003 0.000 0.000"/><feFuncB type="table" tableValues="0.500 0.707 0.913 1.000 1.000 1.000 1.000 1.000 0.966 0.835 0.709 0.589 0.484 0.379 0.259 0.133 0.002 0.000 0.000 0.000 0.000 0.000 0.000 0.000 0.500 0.707 0.913 1.000 1.000 1.000 1.000 1.000 0.966 0.835 0.709 0.589 0.484 0.379 0.259 0.133 0.002 0.000 0.000 0.000 0.000 0.000 0.000 0.000 0.500 0.707 0.913 1.000 1.000 1.000 1.000 1.000 0.966 0.835 0.709 0.589 0.484 0.379 0.259 0.133 0.002 0.000 0.000 0.000 0.000 0.000 0.000 0.000 0.500 0.707 0.913 1.000 1.000 1.000 1.000 1.000 0.966 0.835 0.709 0.589 0.484 0.379 0.259 0.133 0.002 0.000 0.000 0.000 0.000 0.000 0.000 0.000 0.500 0.707 0.913 1.000 1.000 1.000 1.000 1.000 0.966 0.835 0.709 0.589 0.484 0.379 0.259 0.133 0.002 0.000 0.000 0.000 0.000 0.000 0.000 0.000 0.500 0.707 0.913 1.000 1.000 1.000 1.000 1.000 0.966 0.835 0.709 0.589 0.484 0.379 0.259 0.133 0.002 0.000 0.000 0.000 0.000 0.000 0.000 0.000 0.500"/><feFuncA type="discrete" tableValues="1 1 1 1 1 1 1 1 1 1 1 1 1 1 1 1 1 1 1 1 1 1 1 1 1 1 1 1 1 1 1 1 1 1 1 1 1 1 1 1 1 1 1 1 1 1 1 1 1 1 1 1 1 1 1 1 1 1 1 1 1 1 1 1 1 1 1 1 1 1 1 1 1 1 1 1 1 1 1 1 1 1 1 1 1 1 0 0 0 0 0 0 0 0 0 0 0 0 0 0 0 0 0 0 0 0 0 0 0 0 0 0 0 0 0 0 0 0 0 0 0 0 0 0 0 0 0 0 0 0 0 0 0 0 0 0 0 0 0 0 0 0 0 0 0 0 0 0 0 0 0 0 0 0 0 0 0 0 0 0 0 0 0 0 0 0 0 0 0 0 0 0 0 0 0 0 0 0 0 0 0 0 0 0 0 0 0 0 0 0 0 0 0 0 0 0 0 0 0 0"/></feComponentTransfer><feComposite operator="in" in2="SourceGraphic"/></filter>
<filter id="od2" x="0" y="0" width="100%" height="100%" color-interpolation-filters="sRGB"><feTurbulence type="fractalNoise" baseFrequency="0.93 0.87" numOctaves="1" seed="79"/><feColorMatrix type="matrix" values="1 0 0 0 0  1 0 0 0 0  1 0 0 0 0  0 1 0 0 0"/><feComponentTransfer><feFuncR type="table" tableValues="0.000 0.000 0.000 0.000 0.000 0.000 0.000 0.000 0.002 0.133 0.259 0.379 0.484 0.589 0.709 0.835 0.966 1.000 1.000 1.000 1.000 1.000 0.913 0.707 0.000 0.000 0.000 0.000 0.000 0.000 0.000 0.000 0.002 0.133 0.259 0.379 0.484 0.589 0.709 0.835 0.966 1.000 1.000 1.000 1.000 1.000 0.913 0.707 0.000 0.000 0.000 0.000 0.000 0.000 0.000 0.000 0.002 0.133 0.259 0.379 0.484 0.589 0.709 0.835 0.966 1.000 1.000 1.000 1.000 1.000 0.913 0.707 0.000 0.000 0.000 0.000 0.000 0.000 0.000 0.000 0.002 0.133 0.259 0.379 0.484 0.589 0.709 0.835 0.966 1.000 1.000 1.000 1.000 1.000 0.913 0.707 0.000 0.000 0.000 0.000 0.000 0.000 0.000 0.000 0.002 0.133 0.259 0.379 0.484 0.589 0.709 0.835 0.966 1.000 1.000 1.000 1.000 1.000 0.913 0.707 0.000 0.000 0.000 0.000 0.000 0.000 0.000 0.000 0.002 0.133 0.259 0.379 0.484 0.589 0.709 0.835 0.966 1.000 1.000 1.000 1.000 1.000 0.913 0.707 0.000"/><feFuncG type="table" tableValues="0.000 0.000 0.000 0.043 0.220 0.395 0.567 0.737 0.903 1.000 1.000 1.000 1.000 1.000 1.000 1.000 0.965 0.812 0.655 0.495 0.333 0.169 0.003 0.000 0.000 0.000 0.000 0.043 0.220 0.395 0.567 0.737 0.903 1.000 1.000 1.000 1.000 1.000 1.000 1.000 0.965 0.812 0.655 0.495 0.333 0.169 0.003 0.000 0.000 0.000 0.000 0.043 0.220 0.395 0.567 0.737 0.903 1.000 1.000 1.000 1.000 1.000 1.000 1.000 0.965 0.812 0.655 0.495 0.333 0.169 0.003 0.000 0.000 0.000 0.000 0.043 0.220 0.395 0.567 0.737 0.903 1.000 1.000 1.000 1.000 1.000 1.000 1.000 0.965 0.812 0.655 0.495 0.333 0.169 0.003 0.000 0.000 0.000 0.000 0.043 0.220 0.395 0.567 0.737 0.903 1.000 1.000 1.000 1.000 1.000 1.000 1.000 0.965 0.812 0.655 0.495 0.333 0.169 0.003 0.000 0.000 0.000 0.000 0.043 0.220 0.395 0.567 0.737 0.903 1.000 1.000 1.000 1.000 1.000 1.000 1.000 0.965 0.812 0.655 0.495 0.333 0.169 0.003 0.000 0.000"/><feFuncB type="table" tableValues="0.500 0.707 0.913 1.000 1.000 1.000 1.000 1.000 0.966 0.835 0.709 0.589 0.484 0.379 0.259 0.133 0.002 0.000 0.000 0.000 0.000 0.000 0.000 0.000 0.500 0.707 0.913 1.000 1.000 1.000 1.000 1.000 0.966 0.835 0.709 0.589 0.484 0.379 0.259 0.133 0.002 0.000 0.000 0.000 0.000 0.000 0.000 0.000 0.500 0.707 0.913 1.000 1.000 1.000 1.000 1.000 0.966 0.835 0.709 0.589 0.484 0.379 0.259 0.133 0.002 0.000 0.000 0.000 0.000 0.000 0.000 0.000 0.500 0.707 0.913 1.000 1.000 1.000 1.000 1.000 0.966 0.835 0.709 0.589 0.484 0.379 0.259 0.133 0.002 0.000 0.000 0.000 0.000 0.000 0.000 0.000 0.500 0.707 0.913 1.000 1.000 1.000 1.000 1.000 0.966 0.835 0.709 0.589 0.484 0.379 0.259 0.133 0.002 0.000 0.000 0.000 0.000 0.000 0.000 0.000 0.500 0.707 0.913 1.000 1.000 1.000 1.000 1.000 0.966 0.835 0.709 0.589 0.484 0.379 0.259 0.133 0.002 0.000 0.000 0.000 0.000 0.000 0.000 0.000 0.500"/><feFuncA type="discrete" tableValues="1 1 1 1 1 1 1 1 1 1 1 1 1 1 1 1 1 1 1 1 1 1 1 1 1 1 1 1 1 1 1 1 1 1 1 1 1 1 1 1 1 1 1 1 1 1 1 1 1 1 1 1 1 1 1 1 1 1 1 1 1 1 1 1 1 1 1 1 1 1 1 1 1 1 1 1 1 1 1 1 1 1 1 1 1 1 1 1 1 1 1 1 1 1 0 0 0 0 0 0 0 0 0 0 0 0 0 0 0 0 0 0 0 0 0 0 0 0 0 0 0 0 0 0 0 0 0 0 0 0 0 0 0 0 0 0 0 0 0 0 0 0 0 0 0 0 0 0 0 0 0 0 0 0 0 0 0 0 0 0 0 0 0 0 0 0 0 0 0 0 0 0 0 0 0 0 0 0 0 0 0 0 0 0 0 0 0 0 0 0 0 0 0 0 0 0 0 0 0 0"/></feComponentTransfer><feComposite operator="in" in2="SourceGraphic"/></filter>
<filter id="oa3" x="0" y="0" width="100%" height="100%" color-interpolation-filters="sRGB"><feTurbulence type="fractalNoise" baseFrequency="0.93 0.87" numOctaves="1" seed="76"/><feColorMatrix type="matrix" values="1 0 0 0 0  1 0 0 0 0  1 0 0 0 0  0 1 0 0 0"/><feComponentTransfer><feFuncR type="table" tableValues="0.000 0.000 0.000 0.000 0.000 0.000 0.000 0.000 0.002 0.133 0.259 0.379 0.484 0.589 0.709 0.835 0.966 1.000 1.000 1.000 1.000 1.000 0.913 0.707 0.000 0.000 0.000 0.000 0.000 0.000 0.000 0.000 0.002 0.133 0.259 0.379 0.484 0.589 0.709 0.835 0.966 1.000 1.000 1.000 1.000 1.000 0.913 0.707 0.000 0.000 0.000 0.000 0.000 0.000 0.000 0.000 0.002 0.133 0.259 0.379 0.484 0.589 0.709 0.835 0.966 1.000 1.000 1.000 1.000 1.000 0.913 0.707 0.000 0.000 0.000 0.000 0.000 0.000 0.000 0.000 0.002 0.133 0.259 0.379 0.484 0.589 0.709 0.835 0.966 1.000 1.000 1.000 1.000 1.000 0.913 0.707 0.000 0.000 0.000 0.000 0.000 0.000 0.000 0.000 0.002 0.133 0.259 0.379 0.484 0.589 0.709 0.835 0.966 1.000 1.000 1.000 1.000 1.000 0.913 0.707 0.000 0.000 0.000 0.000 0.000 0.000 0.000 0.000 0.002 0.133 0.259 0.379 0.484 0.589 0.709 0.835 0.966 1.000 1.000 1.000 1.000 1.000 0.913 0.707 0.000"/><feFuncG type="table" tableValues="0.000 0.000 0.000 0.043 0.220 0.395 0.567 0.737 0.903 1.000 1.000 1.000 1.000 1.000 1.000 1.000 0.965 0.812 0.655 0.495 0.333 0.169 0.003 0.000 0.000 0.000 0.000 0.043 0.220 0.395 0.567 0.737 0.903 1.000 1.000 1.000 1.000 1.000 1.000 1.000 0.965 0.812 0.655 0.495 0.333 0.169 0.003 0.000 0.000 0.000 0.000 0.043 0.220 0.395 0.567 0.737 0.903 1.000 1.000 1.000 1.000 1.000 1.000 1.000 0.965 0.812 0.655 0.495 0.333 0.169 0.003 0.000 0.000 0.000 0.000 0.043 0.220 0.395 0.567 0.737 0.903 1.000 1.000 1.000 1.000 1.000 1.000 1.000 0.965 0.812 0.655 0.495 0.333 0.169 0.003 0.000 0.000 0.000 0.000 0.043 0.220 0.395 0.567 0.737 0.903 1.000 1.000 1.000 1.000 1.000 1.000 1.000 0.965 0.812 0.655 0.495 0.333 0.169 0.003 0.000 0.000 0.000 0.000 0.043 0.220 0.395 0.567 0.737 0.903 1.000 1.000 1.000 1.000 1.000 1.000 1.000 0.965 0.812 0.655 0.495 0.333 0.169 0.003 0.000 0.000"/><feFuncB type="table" tableValues="0.500 0.707 0.913 1.000 1.000 1.000 1.000 1.000 0.966 0.835 0.709 0.589 0.484 0.379 0.259 0.133 0.002 0.000 0.000 0.000 0.000 0.000 0.000 0.000 0.500 0.707 0.913 1.000 1.000 1.000 1.000 1.000 0.966 0.835 0.709 0.589 0.484 0.379 0.259 0.133 0.002 0.000 0.000 0.000 0.000 0.000 0.000 0.000 0.500 0.707 0.913 1.000 1.000 1.000 1.000 1.000 0.966 0.835 0.709 0.589 0.484 0.379 0.259 0.133 0.002 0.000 0.000 0.000 0.000 0.000 0.000 0.000 0.500 0.707 0.913 1.000 1.000 1.000 1.000 1.000 0.966 0.835 0.709 0.589 0.484 0.379 0.259 0.133 0.002 0.000 0.000 0.000 0.000 0.000 0.000 0.000 0.500 0.707 0.913 1.000 1.000 1.000 1.000 1.000 0.966 0.835 0.709 0.589 0.484 0.379 0.259 0.133 0.002 0.000 0.000 0.000 0.000 0.000 0.000 0.000 0.500 0.707 0.913 1.000 1.000 1.000 1.000 1.000 0.966 0.835 0.709 0.589 0.484 0.379 0.259 0.133 0.002 0.000 0.000 0.000 0.000 0.000 0.000 0.000 0.500"/><feFuncA type="discrete" tableValues="1 1 1 1 1 1 1 1 1 1 1 1 1 1 1 1 1 1 1 1 1 1 1 1 1 1 1 1 1 1 1 1 1 1 1 1 1 1 1 1 1 1 1 1 1 1 1 1 1 1 1 1 1 1 1 1 1 1 1 1 1 1 1 1 1 1 1 1 1 0 0 0 0 0 0 0 0 0 0 0 0 0 0 0 0 0 0 0 0 0 0 0 0 0 0 0 0 0 0 0 0 0 0 0 0 0 0 0 0 0 0 0 0 0 0 0 0 0 0 0 0 0 0 0 0 0 0 0 0 0 0 0 0 0 0 0 0 0 0 0 0 0 0 0 0 0 0 0 0 0 0 0 0 0 0 0 0 0 0 0 0 0 0 0 0 0 0 0 0 0 0 0 0 0 0 0 0 0 0 0 0 0 0 0 0 0 0 0 0 0 0 0 0 0 0 0 0 0 0 0"/></feComponentTransfer><feComposite operator="in" in2="SourceGraphic"/></filter>
<filter id="ob3" x="0" y="0" width="100%" height="100%" color-interpolation-filters="sRGB"><feTurbulence type="fractalNoise" baseFrequency="0.93 0.87" numOctaves="1" seed="78"/><feColorMatrix type="matrix" values="1 0 0 0 0  1 0 0 0 0  1 0 0 0 0  0 1 0 0 0"/><feComponentTransfer><feFuncR type="table" tableValues="0.000 0.000 0.000 0.000 0.000 0.000 0.000 0.000 0.002 0.133 0.259 0.379 0.484 0.589 0.709 0.835 0.966 1.000 1.000 1.000 1.000 1.000 0.913 0.707 0.000 0.000 0.000 0.000 0.000 0.000 0.000 0.000 0.002 0.133 0.259 0.379 0.484 0.589 0.709 0.835 0.966 1.000 1.000 1.000 1.000 1.000 0.913 0.707 0.000 0.000 0.000 0.000 0.000 0.000 0.000 0.000 0.002 0.133 0.259 0.379 0.484 0.589 0.709 0.835 0.966 1.000 1.000 1.000 1.000 1.000 0.913 0.707 0.000 0.000 0.000 0.000 0.000 0.000 0.000 0.000 0.002 0.133 0.259 0.379 0.484 0.589 0.709 0.835 0.966 1.000 1.000 1.000 1.000 1.000 0.913 0.707 0.000 0.000 0.000 0.000 0.000 0.000 0.000 0.000 0.002 0.133 0.259 0.379 0.484 0.589 0.709 0.835 0.966 1.000 1.000 1.000 1.000 1.000 0.913 0.707 0.000 0.000 0.000 0.000 0.000 0.000 0.000 0.000 0.002 0.133 0.259 0.379 0.484 0.589 0.709 0.835 0.966 1.000 1.000 1.000 1.000 1.000 0.913 0.707 0.000"/><feFuncG type="table" tableValues="0.000 0.000 0.000 0.043 0.220 0.395 0.567 0.737 0.903 1.000 1.000 1.000 1.000 1.000 1.000 1.000 0.965 0.812 0.655 0.495 0.333 0.169 0.003 0.000 0.000 0.000 0.000 0.043 0.220 0.395 0.567 0.737 0.903 1.000 1.000 1.000 1.000 1.000 1.000 1.000 0.965 0.812 0.655 0.495 0.333 0.169 0.003 0.000 0.000 0.000 0.000 0.043 0.220 0.395 0.567 0.737 0.903 1.000 1.000 1.000 1.000 1.000 1.000 1.000 0.965 0.812 0.655 0.495 0.333 0.169 0.003 0.000 0.000 0.000 0.000 0.043 0.220 0.395 0.567 0.737 0.903 1.000 1.000 1.000 1.000 1.000 1.000 1.000 0.965 0.812 0.655 0.495 0.333 0.169 0.003 0.000 0.000 0.000 0.000 0.043 0.220 0.395 0.567 0.737 0.903 1.000 1.000 1.000 1.000 1.000 1.000 1.000 0.965 0.812 0.655 0.495 0.333 0.169 0.003 0.000 0.000 0.000 0.000 0.043 0.220 0.395 0.567 0.737 0.903 1.000 1.000 1.000 1.000 1.000 1.000 1.000 0.965 0.812 0.655 0.495 0.333 0.169 0.003 0.000 0.000"/><feFuncB type="table" tableValues="0.500 0.707 0.913 1.000 1.000 1.000 1.000 1.000 0.966 0.835 0.709 0.589 0.484 0.379 0.259 0.133 0.002 0.000 0.000 0.000 0.000 0.000 0.000 0.000 0.500 0.707 0.913 1.000 1.000 1.000 1.000 1.000 0.966 0.835 0.709 0.589 0.484 0.379 0.259 0.133 0.002 0.000 0.000 0.000 0.000 0.000 0.000 0.000 0.500 0.707 0.913 1.000 1.000 1.000 1.000 1.000 0.966 0.835 0.709 0.589 0.484 0.379 0.259 0.133 0.002 0.000 0.000 0.000 0.000 0.000 0.000 0.000 0.500 0.707 0.913 1.000 1.000 1.000 1.000 1.000 0.966 0.835 0.709 0.589 0.484 0.379 0.259 0.133 0.002 0.000 0.000 0.000 0.000 0.000 0.000 0.000 0.500 0.707 0.913 1.000 1.000 1.000 1.000 1.000 0.966 0.835 0.709 0.589 0.484 0.379 0.259 0.133 0.002 0.000 0.000 0.000 0.000 0.000 0.000 0.000 0.500 0.707 0.913 1.000 1.000 1.000 1.000 1.000 0.966 0.835 0.709 0.589 0.484 0.379 0.259 0.133 0.002 0.000 0.000 0.000 0.000 0.000 0.000 0.000 0.500"/><feFuncA type="discrete" tableValues="1 1 1 1 1 1 1 1 1 1 1 1 1 1 1 1 1 1 1 1 1 1 1 1 1 1 1 1 1 1 1 1 1 1 1 1 1 1 1 1 1 1 1 1 1 1 1 1 1 1 1 1 1 1 1 1 1 1 1 1 1 1 1 1 1 1 1 1 1 1 1 1 1 1 1 1 1 0 0 0 0 0 0 0 0 0 0 0 0 0 0 0 0 0 0 0 0 0 0 0 0 0 0 0 0 0 0 0 0 0 0 0 0 0 0 0 0 0 0 0 0 0 0 0 0 0 0 0 0 0 0 0 0 0 0 0 0 0 0 0 0 0 0 0 0 0 0 0 0 0 0 0 0 0 0 0 0 0 0 0 0 0 0 0 0 0 0 0 0 0 0 0 0 0 0 0 0 0 0 0 0 0 0 0 0 0 0 0 0 0 0 0 0 0 0 0 0 0 0 0"/></feComponentTransfer><feComposite operator="in" in2="SourceGraphic"/></filter>
<filter id="oc3" x="0" y="0" width="100%" height="100%" color-interpolation-filters="sRGB"><feTurbulence type="fractalNoise" baseFrequency="0.93 0.87" numOctaves="1" seed="82"/><feColorMatrix type="matrix" values="1 0 0 0 0  1 0 0 0 0  1 0 0 0 0  0 1 0 0 0"/><feComponentTransfer><feFuncR type="table" tableValues="0.000 0.000 0.000 0.000 0.000 0.000 0.000 0.000 0.002 0.133 0.259 0.379 0.484 0.589 0.709 0.835 0.966 1.000 1.000 1.000 1.000 1.000 0.913 0.707 0.000 0.000 0.000 0.000 0.000 0.000 0.000 0.000 0.002 0.133 0.259 0.379 0.484 0.589 0.709 0.835 0.966 1.000 1.000 1.000 1.000 1.000 0.913 0.707 0.000 0.000 0.000 0.000 0.000 0.000 0.000 0.000 0.002 0.133 0.259 0.379 0.484 0.589 0.709 0.835 0.966 1.000 1.000 1.000 1.000 1.000 0.913 0.707 0.000 0.000 0.000 0.000 0.000 0.000 0.000 0.000 0.002 0.133 0.259 0.379 0.484 0.589 0.709 0.835 0.966 1.000 1.000 1.000 1.000 1.000 0.913 0.707 0.000 0.000 0.000 0.000 0.000 0.000 0.000 0.000 0.002 0.133 0.259 0.379 0.484 0.589 0.709 0.835 0.966 1.000 1.000 1.000 1.000 1.000 0.913 0.707 0.000 0.000 0.000 0.000 0.000 0.000 0.000 0.000 0.002 0.133 0.259 0.379 0.484 0.589 0.709 0.835 0.966 1.000 1.000 1.000 1.000 1.000 0.913 0.707 0.000"/><feFuncG type="table" tableValues="0.000 0.000 0.000 0.043 0.220 0.395 0.567 0.737 0.903 1.000 1.000 1.000 1.000 1.000 1.000 1.000 0.965 0.812 0.655 0.495 0.333 0.169 0.003 0.000 0.000 0.000 0.000 0.043 0.220 0.395 0.567 0.737 0.903 1.000 1.000 1.000 1.000 1.000 1.000 1.000 0.965 0.812 0.655 0.495 0.333 0.169 0.003 0.000 0.000 0.000 0.000 0.043 0.220 0.395 0.567 0.737 0.903 1.000 1.000 1.000 1.000 1.000 1.000 1.000 0.965 0.812 0.655 0.495 0.333 0.169 0.003 0.000 0.000 0.000 0.000 0.043 0.220 0.395 0.567 0.737 0.903 1.000 1.000 1.000 1.000 1.000 1.000 1.000 0.965 0.812 0.655 0.495 0.333 0.169 0.003 0.000 0.000 0.000 0.000 0.043 0.220 0.395 0.567 0.737 0.903 1.000 1.000 1.000 1.000 1.000 1.000 1.000 0.965 0.812 0.655 0.495 0.333 0.169 0.003 0.000 0.000 0.000 0.000 0.043 0.220 0.395 0.567 0.737 0.903 1.000 1.000 1.000 1.000 1.000 1.000 1.000 0.965 0.812 0.655 0.495 0.333 0.169 0.003 0.000 0.000"/><feFuncB type="table" tableValues="0.500 0.707 0.913 1.000 1.000 1.000 1.000 1.000 0.966 0.835 0.709 0.589 0.484 0.379 0.259 0.133 0.002 0.000 0.000 0.000 0.000 0.000 0.000 0.000 0.500 0.707 0.913 1.000 1.000 1.000 1.000 1.000 0.966 0.835 0.709 0.589 0.484 0.379 0.259 0.133 0.002 0.000 0.000 0.000 0.000 0.000 0.000 0.000 0.500 0.707 0.913 1.000 1.000 1.000 1.000 1.000 0.966 0.835 0.709 0.589 0.484 0.379 0.259 0.133 0.002 0.000 0.000 0.000 0.000 0.000 0.000 0.000 0.500 0.707 0.913 1.000 1.000 1.000 1.000 1.000 0.966 0.835 0.709 0.589 0.484 0.379 0.259 0.133 0.002 0.000 0.000 0.000 0.000 0.000 0.000 0.000 0.500 0.707 0.913 1.000 1.000 1.000 1.000 1.000 0.966 0.835 0.709 0.589 0.484 0.379 0.259 0.133 0.002 0.000 0.000 0.000 0.000 0.000 0.000 0.000 0.500 0.707 0.913 1.000 1.000 1.000 1.000 1.000 0.966 0.835 0.709 0.589 0.484 0.379 0.259 0.133 0.002 0.000 0.000 0.000 0.000 0.000 0.000 0.000 0.500"/><feFuncA type="discrete" tableValues="1 1 1 1 1 1 1 1 1 1 1 1 1 1 1 1 1 1 1 1 1 1 1 1 1 1 1 1 1 1 1 1 1 1 1 1 1 1 1 1 1 1 1 1 1 1 1 1 1 1 1 1 1 1 1 1 1 1 1 1 1 1 1 1 1 1 1 1 1 1 1 1 1 1 1 1 1 1 1 1 1 1 1 1 1 1 0 0 0 0 0 0 0 0 0 0 0 0 0 0 0 0 0 0 0 0 0 0 0 0 0 0 0 0 0 0 0 0 0 0 0 0 0 0 0 0 0 0 0 0 0 0 0 0 0 0 0 0 0 0 0 0 0 0 0 0 0 0 0 0 0 0 0 0 0 0 0 0 0 0 0 0 0 0 0 0 0 0 0 0 0 0 0 0 0 0 0 0 0 0 0 0 0 0 0 0 0 0 0 0 0 0 0 0 0 0 0 0 0 0"/></feComponentTransfer><feComposite operator="in" in2="SourceGraphic"/></filter>
<filter id="od3" x="0" y="0" width="100%" height="100%" color-interpolation-filters="sRGB"><feTurbulence type="fractalNoise" baseFrequency="0.93 0.87" numOctaves="1" seed="84"/><feColorMatrix type="matrix" values="1 0 0 0 0  1 0 0 0 0  1 0 0 0 0  0 1 0 0 0"/><feComponentTransfer><feFuncR type="table" tableValues="0.000 0.000 0.000 0.000 0.000 0.000 0.000 0.000 0.002 0.133 0.259 0.379 0.484 0.589 0.709 0.835 0.966 1.000 1.000 1.000 1.000 1.000 0.913 0.707 0.000 0.000 0.000 0.000 0.000 0.000 0.000 0.000 0.002 0.133 0.259 0.379 0.484 0.589 0.709 0.835 0.966 1.000 1.000 1.000 1.000 1.000 0.913 0.707 0.000 0.000 0.000 0.000 0.000 0.000 0.000 0.000 0.002 0.133 0.259 0.379 0.484 0.589 0.709 0.835 0.966 1.000 1.000 1.000 1.000 1.000 0.913 0.707 0.000 0.000 0.000 0.000 0.000 0.000 0.000 0.000 0.002 0.133 0.259 0.379 0.484 0.589 0.709 0.835 0.966 1.000 1.000 1.000 1.000 1.000 0.913 0.707 0.000 0.000 0.000 0.000 0.000 0.000 0.000 0.000 0.002 0.133 0.259 0.379 0.484 0.589 0.709 0.835 0.966 1.000 1.000 1.000 1.000 1.000 0.913 0.707 0.000 0.000 0.000 0.000 0.000 0.000 0.000 0.000 0.002 0.133 0.259 0.379 0.484 0.589 0.709 0.835 0.966 1.000 1.000 1.000 1.000 1.000 0.913 0.707 0.000"/><feFuncG type="table" tableValues="0.000 0.000 0.000 0.043 0.220 0.395 0.567 0.737 0.903 1.000 1.000 1.000 1.000 1.000 1.000 1.000 0.965 0.812 0.655 0.495 0.333 0.169 0.003 0.000 0.000 0.000 0.000 0.043 0.220 0.395 0.567 0.737 0.903 1.000 1.000 1.000 1.000 1.000 1.000 1.000 0.965 0.812 0.655 0.495 0.333 0.169 0.003 0.000 0.000 0.000 0.000 0.043 0.220 0.395 0.567 0.737 0.903 1.000 1.000 1.000 1.000 1.000 1.000 1.000 0.965 0.812 0.655 0.495 0.333 0.169 0.003 0.000 0.000 0.000 0.000 0.043 0.220 0.395 0.567 0.737 0.903 1.000 1.000 1.000 1.000 1.000 1.000 1.000 0.965 0.812 0.655 0.495 0.333 0.169 0.003 0.000 0.000 0.000 0.000 0.043 0.220 0.395 0.567 0.737 0.903 1.000 1.000 1.000 1.000 1.000 1.000 1.000 0.965 0.812 0.655 0.495 0.333 0.169 0.003 0.000 0.000 0.000 0.000 0.043 0.220 0.395 0.567 0.737 0.903 1.000 1.000 1.000 1.000 1.000 1.000 1.000 0.965 0.812 0.655 0.495 0.333 0.169 0.003 0.000 0.000"/><feFuncB type="table" tableValues="0.500 0.707 0.913 1.000 1.000 1.000 1.000 1.000 0.966 0.835 0.709 0.589 0.484 0.379 0.259 0.133 0.002 0.000 0.000 0.000 0.000 0.000 0.000 0.000 0.500 0.707 0.913 1.000 1.000 1.000 1.000 1.000 0.966 0.835 0.709 0.589 0.484 0.379 0.259 0.133 0.002 0.000 0.000 0.000 0.000 0.000 0.000 0.000 0.500 0.707 0.913 1.000 1.000 1.000 1.000 1.000 0.966 0.835 0.709 0.589 0.484 0.379 0.259 0.133 0.002 0.000 0.000 0.000 0.000 0.000 0.000 0.000 0.500 0.707 0.913 1.000 1.000 1.000 1.000 1.000 0.966 0.835 0.709 0.589 0.484 0.379 0.259 0.133 0.002 0.000 0.000 0.000 0.000 0.000 0.000 0.000 0.500 0.707 0.913 1.000 1.000 1.000 1.000 1.000 0.966 0.835 0.709 0.589 0.484 0.379 0.259 0.133 0.002 0.000 0.000 0.000 0.000 0.000 0.000 0.000 0.500 0.707 0.913 1.000 1.000 1.000 1.000 1.000 0.966 0.835 0.709 0.589 0.484 0.379 0.259 0.133 0.002 0.000 0.000 0.000 0.000 0.000 0.000 0.000 0.500"/><feFuncA type="discrete" tableValues="1 1 1 1 1 1 1 1 1 1 1 1 1 1 1 1 1 1 1 1 1 1 1 1 1 1 1 1 1 1 1 1 1 1 1 1 1 1 1 1 1 1 1 1 1 1 1 1 1 1 1 1 1 1 1 1 1 1 1 1 1 1 1 1 1 1 1 1 1 1 1 1 1 1 1 1 1 1 1 1 1 1 1 1 1 1 1 1 1 1 1 1 1 1 0 0 0 0 0 0 0 0 0 0 0 0 0 0 0 0 0 0 0 0 0 0 0 0 0 0 0 0 0 0 0 0 0 0 0 0 0 0 0 0 0 0 0 0 0 0 0 0 0 0 0 0 0 0 0 0 0 0 0 0 0 0 0 0 0 0 0 0 0 0 0 0 0 0 0 0 0 0 0 0 0 0 0 0 0 0 0 0 0 0 0 0 0 0 0 0 0 0 0 0 0 0 0 0 0 0"/></feComponentTransfer><feComposite operator="in" in2="SourceGraphic"/></filter>
<linearGradient id="g0_0" gradientUnits="userSpaceOnUse" x1="1" y1="0" x2="111" y2="0"><stop offset="0.0000" stop-color="#535353"/><stop offset="0.0545" stop-color="#606060"/><stop offset="0.1182" stop-color="#6e6e6e"/><stop offset="0.2000" stop-color="#868686"/><stop offset="0.2455" stop-color="#939393"/><stop offset="0.2818" stop-color="#9f9f9f"/><stop offset="0.3364" stop-color="#b0b0b0"/><stop offset="0.4182" stop-color="#bfbfbf"/><stop offset="0.4182" stop-color="#404040"/><stop offset="0.4727" stop-color="#505050"/><stop offset="0.5545" stop-color="#696969"/><stop offset="0.6364" stop-color="#797979"/><stop offset="0.7000" stop-color="#8f8f8f"/><stop offset="0.7636" stop-color="#a1a1a1"/><stop offset="0.8364" stop-color="#b2b2b2"/><stop offset="0.9045" stop-color="#bfbfbf"/><stop offset="0.9045" stop-color="#404040"/><stop offset="1.0000" stop-color="#555555"/></linearGradient>
<linearGradient id="g0_1" gradientUnits="userSpaceOnUse" x1="-0.5" y1="0" x2="109.5" y2="0"><stop offset="0.0000" stop-color="#535353"/><stop offset="0.0545" stop-color="#606060"/><stop offset="0.1182" stop-color="#6e6e6e"/><stop offset="0.2000" stop-color="#868686"/><stop offset="0.2455" stop-color="#939393"/><stop offset="0.2818" stop-color="#9f9f9f"/><stop offset="0.3364" stop-color="#b0b0b0"/><stop offset="0.4182" stop-color="#bfbfbf"/><stop offset="0.4182" stop-color="#404040"/><stop offset="0.4727" stop-color="#505050"/><stop offset="0.5545" stop-color="#696969"/><stop offset="0.6364" stop-color="#797979"/><stop offset="0.7000" stop-color="#8f8f8f"/><stop offset="0.7636" stop-color="#a1a1a1"/><stop offset="0.8364" stop-color="#b2b2b2"/><stop offset="0.9045" stop-color="#bfbfbf"/><stop offset="0.9045" stop-color="#404040"/><stop offset="1.0000" stop-color="#555555"/></linearGradient>
<linearGradient id="g0_2" gradientUnits="userSpaceOnUse" x1="1" y1="0" x2="92" y2="0"><stop offset="0.0000" stop-color="#535353"/><stop offset="0.0769" stop-color="#606060"/><stop offset="0.1538" stop-color="#6e6e6e"/><stop offset="0.2418" stop-color="#808080"/><stop offset="0.2857" stop-color="#909090"/><stop offset="0.3407" stop-color="#9f9f9f"/><stop offset="0.4286" stop-color="#b2b2b2"/><stop offset="0.4912" stop-color="#bfbfbf"/><stop offset="0.4912" stop-color="#404040"/><stop offset="0.5604" stop-color="#505050"/><stop offset="0.6923" stop-color="#6c6c6c"/><stop offset="0.7912" stop-color="#828282"/><stop offset="0.8352" stop-color="#909090"/><stop offset="0.9121" stop-color="#a2a2a2"/><stop offset="1.0000" stop-color="#b5b5b5"/></linearGradient>
<linearGradient id="g0_3" gradientUnits="userSpaceOnUse" spreadMethod="repeat" x1="1.54" y1="218.07" x2="2.40" y2="211.17"><stop offset="0" stop-color="#404040"/><stop offset="1" stop-color="#bfbfbf"/></linearGradient>
<linearGradient id="g0_4" gradientUnits="userSpaceOnUse" spreadMethod="repeat" x1="1.54" y1="229.37" x2="2.40" y2="222.47"><stop offset="0" stop-color="#404040"/><stop offset="1" stop-color="#bfbfbf"/></linearGradient>
<linearGradient id="g0_5" gradientUnits="userSpaceOnUse" spreadMethod="repeat" x1="37.7" y1="0" x2="88.7" y2="0"><stop offset="0" stop-color="#404040"/><stop offset="1" stop-color="#bfbfbf"/></linearGradient>
<linearGradient id="g0_6" gradientUnits="userSpaceOnUse" spreadMethod="repeat" x1="20.5" y1="0" x2="68.5" y2="0"><stop offset="0" stop-color="#404040"/><stop offset="1" stop-color="#bfbfbf"/></linearGradient>
<linearGradient id="g0_7" gradientUnits="userSpaceOnUse" spreadMethod="repeat" x1="8" y1="0" x2="58" y2="0"><stop offset="0" stop-color="#404040"/><stop offset="1" stop-color="#bfbfbf"/></linearGradient>
<linearGradient id="g0_8" gradientUnits="userSpaceOnUse" spreadMethod="repeat" x1="59.4" y1="0" x2="115.4" y2="0"><stop offset="0" stop-color="#404040"/><stop offset="1" stop-color="#bfbfbf"/></linearGradient>
<linearGradient id="g0_9" gradientUnits="userSpaceOnUse" spreadMethod="repeat" x1="32.6" y1="0" x2="91.4" y2="0"><stop offset="0" stop-color="#404040"/><stop offset="1" stop-color="#bfbfbf"/></linearGradient>
<linearGradient id="g0_10" gradientUnits="userSpaceOnUse" spreadMethod="repeat" x1="45.7" y1="0" x2="96.7" y2="0"><stop offset="0" stop-color="#404040"/><stop offset="1" stop-color="#bfbfbf"/></linearGradient>
<linearGradient id="g0_11" gradientUnits="userSpaceOnUse" spreadMethod="repeat" x1="43.9" y1="0" x2="100.4" y2="0"><stop offset="0" stop-color="#404040"/><stop offset="1" stop-color="#bfbfbf"/></linearGradient>
<linearGradient id="g0_12" gradientUnits="userSpaceOnUse" spreadMethod="repeat" x1="1.05" y1="277.73" x2="1.68" y2="282.24"><stop offset="0" stop-color="#404040"/><stop offset="1" stop-color="#bfbfbf"/></linearGradient>
<linearGradient id="g0_13" gradientUnits="userSpaceOnUse" spreadMethod="repeat" x1="24.72" y1="294.87" x2="25.72" y2="300.70"><stop offset="0" stop-color="#404040"/><stop offset="1" stop-color="#bfbfbf"/></linearGradient>
<linearGradient id="g0_14" gradientUnits="userSpaceOnUse" spreadMethod="repeat" x1="47.9" y1="0" x2="100.4" y2="0"><stop offset="0" stop-color="#404040"/><stop offset="1" stop-color="#bfbfbf"/></linearGradient>
<linearGradient id="g0_15" gradientUnits="userSpaceOnUse" x1="1" y1="0" x2="114" y2="0"><stop offset="0.0000" stop-color="#575757"/><stop offset="0.0442" stop-color="#626262"/><stop offset="0.0973" stop-color="#6e6e6e"/><stop offset="0.1681" stop-color="#7d7d7d"/><stop offset="0.2035" stop-color="#8f8f8f"/><stop offset="0.2478" stop-color="#9f9f9f"/><stop offset="0.3274" stop-color="#b2b2b2"/><stop offset="0.4009" stop-color="#bfbfbf"/><stop offset="0.4009" stop-color="#404040"/><stop offset="0.4513" stop-color="#505050"/><stop offset="0.5575" stop-color="#6c6c6c"/><stop offset="0.6372" stop-color="#828282"/><stop offset="0.6726" stop-color="#909090"/><stop offset="0.7434" stop-color="#a1a1a1"/><stop offset="0.8230" stop-color="#b2b2b2"/><stop offset="0.8708" stop-color="#bfbfbf"/><stop offset="0.8708" stop-color="#404040"/><stop offset="1.0000" stop-color="#595959"/></linearGradient>
<linearGradient id="g0_16" gradientUnits="userSpaceOnUse" spreadMethod="repeat" x1="120.7" y1="0" x2="131.4" y2="0"><stop offset="0" stop-color="#404040"/><stop offset="1" stop-color="#bfbfbf"/></linearGradient>
<linearGradient id="g0_17" gradientUnits="userSpaceOnUse" spreadMethod="repeat" x1="46" y1="0" x2="98" y2="0"><stop offset="0" stop-color="#404040"/><stop offset="1" stop-color="#bfbfbf"/></linearGradient>
<linearGradient id="g0_18" gradientUnits="userSpaceOnUse" spreadMethod="repeat" x1="46" y1="0" x2="98" y2="0"><stop offset="0" stop-color="#404040"/><stop offset="1" stop-color="#bfbfbf"/></linearGradient>
<linearGradient id="g0_19" gradientUnits="userSpaceOnUse" x1="1" y1="0" x2="128" y2="0"><stop offset="0.0000" stop-color="#505050"/><stop offset="0.3606" stop-color="#bfbfbf"/><stop offset="0.3606" stop-color="#404040"/><stop offset="0.7748" stop-color="#bfbfbf"/><stop offset="0.7748" stop-color="#404040"/><stop offset="1.0000" stop-color="#5c5c5c"/></linearGradient>
<linearGradient id="g0_21" gradientUnits="userSpaceOnUse" spreadMethod="repeat" x1="129" y1="0" x2="150" y2="0"><stop offset="0" stop-color="#bfbfbf"/><stop offset="1" stop-color="#404040"/></linearGradient>
<linearGradient id="g0_22" gradientUnits="userSpaceOnUse" spreadMethod="repeat" x1="112" y1="0" x2="116.2" y2="0"><stop offset="0" stop-color="#404040"/><stop offset="1" stop-color="#bfbfbf"/></linearGradient>
<linearGradient id="g0_23" gradientUnits="userSpaceOnUse" spreadMethod="repeat" x1="112" y1="0" x2="115.7" y2="0"><stop offset="0" stop-color="#404040"/><stop offset="1" stop-color="#bfbfbf"/></linearGradient>
<linearGradient id="g0_24" gradientUnits="userSpaceOnUse" spreadMethod="repeat" x1="112" y1="0" x2="115.6" y2="0"><stop offset="0" stop-color="#404040"/><stop offset="1" stop-color="#bfbfbf"/></linearGradient>
<linearGradient id="g0_25" gradientUnits="userSpaceOnUse" spreadMethod="repeat" x1="112" y1="0" x2="116.4" y2="0"><stop offset="0" stop-color="#404040"/><stop offset="1" stop-color="#bfbfbf"/></linearGradient>
<linearGradient id="g0_26" gradientUnits="userSpaceOnUse" spreadMethod="repeat" x1="103" y1="0" x2="107.6" y2="0"><stop offset="0" stop-color="#404040"/><stop offset="1" stop-color="#bfbfbf"/></linearGradient>
<filter id="phA0" x="0" y="0" width="100%" height="100%" color-interpolation-filters="sRGB"><feTurbulence type="fractalNoise" baseFrequency="0.93 0.87" numOctaves="1" seed="76"/><feColorMatrix type="matrix" values="1 0 0 0 0  1 0 0 0 0  1 0 0 0 0  0 0 0 0 1" result="n"/><feComposite in="SourceGraphic" in2="n" operator="arithmetic" k1="0" k2="1" k3="0.45" k4="-0.225"/><feComponentTransfer><feFuncR type="table" tableValues="0.484 0.551 0.618 0.685 0.753 0.820 0.887 0.954 1.000 1.000 1.000 1.000 1.000 1.000 1.000 1.000 1.000 1.000 1.000 0.973 0.879 0.784 0.689 0.595 0.000 0.000 0.000 0.000 0.000 0.000 0.000 0.000 0.000 0.000 0.000 0.000 0.000 0.000 0.000 0.000 0.000 0.013 0.081 0.148 0.215 0.282 0.349 0.417 0.484 0.551 0.618 0.685 0.753 0.820 0.887 0.954 1.000 1.000 1.000 1.000 1.000 1.000 1.000 1.000 1.000 1.000 1.000 0.973 0.879 0.784 0.689 0.595 0.000 0.000 0.000 0.000 0.000 0.000 0.000 0.000 0.000 0.000 0.000 0.000 0.000 0.000 0.000 0.000 0.000 0.013 0.081 0.148 0.215 0.282 0.349 0.417 0.484"/><feFuncG type="table" tableValues="1.000 1.000 1.000 1.000 1.000 1.000 1.000 0.978 0.901 0.824 0.747 0.670 0.593 0.515 0.438 0.361 0.284 0.207 0.130 0.052 0.000 0.000 0.000 0.000 0.000 0.000 0.000 0.000 0.000 0.000 0.000 0.083 0.167 0.250 0.333 0.417 0.500 0.583 0.667 0.750 0.833 0.917 1.000 1.000 1.000 1.000 1.000 1.000 1.000 1.000 1.000 1.000 1.000 1.000 1.000 0.978 0.901 0.824 0.747 0.670 0.593 0.515 0.438 0.361 0.284 0.207 0.130 0.052 0.000 0.000 0.000 0.000 0.000 0.000 0.000 0.000 0.000 0.000 0.000 0.083 0.167 0.250 0.333 0.417 0.500 0.583 0.667 0.750 0.833 0.917 1.000 1.000 1.000 1.000 1.000 1.000 1.000"/><feFuncB type="table" tableValues="0.484 0.417 0.349 0.282 0.215 0.148 0.081 0.013 0.000 0.000 0.000 0.000 0.000 0.000 0.000 0.000 0.000 0.000 0.000 0.000 0.000 0.000 0.000 0.000 0.500 0.595 0.689 0.784 0.879 0.973 1.000 1.000 1.000 1.000 1.000 1.000 1.000 1.000 1.000 1.000 1.000 0.954 0.887 0.820 0.753 0.685 0.618 0.551 0.484 0.417 0.349 0.282 0.215 0.148 0.081 0.013 0.000 0.000 0.000 0.000 0.000 0.000 0.000 0.000 0.000 0.000 0.000 0.000 0.000 0.000 0.000 0.000 0.500 0.595 0.689 0.784 0.879 0.973 1.000 1.000 1.000 1.000 1.000 1.000 1.000 1.000 1.000 1.000 1.000 0.954 0.887 0.820 0.753 0.685 0.618 0.551 0.484"/></feComponentTransfer><feComposite operator="in" in2="SourceGraphic"/></filter>
<filter id="phC0" x="0" y="0" width="100%" height="100%" color-interpolation-filters="sRGB"><feTurbulence type="fractalNoise" baseFrequency="0.93 0.87" numOctaves="1" seed="78"/><feColorMatrix type="matrix" values="1 0 0 0 0  1 0 0 0 0  1 0 0 0 0  0 0 0 0 1" result="n"/><feComposite in="SourceGraphic" in2="n" operator="arithmetic" k1="0" k2="1" k3="0.9" k4="-0.450"/><feComponentTransfer><feFuncR type="table" tableValues="0.484 0.551 0.618 0.685 0.753 0.820 0.887 0.954 1.000 1.000 1.000 1.000 1.000 1.000 1.000 1.000 1.000 1.000 1.000 0.973 0.879 0.784 0.689 0.595 0.000 0.000 0.000 0.000 0.000 0.000 0.000 0.000 0.000 0.000 0.000 0.000 0.000 0.000 0.000 0.000 0.000 0.013 0.081 0.148 0.215 0.282 0.349 0.417 0.484 0.551 0.618 0.685 0.753 0.820 0.887 0.954 1.000 1.000 1.000 1.000 1.000 1.000 1.000 1.000 1.000 1.000 1.000 0.973 0.879 0.784 0.689 0.595 0.000 0.000 0.000 0.000 0.000 0.000 0.000 0.000 0.000 0.000 0.000 0.000 0.000 0.000 0.000 0.000 0.000 0.013 0.081 0.148 0.215 0.282 0.349 0.417 0.484"/><feFuncG type="table" tableValues="1.000 1.000 1.000 1.000 1.000 1.000 1.000 0.978 0.901 0.824 0.747 0.670 0.593 0.515 0.438 0.361 0.284 0.207 0.130 0.052 0.000 0.000 0.000 0.000 0.000 0.000 0.000 0.000 0.000 0.000 0.000 0.083 0.167 0.250 0.333 0.417 0.500 0.583 0.667 0.750 0.833 0.917 1.000 1.000 1.000 1.000 1.000 1.000 1.000 1.000 1.000 1.000 1.000 1.000 1.000 0.978 0.901 0.824 0.747 0.670 0.593 0.515 0.438 0.361 0.284 0.207 0.130 0.052 0.000 0.000 0.000 0.000 0.000 0.000 0.000 0.000 0.000 0.000 0.000 0.083 0.167 0.250 0.333 0.417 0.500 0.583 0.667 0.750 0.833 0.917 1.000 1.000 1.000 1.000 1.000 1.000 1.000"/><feFuncB type="table" tableValues="0.484 0.417 0.349 0.282 0.215 0.148 0.081 0.013 0.000 0.000 0.000 0.000 0.000 0.000 0.000 0.000 0.000 0.000 0.000 0.000 0.000 0.000 0.000 0.000 0.500 0.595 0.689 0.784 0.879 0.973 1.000 1.000 1.000 1.000 1.000 1.000 1.000 1.000 1.000 1.000 1.000 0.954 0.887 0.820 0.753 0.685 0.618 0.551 0.484 0.417 0.349 0.282 0.215 0.148 0.081 0.013 0.000 0.000 0.000 0.000 0.000 0.000 0.000 0.000 0.000 0.000 0.000 0.000 0.000 0.000 0.000 0.000 0.500 0.595 0.689 0.784 0.879 0.973 1.000 1.000 1.000 1.000 1.000 1.000 1.000 1.000 1.000 1.000 1.000 0.954 0.887 0.820 0.753 0.685 0.618 0.551 0.484"/></feComponentTransfer><feComposite operator="in" in2="SourceGraphic"/></filter>
<filter id="phD0" x="0" y="0" width="100%" height="100%" color-interpolation-filters="sRGB"><feTurbulence type="fractalNoise" baseFrequency="0.93 0.87" numOctaves="1" seed="79"/><feColorMatrix type="matrix" values="1 0 0 0 0  1 0 0 0 0  1 0 0 0 0  0 0 0 0 1" result="n"/><feComposite in="SourceGraphic" in2="n" operator="arithmetic" k1="0" k2="1" k3="1.2" k4="-0.600"/><feComponentTransfer><feFuncR type="table" tableValues="0.484 0.551 0.618 0.685 0.753 0.820 0.887 0.954 1.000 1.000 1.000 1.000 1.000 1.000 1.000 1.000 1.000 1.000 1.000 0.973 0.879 0.784 0.689 0.595 0.000 0.000 0.000 0.000 0.000 0.000 0.000 0.000 0.000 0.000 0.000 0.000 0.000 0.000 0.000 0.000 0.000 0.013 0.081 0.148 0.215 0.282 0.349 0.417 0.484 0.551 0.618 0.685 0.753 0.820 0.887 0.954 1.000 1.000 1.000 1.000 1.000 1.000 1.000 1.000 1.000 1.000 1.000 0.973 0.879 0.784 0.689 0.595 0.000 0.000 0.000 0.000 0.000 0.000 0.000 0.000 0.000 0.000 0.000 0.000 0.000 0.000 0.000 0.000 0.000 0.013 0.081 0.148 0.215 0.282 0.349 0.417 0.484"/><feFuncG type="table" tableValues="1.000 1.000 1.000 1.000 1.000 1.000 1.000 0.978 0.901 0.824 0.747 0.670 0.593 0.515 0.438 0.361 0.284 0.207 0.130 0.052 0.000 0.000 0.000 0.000 0.000 0.000 0.000 0.000 0.000 0.000 0.000 0.083 0.167 0.250 0.333 0.417 0.500 0.583 0.667 0.750 0.833 0.917 1.000 1.000 1.000 1.000 1.000 1.000 1.000 1.000 1.000 1.000 1.000 1.000 1.000 0.978 0.901 0.824 0.747 0.670 0.593 0.515 0.438 0.361 0.284 0.207 0.130 0.052 0.000 0.000 0.000 0.000 0.000 0.000 0.000 0.000 0.000 0.000 0.000 0.083 0.167 0.250 0.333 0.417 0.500 0.583 0.667 0.750 0.833 0.917 1.000 1.000 1.000 1.000 1.000 1.000 1.000"/><feFuncB type="table" tableValues="0.484 0.417 0.349 0.282 0.215 0.148 0.081 0.013 0.000 0.000 0.000 0.000 0.000 0.000 0.000 0.000 0.000 0.000 0.000 0.000 0.000 0.000 0.000 0.000 0.500 0.595 0.689 0.784 0.879 0.973 1.000 1.000 1.000 1.000 1.000 1.000 1.000 1.000 1.000 1.000 1.000 0.954 0.887 0.820 0.753 0.685 0.618 0.551 0.484 0.417 0.349 0.282 0.215 0.148 0.081 0.013 0.000 0.000 0.000 0.000 0.000 0.000 0.000 0.000 0.000 0.000 0.000 0.000 0.000 0.000 0.000 0.000 0.500 0.595 0.689 0.784 0.879 0.973 1.000 1.000 1.000 1.000 1.000 1.000 1.000 1.000 1.000 1.000 1.000 0.954 0.887 0.820 0.753 0.685 0.618 0.551 0.484"/></feComponentTransfer><feComposite operator="in" in2="SourceGraphic"/></filter>
<filter id="ph00" x="0" y="0" width="100%" height="100%" color-interpolation-filters="sRGB"><feTurbulence type="fractalNoise" baseFrequency="0.93 0.87" numOctaves="1" seed="59"/><feColorMatrix type="matrix" values="1 0 0 0 0  1 0 0 0 0  1 0 0 0 0  0 0 0 0 1" result="n"/><feComposite in="SourceGraphic" in2="n" operator="arithmetic" k1="0" k2="1" k3="0.25" k4="-0.125"/><feComponentTransfer><feFuncR type="table" tableValues="0.484 0.551 0.618 0.685 0.753 0.820 0.887 0.954 1.000 1.000 1.000 1.000 1.000 1.000 1.000 1.000 1.000 1.000 1.000 0.973 0.879 0.784 0.689 0.595 0.000 0.000 0.000 0.000 0.000 0.000 0.000 0.000 0.000 0.000 0.000 0.000 0.000 0.000 0.000 0.000 0.000 0.013 0.081 0.148 0.215 0.282 0.349 0.417 0.484 0.551 0.618 0.685 0.753 0.820 0.887 0.954 1.000 1.000 1.000 1.000 1.000 1.000 1.000 1.000 1.000 1.000 1.000 0.973 0.879 0.784 0.689 0.595 0.000 0.000 0.000 0.000 0.000 0.000 0.000 0.000 0.000 0.000 0.000 0.000 0.000 0.000 0.000 0.000 0.000 0.013 0.081 0.148 0.215 0.282 0.349 0.417 0.484"/><feFuncG type="table" tableValues="1.000 1.000 1.000 1.000 1.000 1.000 1.000 0.978 0.901 0.824 0.747 0.670 0.593 0.515 0.438 0.361 0.284 0.207 0.130 0.052 0.000 0.000 0.000 0.000 0.000 0.000 0.000 0.000 0.000 0.000 0.000 0.083 0.167 0.250 0.333 0.417 0.500 0.583 0.667 0.750 0.833 0.917 1.000 1.000 1.000 1.000 1.000 1.000 1.000 1.000 1.000 1.000 1.000 1.000 1.000 0.978 0.901 0.824 0.747 0.670 0.593 0.515 0.438 0.361 0.284 0.207 0.130 0.052 0.000 0.000 0.000 0.000 0.000 0.000 0.000 0.000 0.000 0.000 0.000 0.083 0.167 0.250 0.333 0.417 0.500 0.583 0.667 0.750 0.833 0.917 1.000 1.000 1.000 1.000 1.000 1.000 1.000"/><feFuncB type="table" tableValues="0.484 0.417 0.349 0.282 0.215 0.148 0.081 0.013 0.000 0.000 0.000 0.000 0.000 0.000 0.000 0.000 0.000 0.000 0.000 0.000 0.000 0.000 0.000 0.000 0.500 0.595 0.689 0.784 0.879 0.973 1.000 1.000 1.000 1.000 1.000 1.000 1.000 1.000 1.000 1.000 1.000 0.954 0.887 0.820 0.753 0.685 0.618 0.551 0.484 0.417 0.349 0.282 0.215 0.148 0.081 0.013 0.000 0.000 0.000 0.000 0.000 0.000 0.000 0.000 0.000 0.000 0.000 0.000 0.000 0.000 0.000 0.000 0.500 0.595 0.689 0.784 0.879 0.973 1.000 1.000 1.000 1.000 1.000 1.000 1.000 1.000 1.000 1.000 1.000 0.954 0.887 0.820 0.753 0.685 0.618 0.551 0.484"/></feComponentTransfer><feComposite operator="in" in2="SourceGraphic"/></filter>
<filter id="phB0" x="0" y="0" width="100%" height="100%" color-interpolation-filters="sRGB"><feTurbulence type="fractalNoise" baseFrequency="0.93 0.87" numOctaves="1" seed="77"/><feColorMatrix type="matrix" values="1 0 0 0 0  1 0 0 0 0  1 0 0 0 0  0 0 0 0 1" result="n"/><feComposite in="SourceGraphic" in2="n" operator="arithmetic" k1="0" k2="1" k3="0.7" k4="-0.350"/><feComponentTransfer><feFuncR type="table" tableValues="0.484 0.551 0.618 0.685 0.753 0.820 0.887 0.954 1.000 1.000 1.000 1.000 1.000 1.000 1.000 1.000 1.000 1.000 1.000 0.973 0.879 0.784 0.689 0.595 0.000 0.000 0.000 0.000 0.000 0.000 0.000 0.000 0.000 0.000 0.000 0.000 0.000 0.000 0.000 0.000 0.000 0.013 0.081 0.148 0.215 0.282 0.349 0.417 0.484 0.551 0.618 0.685 0.753 0.820 0.887 0.954 1.000 1.000 1.000 1.000 1.000 1.000 1.000 1.000 1.000 1.000 1.000 0.973 0.879 0.784 0.689 0.595 0.000 0.000 0.000 0.000 0.000 0.000 0.000 0.000 0.000 0.000 0.000 0.000 0.000 0.000 0.000 0.000 0.000 0.013 0.081 0.148 0.215 0.282 0.349 0.417 0.484"/><feFuncG type="table" tableValues="1.000 1.000 1.000 1.000 1.000 1.000 1.000 0.978 0.901 0.824 0.747 0.670 0.593 0.515 0.438 0.361 0.284 0.207 0.130 0.052 0.000 0.000 0.000 0.000 0.000 0.000 0.000 0.000 0.000 0.000 0.000 0.083 0.167 0.250 0.333 0.417 0.500 0.583 0.667 0.750 0.833 0.917 1.000 1.000 1.000 1.000 1.000 1.000 1.000 1.000 1.000 1.000 1.000 1.000 1.000 0.978 0.901 0.824 0.747 0.670 0.593 0.515 0.438 0.361 0.284 0.207 0.130 0.052 0.000 0.000 0.000 0.000 0.000 0.000 0.000 0.000 0.000 0.000 0.000 0.083 0.167 0.250 0.333 0.417 0.500 0.583 0.667 0.750 0.833 0.917 1.000 1.000 1.000 1.000 1.000 1.000 1.000"/><feFuncB type="table" tableValues="0.484 0.417 0.349 0.282 0.215 0.148 0.081 0.013 0.000 0.000 0.000 0.000 0.000 0.000 0.000 0.000 0.000 0.000 0.000 0.000 0.000 0.000 0.000 0.000 0.500 0.595 0.689 0.784 0.879 0.973 1.000 1.000 1.000 1.000 1.000 1.000 1.000 1.000 1.000 1.000 1.000 0.954 0.887 0.820 0.753 0.685 0.618 0.551 0.484 0.417 0.349 0.282 0.215 0.148 0.081 0.013 0.000 0.000 0.000 0.000 0.000 0.000 0.000 0.000 0.000 0.000 0.000 0.000 0.000 0.000 0.000 0.000 0.500 0.595 0.689 0.784 0.879 0.973 1.000 1.000 1.000 1.000 1.000 1.000 1.000 1.000 1.000 1.000 1.000 0.954 0.887 0.820 0.753 0.685 0.618 0.551 0.484"/></feComponentTransfer><feComposite operator="in" in2="SourceGraphic"/></filter>
<linearGradient id="g1_0" gradientUnits="userSpaceOnUse" x1="1" y1="0" x2="99.5" y2="0"><stop offset="0.0000" stop-color="#757575"/><stop offset="0.0609" stop-color="#868686"/><stop offset="0.1117" stop-color="#969696"/><stop offset="0.1929" stop-color="#a6a6a6"/><stop offset="0.2741" stop-color="#b5b5b5"/><stop offset="0.3249" stop-color="#bfbfbf"/><stop offset="0.3249" stop-color="#404040"/><stop offset="0.3959" stop-color="#505050"/><stop offset="0.5076" stop-color="#6c6c6c"/><stop offset="0.5990" stop-color="#808080"/><stop offset="0.6599" stop-color="#909090"/><stop offset="0.7411" stop-color="#a1a1a1"/><stop offset="0.8528" stop-color="#b2b2b2"/><stop offset="0.9178" stop-color="#bfbfbf"/><stop offset="0.9178" stop-color="#404040"/><stop offset="1.0000" stop-color="#535353"/></linearGradient>
<linearGradient id="g1_1" gradientUnits="userSpaceOnUse" x1="2" y1="0" x2="100.5" y2="0"><stop offset="0.0000" stop-color="#757575"/><stop offset="0.0609" stop-color="#868686"/><stop offset="0.1117" stop-color="#969696"/><stop offset="0.1929" stop-color="#a6a6a6"/><stop offset="0.2741" stop-color="#b5b5b5"/><stop offset="0.3249" stop-color="#bfbfbf"/><stop offset="0.3249" stop-color="#404040"/><stop offset="0.3959" stop-color="#505050"/><stop offset="0.5076" stop-color="#6c6c6c"/><stop offset="0.5990" stop-color="#808080"/><stop offset="0.6599" stop-color="#909090"/><stop offset="0.7411" stop-color="#a1a1a1"/><stop offset="0.8528" stop-color="#b2b2b2"/><stop offset="0.9178" stop-color="#bfbfbf"/><stop offset="0.9178" stop-color="#404040"/><stop offset="1.0000" stop-color="#535353"/></linearGradient>
<linearGradient id="g1_2" gradientUnits="userSpaceOnUse" x1="1" y1="0" x2="105" y2="0"><stop offset="0.0000" stop-color="#737373"/><stop offset="0.0577" stop-color="#808080"/><stop offset="0.1154" stop-color="#8f8f8f"/><stop offset="0.1731" stop-color="#9f9f9f"/><stop offset="0.2500" stop-color="#b2b2b2"/><stop offset="0.3173" stop-color="#bfbfbf"/><stop offset="0.3173" stop-color="#404040"/><stop offset="0.3750" stop-color="#4f4f4f"/><stop offset="0.4712" stop-color="#6a6a6a"/><stop offset="0.5673" stop-color="#7c7c7c"/><stop offset="0.6346" stop-color="#8c8c8c"/><stop offset="0.6731" stop-color="#9c9c9c"/><stop offset="0.7596" stop-color="#b0b0b0"/><stop offset="0.8587" stop-color="#bfbfbf"/><stop offset="0.8587" stop-color="#404040"/><stop offset="1.0000" stop-color="#595959"/></linearGradient>
<linearGradient id="g1_3" gradientUnits="userSpaceOnUse" spreadMethod="repeat" x1="30.45" y1="225.00" x2="31.42" y2="217.73"><stop offset="0" stop-color="#404040"/><stop offset="1" stop-color="#bfbfbf"/></linearGradient>
<linearGradient id="g1_4" gradientUnits="userSpaceOnUse" spreadMethod="repeat" x1="30.45" y1="231.30" x2="31.42" y2="224.03"><stop offset="0" stop-color="#404040"/><stop offset="1" stop-color="#bfbfbf"/></linearGradient>
<linearGradient id="g1_5" gradientUnits="userSpaceOnUse" spreadMethod="repeat" x1="11.9" y1="0" x2="70.9" y2="0"><stop offset="0" stop-color="#404040"/><stop offset="1" stop-color="#bfbfbf"/></linearGradient>
<linearGradient id="g1_6" gradientUnits="userSpaceOnUse" spreadMethod="repeat" x1="54.1" y1="0" x2="111.1" y2="0"><stop offset="0" stop-color="#404040"/><stop offset="1" stop-color="#bfbfbf"/></linearGradient>
<linearGradient id="g1_7" gradientUnits="userSpaceOnUse" spreadMethod="repeat" x1="35" y1="0" x2="92" y2="0"><stop offset="0" stop-color="#404040"/><stop offset="1" stop-color="#bfbfbf"/></linearGradient>
<linearGradient id="g1_8" gradientUnits="userSpaceOnUse" spreadMethod="repeat" x1="25.6" y1="0" x2="88.6" y2="0"><stop offset="0" stop-color="#404040"/><stop offset="1" stop-color="#bfbfbf"/></linearGradient>
<linearGradient id="g1_9" gradientUnits="userSpaceOnUse" spreadMethod="repeat" x1="23.3" y1="0" x2="86.1" y2="0"><stop offset="0" stop-color="#404040"/><stop offset="1" stop-color="#bfbfbf"/></linearGradient>
<linearGradient id="g1_10" gradientUnits="userSpaceOnUse" spreadMethod="repeat" x1="34.7" y1="0" x2="89.7" y2="0"><stop offset="0" stop-color="#404040"/><stop offset="1" stop-color="#bfbfbf"/></linearGradient>
<linearGradient id="g1_11" gradientUnits="userSpaceOnUse" spreadMethod="repeat" x1="24.87" y1="272.55" x2="25.70" y2="277.72"><stop offset="0" stop-color="#404040"/><stop offset="1" stop-color="#bfbfbf"/></linearGradient>
<linearGradient id="g1_12" gradientUnits="userSpaceOnUse" spreadMethod="repeat" x1="57.78" y1="293.51" x2="58.83" y2="299.63"><stop offset="0" stop-color="#404040"/><stop offset="1" stop-color="#bfbfbf"/></linearGradient>
<linearGradient id="g1_13" gradientUnits="userSpaceOnUse" spreadMethod="repeat" x1="34.7" y1="0" x2="91.30000000000001" y2="0"><stop offset="0" stop-color="#404040"/><stop offset="1" stop-color="#bfbfbf"/></linearGradient>
<linearGradient id="g1_14" gradientUnits="userSpaceOnUse" x1="1" y1="0" x2="110" y2="0"><stop offset="0.0000" stop-color="#6e6e6e"/><stop offset="0.0642" stop-color="#757575"/><stop offset="0.1101" stop-color="#8a8a8a"/><stop offset="0.1560" stop-color="#969696"/><stop offset="0.2110" stop-color="#a6a6a6"/><stop offset="0.2661" stop-color="#b5b5b5"/><stop offset="0.3092" stop-color="#bfbfbf"/><stop offset="0.3092" stop-color="#404040"/><stop offset="0.3853" stop-color="#505050"/><stop offset="0.5229" stop-color="#6e6e6e"/><stop offset="0.5963" stop-color="#808080"/><stop offset="0.6422" stop-color="#8f8f8f"/><stop offset="0.7064" stop-color="#a1a1a1"/><stop offset="0.7798" stop-color="#b2b2b2"/><stop offset="0.8321" stop-color="#bfbfbf"/><stop offset="0.8321" stop-color="#404040"/><stop offset="1.0000" stop-color="#5c5c5c"/></linearGradient>
<linearGradient id="g1_15" gradientUnits="userSpaceOnUse" spreadMethod="repeat" x1="119.8" y1="0" x2="130.7" y2="0"><stop offset="0" stop-color="#404040"/><stop offset="1" stop-color="#bfbfbf"/></linearGradient>
<linearGradient id="g1_16" gradientUnits="userSpaceOnUse" spreadMethod="repeat" x1="34.7" y1="0" x2="90.7" y2="0"><stop offset="0" stop-color="#404040"/><stop offset="1" stop-color="#bfbfbf"/></linearGradient>
<linearGradient id="g1_17" gradientUnits="userSpaceOnUse" spreadMethod="repeat" x1="34.7" y1="0" x2="90.7" y2="0"><stop offset="0" stop-color="#404040"/><stop offset="1" stop-color="#bfbfbf"/></linearGradient>
<linearGradient id="g1_18" gradientUnits="userSpaceOnUse" x1="1" y1="0" x2="105" y2="0"><stop offset="0.0000" stop-color="#8c8c8c"/><stop offset="0.2212" stop-color="#bfbfbf"/><stop offset="0.2212" stop-color="#404040"/><stop offset="0.7731" stop-color="#bfbfbf"/><stop offset="0.7731" stop-color="#404040"/><stop offset="1.0000" stop-color="#606060"/></linearGradient>
<linearGradient id="g1_20" gradientUnits="userSpaceOnUse" spreadMethod="repeat" x1="129" y1="0" x2="150" y2="0"><stop offset="0" stop-color="#bfbfbf"/><stop offset="1" stop-color="#404040"/></linearGradient>
<linearGradient id="g1_21" gradientUnits="userSpaceOnUse" spreadMethod="repeat" x1="112" y1="0" x2="116.2" y2="0"><stop offset="0" stop-color="#404040"/><stop offset="1" stop-color="#bfbfbf"/></linearGradient>
<linearGradient id="g1_22" gradientUnits="userSpaceOnUse" spreadMethod="repeat" x1="112" y1="0" x2="115.7" y2="0"><stop offset="0" stop-color="#404040"/><stop offset="1" stop-color="#bfbfbf"/></linearGradient>
<linearGradient id="g1_23" gradientUnits="userSpaceOnUse" spreadMethod="repeat" x1="112" y1="0" x2="115.6" y2="0"><stop offset="0" stop-color="#404040"/><stop offset="1" stop-color="#bfbfbf"/></linearGradient>
<linearGradient id="g1_24" gradientUnits="userSpaceOnUse" spreadMethod="repeat" x1="112" y1="0" x2="116.4" y2="0"><stop offset="0" stop-color="#404040"/><stop offset="1" stop-color="#bfbfbf"/></linearGradient>
<linearGradient id="g1_25" gradientUnits="userSpaceOnUse" spreadMethod="repeat" x1="103" y1="0" x2="107.6" y2="0"><stop offset="0" stop-color="#404040"/><stop offset="1" stop-color="#bfbfbf"/></linearGradient>
<filter id="phA1" x="0" y="0" width="100%" height="100%" color-interpolation-filters="sRGB"><feTurbulence type="fractalNoise" baseFrequency="0.93 0.87" numOctaves="1" seed="89"/><feColorMatrix type="matrix" values="1 0 0 0 0  1 0 0 0 0  1 0 0 0 0  0 0 0 0 1" result="n"/><feComposite in="SourceGraphic" in2="n" operator="arithmetic" k1="0" k2="1" k3="0.45" k4="-0.225"/><feComponentTransfer><feFuncR type="table" tableValues="0.484 0.551 0.618 0.685 0.753 0.820 0.887 0.954 1.000 1.000 1.000 1.000 1.000 1.000 1.000 1.000 1.000 1.000 1.000 0.973 0.879 0.784 0.689 0.595 0.000 0.000 0.000 0.000 0.000 0.000 0.000 0.000 0.000 0.000 0.000 0.000 0.000 0.000 0.000 0.000 0.000 0.013 0.081 0.148 0.215 0.282 0.349 0.417 0.484 0.551 0.618 0.685 0.753 0.820 0.887 0.954 1.000 1.000 1.000 1.000 1.000 1.000 1.000 1.000 1.000 1.000 1.000 0.973 0.879 0.784 0.689 0.595 0.000 0.000 0.000 0.000 0.000 0.000 0.000 0.000 0.000 0.000 0.000 0.000 0.000 0.000 0.000 0.000 0.000 0.013 0.081 0.148 0.215 0.282 0.349 0.417 0.484"/><feFuncG type="table" tableValues="1.000 1.000 1.000 1.000 1.000 1.000 1.000 0.978 0.901 0.824 0.747 0.670 0.593 0.515 0.438 0.361 0.284 0.207 0.130 0.052 0.000 0.000 0.000 0.000 0.000 0.000 0.000 0.000 0.000 0.000 0.000 0.083 0.167 0.250 0.333 0.417 0.500 0.583 0.667 0.750 0.833 0.917 1.000 1.000 1.000 1.000 1.000 1.000 1.000 1.000 1.000 1.000 1.000 1.000 1.000 0.978 0.901 0.824 0.747 0.670 0.593 0.515 0.438 0.361 0.284 0.207 0.130 0.052 0.000 0.000 0.000 0.000 0.000 0.000 0.000 0.000 0.000 0.000 0.000 0.083 0.167 0.250 0.333 0.417 0.500 0.583 0.667 0.750 0.833 0.917 1.000 1.000 1.000 1.000 1.000 1.000 1.000"/><feFuncB type="table" tableValues="0.484 0.417 0.349 0.282 0.215 0.148 0.081 0.013 0.000 0.000 0.000 0.000 0.000 0.000 0.000 0.000 0.000 0.000 0.000 0.000 0.000 0.000 0.000 0.000 0.500 0.595 0.689 0.784 0.879 0.973 1.000 1.000 1.000 1.000 1.000 1.000 1.000 1.000 1.000 1.000 1.000 0.954 0.887 0.820 0.753 0.685 0.618 0.551 0.484 0.417 0.349 0.282 0.215 0.148 0.081 0.013 0.000 0.000 0.000 0.000 0.000 0.000 0.000 0.000 0.000 0.000 0.000 0.000 0.000 0.000 0.000 0.000 0.500 0.595 0.689 0.784 0.879 0.973 1.000 1.000 1.000 1.000 1.000 1.000 1.000 1.000 1.000 1.000 1.000 0.954 0.887 0.820 0.753 0.685 0.618 0.551 0.484"/></feComponentTransfer><feComposite operator="in" in2="SourceGraphic"/></filter>
<filter id="phC1" x="0" y="0" width="100%" height="100%" color-interpolation-filters="sRGB"><feTurbulence type="fractalNoise" baseFrequency="0.93 0.87" numOctaves="1" seed="91"/><feColorMatrix type="matrix" values="1 0 0 0 0  1 0 0 0 0  1 0 0 0 0  0 0 0 0 1" result="n"/><feComposite in="SourceGraphic" in2="n" operator="arithmetic" k1="0" k2="1" k3="0.9" k4="-0.450"/><feComponentTransfer><feFuncR type="table" tableValues="0.484 0.551 0.618 0.685 0.753 0.820 0.887 0.954 1.000 1.000 1.000 1.000 1.000 1.000 1.000 1.000 1.000 1.000 1.000 0.973 0.879 0.784 0.689 0.595 0.000 0.000 0.000 0.000 0.000 0.000 0.000 0.000 0.000 0.000 0.000 0.000 0.000 0.000 0.000 0.000 0.000 0.013 0.081 0.148 0.215 0.282 0.349 0.417 0.484 0.551 0.618 0.685 0.753 0.820 0.887 0.954 1.000 1.000 1.000 1.000 1.000 1.000 1.000 1.000 1.000 1.000 1.000 0.973 0.879 0.784 0.689 0.595 0.000 0.000 0.000 0.000 0.000 0.000 0.000 0.000 0.000 0.000 0.000 0.000 0.000 0.000 0.000 0.000 0.000 0.013 0.081 0.148 0.215 0.282 0.349 0.417 0.484"/><feFuncG type="table" tableValues="1.000 1.000 1.000 1.000 1.000 1.000 1.000 0.978 0.901 0.824 0.747 0.670 0.593 0.515 0.438 0.361 0.284 0.207 0.130 0.052 0.000 0.000 0.000 0.000 0.000 0.000 0.000 0.000 0.000 0.000 0.000 0.083 0.167 0.250 0.333 0.417 0.500 0.583 0.667 0.750 0.833 0.917 1.000 1.000 1.000 1.000 1.000 1.000 1.000 1.000 1.000 1.000 1.000 1.000 1.000 0.978 0.901 0.824 0.747 0.670 0.593 0.515 0.438 0.361 0.284 0.207 0.130 0.052 0.000 0.000 0.000 0.000 0.000 0.000 0.000 0.000 0.000 0.000 0.000 0.083 0.167 0.250 0.333 0.417 0.500 0.583 0.667 0.750 0.833 0.917 1.000 1.000 1.000 1.000 1.000 1.000 1.000"/><feFuncB type="table" tableValues="0.484 0.417 0.349 0.282 0.215 0.148 0.081 0.013 0.000 0.000 0.000 0.000 0.000 0.000 0.000 0.000 0.000 0.000 0.000 0.000 0.000 0.000 0.000 0.000 0.500 0.595 0.689 0.784 0.879 0.973 1.000 1.000 1.000 1.000 1.000 1.000 1.000 1.000 1.000 1.000 1.000 0.954 0.887 0.820 0.753 0.685 0.618 0.551 0.484 0.417 0.349 0.282 0.215 0.148 0.081 0.013 0.000 0.000 0.000 0.000 0.000 0.000 0.000 0.000 0.000 0.000 0.000 0.000 0.000 0.000 0.000 0.000 0.500 0.595 0.689 0.784 0.879 0.973 1.000 1.000 1.000 1.000 1.000 1.000 1.000 1.000 1.000 1.000 1.000 0.954 0.887 0.820 0.753 0.685 0.618 0.551 0.484"/></feComponentTransfer><feComposite operator="in" in2="SourceGraphic"/></filter>
<filter id="phD1" x="0" y="0" width="100%" height="100%" color-interpolation-filters="sRGB"><feTurbulence type="fractalNoise" baseFrequency="0.93 0.87" numOctaves="1" seed="92"/><feColorMatrix type="matrix" values="1 0 0 0 0  1 0 0 0 0  1 0 0 0 0  0 0 0 0 1" result="n"/><feComposite in="SourceGraphic" in2="n" operator="arithmetic" k1="0" k2="1" k3="1.2" k4="-0.600"/><feComponentTransfer><feFuncR type="table" tableValues="0.484 0.551 0.618 0.685 0.753 0.820 0.887 0.954 1.000 1.000 1.000 1.000 1.000 1.000 1.000 1.000 1.000 1.000 1.000 0.973 0.879 0.784 0.689 0.595 0.000 0.000 0.000 0.000 0.000 0.000 0.000 0.000 0.000 0.000 0.000 0.000 0.000 0.000 0.000 0.000 0.000 0.013 0.081 0.148 0.215 0.282 0.349 0.417 0.484 0.551 0.618 0.685 0.753 0.820 0.887 0.954 1.000 1.000 1.000 1.000 1.000 1.000 1.000 1.000 1.000 1.000 1.000 0.973 0.879 0.784 0.689 0.595 0.000 0.000 0.000 0.000 0.000 0.000 0.000 0.000 0.000 0.000 0.000 0.000 0.000 0.000 0.000 0.000 0.000 0.013 0.081 0.148 0.215 0.282 0.349 0.417 0.484"/><feFuncG type="table" tableValues="1.000 1.000 1.000 1.000 1.000 1.000 1.000 0.978 0.901 0.824 0.747 0.670 0.593 0.515 0.438 0.361 0.284 0.207 0.130 0.052 0.000 0.000 0.000 0.000 0.000 0.000 0.000 0.000 0.000 0.000 0.000 0.083 0.167 0.250 0.333 0.417 0.500 0.583 0.667 0.750 0.833 0.917 1.000 1.000 1.000 1.000 1.000 1.000 1.000 1.000 1.000 1.000 1.000 1.000 1.000 0.978 0.901 0.824 0.747 0.670 0.593 0.515 0.438 0.361 0.284 0.207 0.130 0.052 0.000 0.000 0.000 0.000 0.000 0.000 0.000 0.000 0.000 0.000 0.000 0.083 0.167 0.250 0.333 0.417 0.500 0.583 0.667 0.750 0.833 0.917 1.000 1.000 1.000 1.000 1.000 1.000 1.000"/><feFuncB type="table" tableValues="0.484 0.417 0.349 0.282 0.215 0.148 0.081 0.013 0.000 0.000 0.000 0.000 0.000 0.000 0.000 0.000 0.000 0.000 0.000 0.000 0.000 0.000 0.000 0.000 0.500 0.595 0.689 0.784 0.879 0.973 1.000 1.000 1.000 1.000 1.000 1.000 1.000 1.000 1.000 1.000 1.000 0.954 0.887 0.820 0.753 0.685 0.618 0.551 0.484 0.417 0.349 0.282 0.215 0.148 0.081 0.013 0.000 0.000 0.000 0.000 0.000 0.000 0.000 0.000 0.000 0.000 0.000 0.000 0.000 0.000 0.000 0.000 0.500 0.595 0.689 0.784 0.879 0.973 1.000 1.000 1.000 1.000 1.000 1.000 1.000 1.000 1.000 1.000 1.000 0.954 0.887 0.820 0.753 0.685 0.618 0.551 0.484"/></feComponentTransfer><feComposite operator="in" in2="SourceGraphic"/></filter>
<filter id="ph01" x="0" y="0" width="100%" height="100%" color-interpolation-filters="sRGB"><feTurbulence type="fractalNoise" baseFrequency="0.93 0.87" numOctaves="1" seed="72"/><feColorMatrix type="matrix" values="1 0 0 0 0  1 0 0 0 0  1 0 0 0 0  0 0 0 0 1" result="n"/><feComposite in="SourceGraphic" in2="n" operator="arithmetic" k1="0" k2="1" k3="0.25" k4="-0.125"/><feComponentTransfer><feFuncR type="table" tableValues="0.484 0.551 0.618 0.685 0.753 0.820 0.887 0.954 1.000 1.000 1.000 1.000 1.000 1.000 1.000 1.000 1.000 1.000 1.000 0.973 0.879 0.784 0.689 0.595 0.000 0.000 0.000 0.000 0.000 0.000 0.000 0.000 0.000 0.000 0.000 0.000 0.000 0.000 0.000 0.000 0.000 0.013 0.081 0.148 0.215 0.282 0.349 0.417 0.484 0.551 0.618 0.685 0.753 0.820 0.887 0.954 1.000 1.000 1.000 1.000 1.000 1.000 1.000 1.000 1.000 1.000 1.000 0.973 0.879 0.784 0.689 0.595 0.000 0.000 0.000 0.000 0.000 0.000 0.000 0.000 0.000 0.000 0.000 0.000 0.000 0.000 0.000 0.000 0.000 0.013 0.081 0.148 0.215 0.282 0.349 0.417 0.484"/><feFuncG type="table" tableValues="1.000 1.000 1.000 1.000 1.000 1.000 1.000 0.978 0.901 0.824 0.747 0.670 0.593 0.515 0.438 0.361 0.284 0.207 0.130 0.052 0.000 0.000 0.000 0.000 0.000 0.000 0.000 0.000 0.000 0.000 0.000 0.083 0.167 0.250 0.333 0.417 0.500 0.583 0.667 0.750 0.833 0.917 1.000 1.000 1.000 1.000 1.000 1.000 1.000 1.000 1.000 1.000 1.000 1.000 1.000 0.978 0.901 0.824 0.747 0.670 0.593 0.515 0.438 0.361 0.284 0.207 0.130 0.052 0.000 0.000 0.000 0.000 0.000 0.000 0.000 0.000 0.000 0.000 0.000 0.083 0.167 0.250 0.333 0.417 0.500 0.583 0.667 0.750 0.833 0.917 1.000 1.000 1.000 1.000 1.000 1.000 1.000"/><feFuncB type="table" tableValues="0.484 0.417 0.349 0.282 0.215 0.148 0.081 0.013 0.000 0.000 0.000 0.000 0.000 0.000 0.000 0.000 0.000 0.000 0.000 0.000 0.000 0.000 0.000 0.000 0.500 0.595 0.689 0.784 0.879 0.973 1.000 1.000 1.000 1.000 1.000 1.000 1.000 1.000 1.000 1.000 1.000 0.954 0.887 0.820 0.753 0.685 0.618 0.551 0.484 0.417 0.349 0.282 0.215 0.148 0.081 0.013 0.000 0.000 0.000 0.000 0.000 0.000 0.000 0.000 0.000 0.000 0.000 0.000 0.000 0.000 0.000 0.000 0.500 0.595 0.689 0.784 0.879 0.973 1.000 1.000 1.000 1.000 1.000 1.000 1.000 1.000 1.000 1.000 1.000 0.954 0.887 0.820 0.753 0.685 0.618 0.551 0.484"/></feComponentTransfer><feComposite operator="in" in2="SourceGraphic"/></filter>
<filter id="phB1" x="0" y="0" width="100%" height="100%" color-interpolation-filters="sRGB"><feTurbulence type="fractalNoise" baseFrequency="0.93 0.87" numOctaves="1" seed="90"/><feColorMatrix type="matrix" values="1 0 0 0 0  1 0 0 0 0  1 0 0 0 0  0 0 0 0 1" result="n"/><feComposite in="SourceGraphic" in2="n" operator="arithmetic" k1="0" k2="1" k3="0.7" k4="-0.350"/><feComponentTransfer><feFuncR type="table" tableValues="0.484 0.551 0.618 0.685 0.753 0.820 0.887 0.954 1.000 1.000 1.000 1.000 1.000 1.000 1.000 1.000 1.000 1.000 1.000 0.973 0.879 0.784 0.689 0.595 0.000 0.000 0.000 0.000 0.000 0.000 0.000 0.000 0.000 0.000 0.000 0.000 0.000 0.000 0.000 0.000 0.000 0.013 0.081 0.148 0.215 0.282 0.349 0.417 0.484 0.551 0.618 0.685 0.753 0.820 0.887 0.954 1.000 1.000 1.000 1.000 1.000 1.000 1.000 1.000 1.000 1.000 1.000 0.973 0.879 0.784 0.689 0.595 0.000 0.000 0.000 0.000 0.000 0.000 0.000 0.000 0.000 0.000 0.000 0.000 0.000 0.000 0.000 0.000 0.000 0.013 0.081 0.148 0.215 0.282 0.349 0.417 0.484"/><feFuncG type="table" tableValues="1.000 1.000 1.000 1.000 1.000 1.000 1.000 0.978 0.901 0.824 0.747 0.670 0.593 0.515 0.438 0.361 0.284 0.207 0.130 0.052 0.000 0.000 0.000 0.000 0.000 0.000 0.000 0.000 0.000 0.000 0.000 0.083 0.167 0.250 0.333 0.417 0.500 0.583 0.667 0.750 0.833 0.917 1.000 1.000 1.000 1.000 1.000 1.000 1.000 1.000 1.000 1.000 1.000 1.000 1.000 0.978 0.901 0.824 0.747 0.670 0.593 0.515 0.438 0.361 0.284 0.207 0.130 0.052 0.000 0.000 0.000 0.000 0.000 0.000 0.000 0.000 0.000 0.000 0.000 0.083 0.167 0.250 0.333 0.417 0.500 0.583 0.667 0.750 0.833 0.917 1.000 1.000 1.000 1.000 1.000 1.000 1.000"/><feFuncB type="table" tableValues="0.484 0.417 0.349 0.282 0.215 0.148 0.081 0.013 0.000 0.000 0.000 0.000 0.000 0.000 0.000 0.000 0.000 0.000 0.000 0.000 0.000 0.000 0.000 0.000 0.500 0.595 0.689 0.784 0.879 0.973 1.000 1.000 1.000 1.000 1.000 1.000 1.000 1.000 1.000 1.000 1.000 0.954 0.887 0.820 0.753 0.685 0.618 0.551 0.484 0.417 0.349 0.282 0.215 0.148 0.081 0.013 0.000 0.000 0.000 0.000 0.000 0.000 0.000 0.000 0.000 0.000 0.000 0.000 0.000 0.000 0.000 0.000 0.500 0.595 0.689 0.784 0.879 0.973 1.000 1.000 1.000 1.000 1.000 1.000 1.000 1.000 1.000 1.000 1.000 0.954 0.887 0.820 0.753 0.685 0.618 0.551 0.484"/></feComponentTransfer><feComposite operator="in" in2="SourceGraphic"/></filter>
<linearGradient id="g2_1" gradientUnits="userSpaceOnUse" spreadMethod="repeat" x1="118" y1="0" x2="130.5" y2="0"><stop offset="0" stop-color="#404040"/><stop offset="1" stop-color="#bfbfbf"/></linearGradient>
<linearGradient id="g2_2" gradientUnits="userSpaceOnUse" spreadMethod="repeat" x1="129" y1="0" x2="150" y2="0"><stop offset="0" stop-color="#bfbfbf"/><stop offset="1" stop-color="#404040"/></linearGradient>
<linearGradient id="g2_3" gradientUnits="userSpaceOnUse" spreadMethod="repeat" x1="112" y1="0" x2="116.2" y2="0"><stop offset="0" stop-color="#404040"/><stop offset="1" stop-color="#bfbfbf"/></linearGradient>
<linearGradient id="g2_4" gradientUnits="userSpaceOnUse" spreadMethod="repeat" x1="112" y1="0" x2="115.7" y2="0"><stop offset="0" stop-color="#404040"/><stop offset="1" stop-color="#bfbfbf"/></linearGradient>
<linearGradient id="g2_5" gradientUnits="userSpaceOnUse" spreadMethod="repeat" x1="112" y1="0" x2="115.6" y2="0"><stop offset="0" stop-color="#404040"/><stop offset="1" stop-color="#bfbfbf"/></linearGradient>
<linearGradient id="g2_6" gradientUnits="userSpaceOnUse" spreadMethod="repeat" x1="112" y1="0" x2="116.4" y2="0"><stop offset="0" stop-color="#404040"/><stop offset="1" stop-color="#bfbfbf"/></linearGradient>
<linearGradient id="g2_7" gradientUnits="userSpaceOnUse" spreadMethod="repeat" x1="103" y1="0" x2="107.6" y2="0"><stop offset="0" stop-color="#404040"/><stop offset="1" stop-color="#bfbfbf"/></linearGradient>
<filter id="phA2" x="0" y="0" width="100%" height="100%" color-interpolation-filters="sRGB"><feTurbulence type="fractalNoise" baseFrequency="0.93 0.87" numOctaves="1" seed="102"/><feColorMatrix type="matrix" values="1 0 0 0 0  1 0 0 0 0  1 0 0 0 0  0 0 0 0 1" result="n"/><feComposite in="SourceGraphic" in2="n" operator="arithmetic" k1="0" k2="1" k3="0.45" k4="-0.225"/><feComponentTransfer><feFuncR type="table" tableValues="0.484 0.551 0.618 0.685 0.753 0.820 0.887 0.954 1.000 1.000 1.000 1.000 1.000 1.000 1.000 1.000 1.000 1.000 1.000 0.973 0.879 0.784 0.689 0.595 0.000 0.000 0.000 0.000 0.000 0.000 0.000 0.000 0.000 0.000 0.000 0.000 0.000 0.000 0.000 0.000 0.000 0.013 0.081 0.148 0.215 0.282 0.349 0.417 0.484 0.551 0.618 0.685 0.753 0.820 0.887 0.954 1.000 1.000 1.000 1.000 1.000 1.000 1.000 1.000 1.000 1.000 1.000 0.973 0.879 0.784 0.689 0.595 0.000 0.000 0.000 0.000 0.000 0.000 0.000 0.000 0.000 0.000 0.000 0.000 0.000 0.000 0.000 0.000 0.000 0.013 0.081 0.148 0.215 0.282 0.349 0.417 0.484"/><feFuncG type="table" tableValues="1.000 1.000 1.000 1.000 1.000 1.000 1.000 0.978 0.901 0.824 0.747 0.670 0.593 0.515 0.438 0.361 0.284 0.207 0.130 0.052 0.000 0.000 0.000 0.000 0.000 0.000 0.000 0.000 0.000 0.000 0.000 0.083 0.167 0.250 0.333 0.417 0.500 0.583 0.667 0.750 0.833 0.917 1.000 1.000 1.000 1.000 1.000 1.000 1.000 1.000 1.000 1.000 1.000 1.000 1.000 0.978 0.901 0.824 0.747 0.670 0.593 0.515 0.438 0.361 0.284 0.207 0.130 0.052 0.000 0.000 0.000 0.000 0.000 0.000 0.000 0.000 0.000 0.000 0.000 0.083 0.167 0.250 0.333 0.417 0.500 0.583 0.667 0.750 0.833 0.917 1.000 1.000 1.000 1.000 1.000 1.000 1.000"/><feFuncB type="table" tableValues="0.484 0.417 0.349 0.282 0.215 0.148 0.081 0.013 0.000 0.000 0.000 0.000 0.000 0.000 0.000 0.000 0.000 0.000 0.000 0.000 0.000 0.000 0.000 0.000 0.500 0.595 0.689 0.784 0.879 0.973 1.000 1.000 1.000 1.000 1.000 1.000 1.000 1.000 1.000 1.000 1.000 0.954 0.887 0.820 0.753 0.685 0.618 0.551 0.484 0.417 0.349 0.282 0.215 0.148 0.081 0.013 0.000 0.000 0.000 0.000 0.000 0.000 0.000 0.000 0.000 0.000 0.000 0.000 0.000 0.000 0.000 0.000 0.500 0.595 0.689 0.784 0.879 0.973 1.000 1.000 1.000 1.000 1.000 1.000 1.000 1.000 1.000 1.000 1.000 0.954 0.887 0.820 0.753 0.685 0.618 0.551 0.484"/></feComponentTransfer><feComposite operator="in" in2="SourceGraphic"/></filter>
<filter id="phC2" x="0" y="0" width="100%" height="100%" color-interpolation-filters="sRGB"><feTurbulence type="fractalNoise" baseFrequency="0.93 0.87" numOctaves="1" seed="104"/><feColorMatrix type="matrix" values="1 0 0 0 0  1 0 0 0 0  1 0 0 0 0  0 0 0 0 1" result="n"/><feComposite in="SourceGraphic" in2="n" operator="arithmetic" k1="0" k2="1" k3="0.9" k4="-0.450"/><feComponentTransfer><feFuncR type="table" tableValues="0.484 0.551 0.618 0.685 0.753 0.820 0.887 0.954 1.000 1.000 1.000 1.000 1.000 1.000 1.000 1.000 1.000 1.000 1.000 0.973 0.879 0.784 0.689 0.595 0.000 0.000 0.000 0.000 0.000 0.000 0.000 0.000 0.000 0.000 0.000 0.000 0.000 0.000 0.000 0.000 0.000 0.013 0.081 0.148 0.215 0.282 0.349 0.417 0.484 0.551 0.618 0.685 0.753 0.820 0.887 0.954 1.000 1.000 1.000 1.000 1.000 1.000 1.000 1.000 1.000 1.000 1.000 0.973 0.879 0.784 0.689 0.595 0.000 0.000 0.000 0.000 0.000 0.000 0.000 0.000 0.000 0.000 0.000 0.000 0.000 0.000 0.000 0.000 0.000 0.013 0.081 0.148 0.215 0.282 0.349 0.417 0.484"/><feFuncG type="table" tableValues="1.000 1.000 1.000 1.000 1.000 1.000 1.000 0.978 0.901 0.824 0.747 0.670 0.593 0.515 0.438 0.361 0.284 0.207 0.130 0.052 0.000 0.000 0.000 0.000 0.000 0.000 0.000 0.000 0.000 0.000 0.000 0.083 0.167 0.250 0.333 0.417 0.500 0.583 0.667 0.750 0.833 0.917 1.000 1.000 1.000 1.000 1.000 1.000 1.000 1.000 1.000 1.000 1.000 1.000 1.000 0.978 0.901 0.824 0.747 0.670 0.593 0.515 0.438 0.361 0.284 0.207 0.130 0.052 0.000 0.000 0.000 0.000 0.000 0.000 0.000 0.000 0.000 0.000 0.000 0.083 0.167 0.250 0.333 0.417 0.500 0.583 0.667 0.750 0.833 0.917 1.000 1.000 1.000 1.000 1.000 1.000 1.000"/><feFuncB type="table" tableValues="0.484 0.417 0.349 0.282 0.215 0.148 0.081 0.013 0.000 0.000 0.000 0.000 0.000 0.000 0.000 0.000 0.000 0.000 0.000 0.000 0.000 0.000 0.000 0.000 0.500 0.595 0.689 0.784 0.879 0.973 1.000 1.000 1.000 1.000 1.000 1.000 1.000 1.000 1.000 1.000 1.000 0.954 0.887 0.820 0.753 0.685 0.618 0.551 0.484 0.417 0.349 0.282 0.215 0.148 0.081 0.013 0.000 0.000 0.000 0.000 0.000 0.000 0.000 0.000 0.000 0.000 0.000 0.000 0.000 0.000 0.000 0.000 0.500 0.595 0.689 0.784 0.879 0.973 1.000 1.000 1.000 1.000 1.000 1.000 1.000 1.000 1.000 1.000 1.000 0.954 0.887 0.820 0.753 0.685 0.618 0.551 0.484"/></feComponentTransfer><feComposite operator="in" in2="SourceGraphic"/></filter>
<filter id="phB2" x="0" y="0" width="100%" height="100%" color-interpolation-filters="sRGB"><feTurbulence type="fractalNoise" baseFrequency="0.93 0.87" numOctaves="1" seed="103"/><feColorMatrix type="matrix" values="1 0 0 0 0  1 0 0 0 0  1 0 0 0 0  0 0 0 0 1" result="n"/><feComposite in="SourceGraphic" in2="n" operator="arithmetic" k1="0" k2="1" k3="0.7" k4="-0.350"/><feComponentTransfer><feFuncR type="table" tableValues="0.484 0.551 0.618 0.685 0.753 0.820 0.887 0.954 1.000 1.000 1.000 1.000 1.000 1.000 1.000 1.000 1.000 1.000 1.000 0.973 0.879 0.784 0.689 0.595 0.000 0.000 0.000 0.000 0.000 0.000 0.000 0.000 0.000 0.000 0.000 0.000 0.000 0.000 0.000 0.000 0.000 0.013 0.081 0.148 0.215 0.282 0.349 0.417 0.484 0.551 0.618 0.685 0.753 0.820 0.887 0.954 1.000 1.000 1.000 1.000 1.000 1.000 1.000 1.000 1.000 1.000 1.000 0.973 0.879 0.784 0.689 0.595 0.000 0.000 0.000 0.000 0.000 0.000 0.000 0.000 0.000 0.000 0.000 0.000 0.000 0.000 0.000 0.000 0.000 0.013 0.081 0.148 0.215 0.282 0.349 0.417 0.484"/><feFuncG type="table" tableValues="1.000 1.000 1.000 1.000 1.000 1.000 1.000 0.978 0.901 0.824 0.747 0.670 0.593 0.515 0.438 0.361 0.284 0.207 0.130 0.052 0.000 0.000 0.000 0.000 0.000 0.000 0.000 0.000 0.000 0.000 0.000 0.083 0.167 0.250 0.333 0.417 0.500 0.583 0.667 0.750 0.833 0.917 1.000 1.000 1.000 1.000 1.000 1.000 1.000 1.000 1.000 1.000 1.000 1.000 1.000 0.978 0.901 0.824 0.747 0.670 0.593 0.515 0.438 0.361 0.284 0.207 0.130 0.052 0.000 0.000 0.000 0.000 0.000 0.000 0.000 0.000 0.000 0.000 0.000 0.083 0.167 0.250 0.333 0.417 0.500 0.583 0.667 0.750 0.833 0.917 1.000 1.000 1.000 1.000 1.000 1.000 1.000"/><feFuncB type="table" tableValues="0.484 0.417 0.349 0.282 0.215 0.148 0.081 0.013 0.000 0.000 0.000 0.000 0.000 0.000 0.000 0.000 0.000 0.000 0.000 0.000 0.000 0.000 0.000 0.000 0.500 0.595 0.689 0.784 0.879 0.973 1.000 1.000 1.000 1.000 1.000 1.000 1.000 1.000 1.000 1.000 1.000 0.954 0.887 0.820 0.753 0.685 0.618 0.551 0.484 0.417 0.349 0.282 0.215 0.148 0.081 0.013 0.000 0.000 0.000 0.000 0.000 0.000 0.000 0.000 0.000 0.000 0.000 0.000 0.000 0.000 0.000 0.000 0.500 0.595 0.689 0.784 0.879 0.973 1.000 1.000 1.000 1.000 1.000 1.000 1.000 1.000 1.000 1.000 1.000 0.954 0.887 0.820 0.753 0.685 0.618 0.551 0.484"/></feComponentTransfer><feComposite operator="in" in2="SourceGraphic"/></filter>
<linearGradient id="g3_1" gradientUnits="userSpaceOnUse" x1="100" y1="0" x2="176" y2="0"><stop offset="0.0000" stop-color="#757575"/><stop offset="0.2368" stop-color="#828282"/><stop offset="0.4342" stop-color="#949494"/><stop offset="0.5808" stop-color="#a3a3a3"/><stop offset="1.0000" stop-color="#a6a6a6"/><stop offset="1.0000" stop-color="#b2b2b2"/></linearGradient>
<linearGradient id="g3_2" gradientUnits="userSpaceOnUse" spreadMethod="repeat" x1="116" y1="0" x2="127" y2="0"><stop offset="0" stop-color="#404040"/><stop offset="1" stop-color="#bfbfbf"/></linearGradient>
<linearGradient id="g3_4" gradientUnits="userSpaceOnUse" spreadMethod="repeat" x1="129" y1="0" x2="150" y2="0"><stop offset="0" stop-color="#bfbfbf"/><stop offset="1" stop-color="#404040"/></linearGradient>
<linearGradient id="g3_5" gradientUnits="userSpaceOnUse" spreadMethod="repeat" x1="112" y1="0" x2="116.2" y2="0"><stop offset="0" stop-color="#404040"/><stop offset="1" stop-color="#bfbfbf"/></linearGradient>
<linearGradient id="g3_6" gradientUnits="userSpaceOnUse" spreadMethod="repeat" x1="112" y1="0" x2="115.7" y2="0"><stop offset="0" stop-color="#404040"/><stop offset="1" stop-color="#bfbfbf"/></linearGradient>
<linearGradient id="g3_7" gradientUnits="userSpaceOnUse" spreadMethod="repeat" x1="112" y1="0" x2="115.6" y2="0"><stop offset="0" stop-color="#404040"/><stop offset="1" stop-color="#bfbfbf"/></linearGradient>
<linearGradient id="g3_8" gradientUnits="userSpaceOnUse" spreadMethod="repeat" x1="112" y1="0" x2="116.4" y2="0"><stop offset="0" stop-color="#404040"/><stop offset="1" stop-color="#bfbfbf"/></linearGradient>
<linearGradient id="g3_9" gradientUnits="userSpaceOnUse" spreadMethod="repeat" x1="103" y1="0" x2="107.6" y2="0"><stop offset="0" stop-color="#404040"/><stop offset="1" stop-color="#bfbfbf"/></linearGradient>
<filter id="phA3" x="0" y="0" width="100%" height="100%" color-interpolation-filters="sRGB"><feTurbulence type="fractalNoise" baseFrequency="0.93 0.87" numOctaves="1" seed="115"/><feColorMatrix type="matrix" values="1 0 0 0 0  1 0 0 0 0  1 0 0 0 0  0 0 0 0 1" result="n"/><feComposite in="SourceGraphic" in2="n" operator="arithmetic" k1="0" k2="1" k3="0.45" k4="-0.225"/><feComponentTransfer><feFuncR type="table" tableValues="0.484 0.551 0.618 0.685 0.753 0.820 0.887 0.954 1.000 1.000 1.000 1.000 1.000 1.000 1.000 1.000 1.000 1.000 1.000 0.973 0.879 0.784 0.689 0.595 0.000 0.000 0.000 0.000 0.000 0.000 0.000 0.000 0.000 0.000 0.000 0.000 0.000 0.000 0.000 0.000 0.000 0.013 0.081 0.148 0.215 0.282 0.349 0.417 0.484 0.551 0.618 0.685 0.753 0.820 0.887 0.954 1.000 1.000 1.000 1.000 1.000 1.000 1.000 1.000 1.000 1.000 1.000 0.973 0.879 0.784 0.689 0.595 0.000 0.000 0.000 0.000 0.000 0.000 0.000 0.000 0.000 0.000 0.000 0.000 0.000 0.000 0.000 0.000 0.000 0.013 0.081 0.148 0.215 0.282 0.349 0.417 0.484"/><feFuncG type="table" tableValues="1.000 1.000 1.000 1.000 1.000 1.000 1.000 0.978 0.901 0.824 0.747 0.670 0.593 0.515 0.438 0.361 0.284 0.207 0.130 0.052 0.000 0.000 0.000 0.000 0.000 0.000 0.000 0.000 0.000 0.000 0.000 0.083 0.167 0.250 0.333 0.417 0.500 0.583 0.667 0.750 0.833 0.917 1.000 1.000 1.000 1.000 1.000 1.000 1.000 1.000 1.000 1.000 1.000 1.000 1.000 0.978 0.901 0.824 0.747 0.670 0.593 0.515 0.438 0.361 0.284 0.207 0.130 0.052 0.000 0.000 0.000 0.000 0.000 0.000 0.000 0.000 0.000 0.000 0.000 0.083 0.167 0.250 0.333 0.417 0.500 0.583 0.667 0.750 0.833 0.917 1.000 1.000 1.000 1.000 1.000 1.000 1.000"/><feFuncB type="table" tableValues="0.484 0.417 0.349 0.282 0.215 0.148 0.081 0.013 0.000 0.000 0.000 0.000 0.000 0.000 0.000 0.000 0.000 0.000 0.000 0.000 0.000 0.000 0.000 0.000 0.500 0.595 0.689 0.784 0.879 0.973 1.000 1.000 1.000 1.000 1.000 1.000 1.000 1.000 1.000 1.000 1.000 0.954 0.887 0.820 0.753 0.685 0.618 0.551 0.484 0.417 0.349 0.282 0.215 0.148 0.081 0.013 0.000 0.000 0.000 0.000 0.000 0.000 0.000 0.000 0.000 0.000 0.000 0.000 0.000 0.000 0.000 0.000 0.500 0.595 0.689 0.784 0.879 0.973 1.000 1.000 1.000 1.000 1.000 1.000 1.000 1.000 1.000 1.000 1.000 0.954 0.887 0.820 0.753 0.685 0.618 0.551 0.484"/></feComponentTransfer><feComposite operator="in" in2="SourceGraphic"/></filter>
<filter id="phC3" x="0" y="0" width="100%" height="100%" color-interpolation-filters="sRGB"><feTurbulence type="fractalNoise" baseFrequency="0.93 0.87" numOctaves="1" seed="117"/><feColorMatrix type="matrix" values="1 0 0 0 0  1 0 0 0 0  1 0 0 0 0  0 0 0 0 1" result="n"/><feComposite in="SourceGraphic" in2="n" operator="arithmetic" k1="0" k2="1" k3="0.9" k4="-0.450"/><feComponentTransfer><feFuncR type="table" tableValues="0.484 0.551 0.618 0.685 0.753 0.820 0.887 0.954 1.000 1.000 1.000 1.000 1.000 1.000 1.000 1.000 1.000 1.000 1.000 0.973 0.879 0.784 0.689 0.595 0.000 0.000 0.000 0.000 0.000 0.000 0.000 0.000 0.000 0.000 0.000 0.000 0.000 0.000 0.000 0.000 0.000 0.013 0.081 0.148 0.215 0.282 0.349 0.417 0.484 0.551 0.618 0.685 0.753 0.820 0.887 0.954 1.000 1.000 1.000 1.000 1.000 1.000 1.000 1.000 1.000 1.000 1.000 0.973 0.879 0.784 0.689 0.595 0.000 0.000 0.000 0.000 0.000 0.000 0.000 0.000 0.000 0.000 0.000 0.000 0.000 0.000 0.000 0.000 0.000 0.013 0.081 0.148 0.215 0.282 0.349 0.417 0.484"/><feFuncG type="table" tableValues="1.000 1.000 1.000 1.000 1.000 1.000 1.000 0.978 0.901 0.824 0.747 0.670 0.593 0.515 0.438 0.361 0.284 0.207 0.130 0.052 0.000 0.000 0.000 0.000 0.000 0.000 0.000 0.000 0.000 0.000 0.000 0.083 0.167 0.250 0.333 0.417 0.500 0.583 0.667 0.750 0.833 0.917 1.000 1.000 1.000 1.000 1.000 1.000 1.000 1.000 1.000 1.000 1.000 1.000 1.000 0.978 0.901 0.824 0.747 0.670 0.593 0.515 0.438 0.361 0.284 0.207 0.130 0.052 0.000 0.000 0.000 0.000 0.000 0.000 0.000 0.000 0.000 0.000 0.000 0.083 0.167 0.250 0.333 0.417 0.500 0.583 0.667 0.750 0.833 0.917 1.000 1.000 1.000 1.000 1.000 1.000 1.000"/><feFuncB type="table" tableValues="0.484 0.417 0.349 0.282 0.215 0.148 0.081 0.013 0.000 0.000 0.000 0.000 0.000 0.000 0.000 0.000 0.000 0.000 0.000 0.000 0.000 0.000 0.000 0.000 0.500 0.595 0.689 0.784 0.879 0.973 1.000 1.000 1.000 1.000 1.000 1.000 1.000 1.000 1.000 1.000 1.000 0.954 0.887 0.820 0.753 0.685 0.618 0.551 0.484 0.417 0.349 0.282 0.215 0.148 0.081 0.013 0.000 0.000 0.000 0.000 0.000 0.000 0.000 0.000 0.000 0.000 0.000 0.000 0.000 0.000 0.000 0.000 0.500 0.595 0.689 0.784 0.879 0.973 1.000 1.000 1.000 1.000 1.000 1.000 1.000 1.000 1.000 1.000 1.000 0.954 0.887 0.820 0.753 0.685 0.618 0.551 0.484"/></feComponentTransfer><feComposite operator="in" in2="SourceGraphic"/></filter>
<filter id="phB3" x="0" y="0" width="100%" height="100%" color-interpolation-filters="sRGB"><feTurbulence type="fractalNoise" baseFrequency="0.93 0.87" numOctaves="1" seed="116"/><feColorMatrix type="matrix" values="1 0 0 0 0  1 0 0 0 0  1 0 0 0 0  0 0 0 0 1" result="n"/><feComposite in="SourceGraphic" in2="n" operator="arithmetic" k1="0" k2="1" k3="0.7" k4="-0.350"/><feComponentTransfer><feFuncR type="table" tableValues="0.484 0.551 0.618 0.685 0.753 0.820 0.887 0.954 1.000 1.000 1.000 1.000 1.000 1.000 1.000 1.000 1.000 1.000 1.000 0.973 0.879 0.784 0.689 0.595 0.000 0.000 0.000 0.000 0.000 0.000 0.000 0.000 0.000 0.000 0.000 0.000 0.000 0.000 0.000 0.000 0.000 0.013 0.081 0.148 0.215 0.282 0.349 0.417 0.484 0.551 0.618 0.685 0.753 0.820 0.887 0.954 1.000 1.000 1.000 1.000 1.000 1.000 1.000 1.000 1.000 1.000 1.000 0.973 0.879 0.784 0.689 0.595 0.000 0.000 0.000 0.000 0.000 0.000 0.000 0.000 0.000 0.000 0.000 0.000 0.000 0.000 0.000 0.000 0.000 0.013 0.081 0.148 0.215 0.282 0.349 0.417 0.484"/><feFuncG type="table" tableValues="1.000 1.000 1.000 1.000 1.000 1.000 1.000 0.978 0.901 0.824 0.747 0.670 0.593 0.515 0.438 0.361 0.284 0.207 0.130 0.052 0.000 0.000 0.000 0.000 0.000 0.000 0.000 0.000 0.000 0.000 0.000 0.083 0.167 0.250 0.333 0.417 0.500 0.583 0.667 0.750 0.833 0.917 1.000 1.000 1.000 1.000 1.000 1.000 1.000 1.000 1.000 1.000 1.000 1.000 1.000 0.978 0.901 0.824 0.747 0.670 0.593 0.515 0.438 0.361 0.284 0.207 0.130 0.052 0.000 0.000 0.000 0.000 0.000 0.000 0.000 0.000 0.000 0.000 0.000 0.083 0.167 0.250 0.333 0.417 0.500 0.583 0.667 0.750 0.833 0.917 1.000 1.000 1.000 1.000 1.000 1.000 1.000"/><feFuncB type="table" tableValues="0.484 0.417 0.349 0.282 0.215 0.148 0.081 0.013 0.000 0.000 0.000 0.000 0.000 0.000 0.000 0.000 0.000 0.000 0.000 0.000 0.000 0.000 0.000 0.000 0.500 0.595 0.689 0.784 0.879 0.973 1.000 1.000 1.000 1.000 1.000 1.000 1.000 1.000 1.000 1.000 1.000 0.954 0.887 0.820 0.753 0.685 0.618 0.551 0.484 0.417 0.349 0.282 0.215 0.148 0.081 0.013 0.000 0.000 0.000 0.000 0.000 0.000 0.000 0.000 0.000 0.000 0.000 0.000 0.000 0.000 0.000 0.000 0.500 0.595 0.689 0.784 0.879 0.973 1.000 1.000 1.000 1.000 1.000 1.000 1.000 1.000 1.000 1.000 1.000 0.954 0.887 0.820 0.753 0.685 0.618 0.551 0.484"/></feComponentTransfer><feComposite operator="in" in2="SourceGraphic"/></filter>
</svg>
<div class="p" style="left:131px;top:80px;width:178px;height:641px">
<svg width="178" height="641" style="top:0"><rect width="178" height="641" filter="url(#nz0)"/></svg>
<div style="left:128px;top:621px;width:49px;height:3px;background:#7dff7a"></div>
<svg width="178" height="641" style="top:0">
<g filter="url(#phA0)"><rect x="1" y="14" width="110" height="10" fill="url(#g0_0)"/><rect x="1" y="25" width="108" height="11" fill="url(#g0_1)"/><rect x="1" y="88" width="91" height="11" fill="url(#g0_2)"/><rect x="1" y="210" width="110" height="11" fill="url(#g0_3)"/><rect x="1" y="222" width="110" height="5" fill="url(#g0_4)"/><rect x="1" y="268" width="110" height="6" fill="url(#g0_11)"/><rect x="1" y="276" width="110" height="11" fill="url(#g0_12)"/><rect x="1" y="309" width="110" height="3" fill="url(#g0_14)"/><rect x="88" y="629" width="88" height="5" fill="url(#g0_21)"/></g>
<g filter="url(#phB0)"><rect x="1" y="228" width="110" height="5" fill="url(#g0_5)"/><rect x="1" y="233" width="110" height="5" fill="url(#g0_6)"/><rect x="1" y="292" width="110" height="16" fill="url(#g0_13)"/><rect x="112" y="100" width="56" height="16" fill="url(#g0_22)"/><rect x="112" y="142" width="56" height="10" fill="url(#g0_23)"/><rect x="112" y="210" width="54" height="11" fill="url(#g0_24)"/><rect x="112" y="228" width="54" height="15" fill="url(#g0_25)"/><rect x="103" y="601" width="64" height="19" fill="url(#g0_26)"/></g>
<g filter="url(#phD0)"><rect x="1" y="238" width="110" height="5" fill="url(#g0_7)"/></g>
<g filter="url(#phC0)"><rect x="1" y="244" width="110" height="8" fill="url(#g0_8)"/><rect x="1" y="253" width="110" height="8" fill="url(#g0_9)"/><rect x="1" y="262" width="110" height="3" fill="url(#g0_10)"/><rect x="114" y="425" width="56" height="14" fill="url(#g0_16)"/></g>
<g filter="url(#ph00)"><rect x="1" y="425" width="113" height="14" fill="url(#g0_15)"/><rect x="1" y="621" width="127" height="3" fill="url(#g0_19)"/></g>
<g filter="url(#oa0)"><rect x="1" y="14" width="110" height="10"/><rect x="1" y="25" width="108" height="11"/><rect x="1" y="88" width="91" height="11"/><rect x="1" y="210" width="110" height="11"/><rect x="1" y="222" width="110" height="5"/><rect x="1" y="228" width="110" height="5"/><rect x="1" y="233" width="110" height="5"/><rect x="1" y="268" width="110" height="6"/><rect x="1" y="276" width="110" height="11"/><rect x="1" y="292" width="110" height="16"/><rect x="1" y="309" width="110" height="3"/><rect x="1" y="425" width="113" height="14"/><rect x="88" y="629" width="88" height="5"/><rect x="112" y="100" width="56" height="16"/><rect x="112" y="142" width="56" height="10"/><rect x="112" y="210" width="54" height="11"/><rect x="112" y="228" width="54" height="15"/><rect x="103" y="601" width="64" height="19"/></g>
<g filter="url(#oc0)"><rect x="1" y="238" width="110" height="5"/></g>
<g filter="url(#ob0)"><rect x="1" y="244" width="110" height="8"/><rect x="1" y="253" width="110" height="8"/><rect x="1" y="262" width="110" height="3"/><rect x="114" y="425" width="56" height="14"/><rect x="128" y="621" width="49" height="3"/></g>
</svg>
<div class="b N" style="top:6px;height:8px"></div>
<div class="b N" style="top:24px;height:1px"></div>
<div class="b N" style="top:36px;height:1px"></div>
<div class="b G" style="top:37px;height:1px"></div>
<div class="b N" style="top:38px;height:3px"></div>
<div class="b s" style="top:41px;height:1px"></div>
<div class="b G" style="top:42px;height:3px"></div>
<div class="b N" style="top:45px;height:1px"></div>
<div class="b G" style="top:46px;height:1px"></div>
<div class="b N" style="top:47px;height:1px"></div>
<div class="b G" style="top:48px;height:5px"></div>
<div class="b N" style="top:53px;height:4px"></div>
<div class="b G" style="top:57px;height:2px"></div>
<div class="b N" style="top:59px;height:5px"></div>
<div class="b G" style="top:64px;height:1px"></div>
<div class="b N" style="top:65px;height:23px"></div>
<div class="b N" style="top:99px;height:1px"></div>
<div class="b N" style="top:133px;height:2px"></div>
<div class="b N" style="top:141px;height:1px"></div>
<div class="b N" style="top:152px;height:1px"></div>
<div class="b N" style="top:157px;height:2px"></div>
<div class="b s" style="top:159px;height:1px"></div>
<div class="b N" style="top:160px;height:1px"></div>
<div class="b N" style="top:163px;height:2px"></div>
<div class="b s" style="top:165px;height:1px"></div>
<div class="b N" style="top:166px;height:1px"></div>
<div class="b s" style="top:167px;height:1px"></div>
<div class="b N" style="top:168px;height:6px"></div>
<div class="b N" style="top:176px;height:1px"></div>
<div class="b G" style="top:179px;height:1px"></div>
<div class="b N" style="top:180px;height:1px"></div>
<div class="b N" style="top:183px;height:5px"></div>
<div class="b s" style="top:188px;height:1px"></div>
<div class="b N" style="top:189px;height:2px"></div>
<div class="b G" style="top:191px;height:1px"></div>
<div class="b N" style="top:192px;height:16px"></div>
<div class="b s" style="top:208px;height:1px"></div>
<div class="b N" style="top:209px;height:1px"></div>
<div class="b N" style="top:221px;height:1px"></div>
<div class="b N" style="top:227px;height:1px"></div>
<div class="b N" style="top:243px;height:1px"></div>
<div class="b N" style="top:252px;height:1px"></div>
<div class="b N" style="top:261px;height:1px"></div>
<div class="b N" style="top:265px;height:1px"></div>
<div class="b g" style="top:267px;height:1px"></div>
<div class="b N" style="top:274px;height:2px"></div>
<div class="b N" style="top:287px;height:1px"></div>
<div class="b N" style="top:291px;height:1px"></div>
<div class="b g" style="top:294px;height:1px"></div>
<div class="b G" style="top:303px;height:1px"></div>
<div class="b N" style="top:308px;height:1px"></div>
<div class="b N" style="top:312px;height:2px"></div>
<div class="b G" style="top:314px;height:5px"></div>
<div class="b g" style="top:319px;height:4px"></div>
<div class="b G" style="top:323px;height:1px"></div>
<div class="b N" style="top:324px;height:3px"></div>
<div class="b d" style="top:327px;height:3px"></div>
<div class="b G" style="top:330px;height:2px"></div>
<div class="b N" style="top:332px;height:1px"></div>
<div class="b g" style="top:333px;height:6px"></div>
<div class="b N" style="top:339px;height:1px"></div>
<div class="b N" style="top:343px;height:1px"></div>
<div class="b G" style="top:344px;height:1px"></div>
<div class="b N" style="top:345px;height:1px"></div>
<div class="b G" style="top:346px;height:1px"></div>
<div class="b N" style="top:347px;height:1px"></div>
<div class="b g" style="top:348px;height:5px"></div>
<div class="b N" style="top:353px;height:1px"></div>
<div class="b g" style="top:354px;height:11px"></div>
<div class="b N" style="top:365px;height:1px"></div>
<div class="b G" style="top:366px;height:2px"></div>
<div class="b d" style="top:368px;height:2px"></div>
<div class="b G" style="top:370px;height:1px"></div>
<div class="b N" style="top:389px;height:1px"></div>
<div class="b N" style="top:397px;height:1px"></div>
<div class="b N" style="top:406px;height:1px"></div>
<div class="b N" style="top:409px;height:1px"></div>
<div class="b g" style="top:413px;height:3px"></div>
<div class="b N" style="top:424px;height:1px"></div>
<div class="b N" style="top:430px;height:1px"></div>
<div class="b N" style="top:433px;height:2px"></div>
<div class="b G" style="top:439px;height:1px"></div>
<div class="b N" style="top:440px;height:1px"></div>
<div class="b N" style="top:445px;height:1px"></div>
<div class="b G" style="top:452px;height:1px"></div>
<div class="b N" style="top:453px;height:1px"></div>
<div class="b G" style="top:454px;height:1px"></div>
<div class="b N" style="top:461px;height:1px"></div>
<div class="b N" style="top:464px;height:1px"></div>
<div class="b s" style="top:465px;height:1px"></div>
<div class="b N" style="top:466px;height:1px"></div>
<div class="b G" style="top:470px;height:1px"></div>
<div class="b N" style="top:477px;height:1px"></div>
<div class="b N" style="top:482px;height:2px"></div>
<div class="b g" style="top:505px;height:4px"></div>
<div class="b G" style="top:509px;height:1px"></div>
<div class="b N" style="top:510px;height:5px"></div>
<div class="b G" style="top:515px;height:1px"></div>
<div class="b N" style="top:516px;height:1px"></div>
<div class="b G" style="top:517px;height:1px"></div>
<div class="b N" style="top:518px;height:2px"></div>
<div class="b s" style="top:520px;height:1px"></div>
<div class="b N" style="top:521px;height:3px"></div>
<div class="b G" style="top:524px;height:1px"></div>
<div class="b N" style="top:525px;height:1px"></div>
<div class="b G" style="top:526px;height:1px"></div>
<div class="b N" style="top:527px;height:1px"></div>
<div class="b G" style="top:528px;height:3px"></div>
<div class="b g" style="top:531px;height:1px"></div>
<div class="b G" style="top:532px;height:1px"></div>
<div class="b N" style="top:533px;height:1px"></div>
<div class="b d" style="top:534px;height:1px"></div>
<div class="b N" style="top:535px;height:1px"></div>
<div class="b G" style="top:543px;height:1px"></div>
<div class="b N" style="top:544px;height:2px"></div>
<div class="b s" style="top:546px;height:1px"></div>
<div class="b N" style="top:547px;height:1px"></div>
<div class="b g" style="top:548px;height:2px"></div>
<div class="b N" style="top:556px;height:1px"></div>
<div class="b s" style="top:557px;height:1px"></div>
<div class="b N" style="top:558px;height:1px"></div>
<div class="b g" style="top:561px;height:7px"></div>
<div class="b N" style="top:568px;height:1px"></div>
<div class="b G" style="top:569px;height:1px"></div>
<div class="b G" style="top:572px;height:2px"></div>
<div class="b g" style="top:574px;height:1px"></div>
<div class="b G" style="top:575px;height:4px"></div>
<div class="b N" style="top:582px;height:1px"></div>
<div class="b G" style="top:583px;height:3px"></div>
<div class="b N" style="top:593px;height:1px"></div>
<div class="b G" style="top:594px;height:1px"></div>
<div class="b N" style="top:599px;height:2px"></div>
<div class="b g" style="top:620px;height:1px"></div>
<div class="b G" style="top:624px;height:3px"></div>
<div class="b G" style="top:634px;height:3px"></div>
<div class="b N" style="top:637px;height:1px"></div>
<div class="b s" style="top:638px;height:1px"></div>
<div class="b N" style="top:639px;height:1px"></div>
<svg width="178" height="641" style="top:0">
<g filter="url(#pC0)"><rect x="0" y="267" width="178" height="1"/><rect x="0" y="294" width="178" height="1"/><rect x="0" y="319" width="178" height="4"/><rect x="0" y="333" width="178" height="6"/><rect x="0" y="348" width="178" height="5"/><rect x="0" y="354" width="178" height="11"/><rect x="0" y="413" width="178" height="3"/><rect x="0" y="505" width="178" height="4"/><rect x="0" y="531" width="178" height="1"/><rect x="0" y="548" width="178" height="2"/><rect x="0" y="561" width="178" height="7"/><rect x="0" y="574" width="178" height="1"/><rect x="0" y="620" width="178" height="1"/></g>
<g filter="url(#pD0)"><rect x="0" y="41" width="178" height="1"/><rect x="0" y="159" width="178" height="1"/><rect x="0" y="165" width="178" height="1"/><rect x="0" y="167" width="178" height="1"/><rect x="0" y="188" width="178" height="1"/><rect x="0" y="208" width="178" height="1"/><rect x="0" y="465" width="178" height="1"/><rect x="0" y="520" width="178" height="1"/><rect x="0" y="546" width="178" height="1"/><rect x="0" y="557" width="178" height="1"/><rect x="0" y="638" width="178" height="1"/></g>
<g filter="url(#pD0)"><rect x="0" y="327" width="178" height="3"/><rect x="0" y="368" width="178" height="2"/><rect x="0" y="534" width="178" height="1"/></g>
</svg>
<svg width="178" height="641" style="top:0">
<g filter="url(#ph00)"><rect x="1" y="506" width="112" height="1" fill="url(#g0_17)"/><rect x="1" y="508" width="112" height="1" fill="url(#g0_18)"/></g>
</svg>
</div>
<div class="sp" style="left:131px;top:80px;width:178px;height:1px"></div>
<div class="sp" style="left:131px;top:720px;width:178px;height:1px"></div>
<div class="sp" style="left:131px;top:80px;width:1px;height:641px"></div>
<div class="sp" style="left:308px;top:80px;width:1px;height:641px"></div>
<div class="t" style="left:101px;width:61px;text-align:center;top:725px">320</div>
<div class="sp" style="left:173px;top:716px;width:1px;height:4px"></div>
<div class="sp" style="left:173px;top:81px;width:1px;height:4px"></div>
<div class="t" style="left:143px;width:61px;text-align:center;top:725px">335</div>
<div class="sp" style="left:214px;top:716px;width:1px;height:4px"></div>
<div class="sp" style="left:214px;top:81px;width:1px;height:4px"></div>
<div class="t" style="left:184px;width:61px;text-align:center;top:725px">350</div>
<div class="sp" style="left:256px;top:716px;width:1px;height:4px"></div>
<div class="sp" style="left:256px;top:81px;width:1px;height:4px"></div>
<div class="t" style="left:226px;width:61px;text-align:center;top:725px">365</div>
<div class="sp" style="left:297px;top:716px;width:1px;height:4px"></div>
<div class="sp" style="left:297px;top:81px;width:1px;height:4px"></div>
<div class="t" style="left:267px;width:61px;text-align:center;top:725px">380</div>
<div class="t" style="left:66px;width:60px;text-align:right;top:713px">0</div>
<div class="sp" style="left:132px;top:587px;width:4px;height:1px"></div>
<div class="sp" style="left:304px;top:587px;width:4px;height:1px"></div>
<div class="t" style="left:66px;width:60px;text-align:right;top:579px">5</div>
<div class="sp" style="left:132px;top:453px;width:4px;height:1px"></div>
<div class="sp" style="left:304px;top:453px;width:4px;height:1px"></div>
<div class="t" style="left:66px;width:60px;text-align:right;top:446px">10</div>
<div class="sp" style="left:132px;top:320px;width:4px;height:1px"></div>
<div class="sp" style="left:304px;top:320px;width:4px;height:1px"></div>
<div class="t" style="left:66px;width:60px;text-align:right;top:313px">15</div>
<div class="sp" style="left:132px;top:187px;width:4px;height:1px"></div>
<div class="sp" style="left:304px;top:187px;width:4px;height:1px"></div>
<div class="t" style="left:66px;width:60px;text-align:right;top:179px">20</div>
<div class="tt" style="left:120.5px;width:200px;top:59px">XX, BL V8*V9</div>
<div class="p" style="left:344px;top:80px;width:177px;height:641px">
<svg width="177" height="641" style="top:0"><rect width="177" height="641" filter="url(#nz1)"/></svg>
<div style="left:105px;top:621px;width:71px;height:3px;background:#7dff7a"></div>
<svg width="177" height="641" style="top:0">
<g filter="url(#phA1)"><rect x="1" y="14" width="98" height="10" fill="url(#g1_0)"/><rect x="1" y="25" width="97" height="11" fill="url(#g1_1)"/><rect x="1" y="88" width="104" height="11" fill="url(#g1_2)"/><rect x="1" y="210" width="109" height="11" fill="url(#g1_3)"/><rect x="1" y="222" width="109" height="5" fill="url(#g1_4)"/><rect x="1" y="268" width="101" height="6" fill="url(#g1_10)"/><rect x="1" y="276" width="107" height="11" fill="url(#g1_11)"/><rect x="1" y="309" width="101" height="3" fill="url(#g1_13)"/><rect x="88" y="629" width="88" height="5" fill="url(#g1_20)"/></g>
<g filter="url(#phB1)"><rect x="1" y="228" width="109" height="4" fill="url(#g1_5)"/><rect x="1" y="232" width="109" height="5" fill="url(#g1_6)"/><rect x="1" y="292" width="109" height="16" fill="url(#g1_12)"/><rect x="112" y="100" width="56" height="16" fill="url(#g1_21)"/><rect x="112" y="142" width="56" height="10" fill="url(#g1_22)"/><rect x="112" y="210" width="54" height="11" fill="url(#g1_23)"/><rect x="112" y="228" width="54" height="15" fill="url(#g1_24)"/><rect x="103" y="601" width="64" height="19" fill="url(#g1_25)"/></g>
<g filter="url(#phD1)"><rect x="1" y="237" width="109" height="6" fill="url(#g1_7)"/></g>
<g filter="url(#phC1)"><rect x="1" y="244" width="109" height="8" fill="url(#g1_8)"/><rect x="1" y="253" width="109" height="8" fill="url(#g1_9)"/><rect x="112" y="425" width="52" height="14" fill="url(#g1_15)"/></g>
<g filter="url(#ph01)"><rect x="1" y="425" width="109" height="14" fill="url(#g1_14)"/><rect x="1" y="621" width="104" height="3" fill="url(#g1_18)"/></g>
<g filter="url(#oa1)"><rect x="1" y="14" width="98" height="10"/><rect x="1" y="25" width="97" height="11"/><rect x="1" y="88" width="104" height="11"/><rect x="1" y="210" width="109" height="11"/><rect x="1" y="222" width="109" height="5"/><rect x="1" y="228" width="109" height="4"/><rect x="1" y="232" width="109" height="5"/><rect x="1" y="268" width="101" height="6"/><rect x="1" y="276" width="107" height="11"/><rect x="1" y="292" width="109" height="16"/><rect x="1" y="309" width="101" height="3"/><rect x="1" y="425" width="109" height="14"/><rect x="88" y="629" width="88" height="5"/><rect x="112" y="100" width="56" height="16"/><rect x="112" y="142" width="56" height="10"/><rect x="112" y="210" width="54" height="11"/><rect x="112" y="228" width="54" height="15"/><rect x="103" y="601" width="64" height="19"/></g>
<g filter="url(#oc1)"><rect x="1" y="237" width="109" height="6"/></g>
<g filter="url(#ob1)"><rect x="1" y="244" width="109" height="8"/><rect x="1" y="253" width="109" height="8"/><rect x="112" y="425" width="52" height="14"/><rect x="105" y="621" width="71" height="3"/></g>
</svg>
<div class="b N" style="top:6px;height:8px"></div>
<div class="b N" style="top:24px;height:1px"></div>
<div class="b N" style="top:36px;height:1px"></div>
<div class="b G" style="top:37px;height:1px"></div>
<div class="b N" style="top:38px;height:3px"></div>
<div class="b s" style="top:41px;height:1px"></div>
<div class="b G" style="top:42px;height:3px"></div>
<div class="b N" style="top:45px;height:1px"></div>
<div class="b G" style="top:46px;height:1px"></div>
<div class="b N" style="top:47px;height:1px"></div>
<div class="b G" style="top:48px;height:5px"></div>
<div class="b N" style="top:53px;height:4px"></div>
<div class="b G" style="top:57px;height:2px"></div>
<div class="b N" style="top:59px;height:5px"></div>
<div class="b G" style="top:64px;height:1px"></div>
<div class="b N" style="top:65px;height:23px"></div>
<div class="b N" style="top:99px;height:1px"></div>
<div class="b N" style="top:133px;height:2px"></div>
<div class="b N" style="top:141px;height:1px"></div>
<div class="b N" style="top:152px;height:1px"></div>
<div class="b N" style="top:157px;height:2px"></div>
<div class="b s" style="top:159px;height:1px"></div>
<div class="b N" style="top:160px;height:1px"></div>
<div class="b N" style="top:163px;height:2px"></div>
<div class="b s" style="top:165px;height:1px"></div>
<div class="b N" style="top:166px;height:1px"></div>
<div class="b s" style="top:167px;height:1px"></div>
<div class="b N" style="top:168px;height:6px"></div>
<div class="b N" style="top:176px;height:1px"></div>
<div class="b G" style="top:179px;height:1px"></div>
<div class="b N" style="top:180px;height:1px"></div>
<div class="b N" style="top:183px;height:5px"></div>
<div class="b s" style="top:188px;height:1px"></div>
<div class="b N" style="top:189px;height:2px"></div>
<div class="b G" style="top:191px;height:1px"></div>
<div class="b N" style="top:192px;height:16px"></div>
<div class="b s" style="top:208px;height:1px"></div>
<div class="b N" style="top:209px;height:1px"></div>
<div class="b N" style="top:221px;height:1px"></div>
<div class="b N" style="top:227px;height:1px"></div>
<div class="b N" style="top:243px;height:1px"></div>
<div class="b N" style="top:252px;height:1px"></div>
<div class="b N" style="top:261px;height:1px"></div>
<div class="b N" style="top:265px;height:1px"></div>
<div class="b g" style="top:267px;height:1px"></div>
<div class="b N" style="top:274px;height:2px"></div>
<div class="b N" style="top:287px;height:1px"></div>
<div class="b N" style="top:291px;height:1px"></div>
<div class="b g" style="top:294px;height:1px"></div>
<div class="b G" style="top:303px;height:1px"></div>
<div class="b N" style="top:308px;height:1px"></div>
<div class="b N" style="top:312px;height:2px"></div>
<div class="b G" style="top:314px;height:5px"></div>
<div class="b g" style="top:319px;height:4px"></div>
<div class="b G" style="top:323px;height:1px"></div>
<div class="b N" style="top:324px;height:3px"></div>
<div class="b d" style="top:327px;height:3px"></div>
<div class="b G" style="top:330px;height:2px"></div>
<div class="b N" style="top:332px;height:1px"></div>
<div class="b g" style="top:333px;height:6px"></div>
<div class="b N" style="top:339px;height:1px"></div>
<div class="b N" style="top:343px;height:1px"></div>
<div class="b G" style="top:344px;height:1px"></div>
<div class="b N" style="top:345px;height:1px"></div>
<div class="b G" style="top:346px;height:1px"></div>
<div class="b N" style="top:347px;height:1px"></div>
<div class="b g" style="top:348px;height:5px"></div>
<div class="b N" style="top:353px;height:1px"></div>
<div class="b g" style="top:354px;height:11px"></div>
<div class="b N" style="top:365px;height:1px"></div>
<div class="b G" style="top:366px;height:2px"></div>
<div class="b d" style="top:368px;height:2px"></div>
<div class="b G" style="top:370px;height:1px"></div>
<div class="b N" style="top:389px;height:1px"></div>
<div class="b N" style="top:397px;height:1px"></div>
<div class="b N" style="top:406px;height:1px"></div>
<div class="b N" style="top:409px;height:1px"></div>
<div class="b g" style="top:413px;height:3px"></div>
<div class="b N" style="top:424px;height:1px"></div>
<div class="b N" style="top:430px;height:1px"></div>
<div class="b N" style="top:433px;height:2px"></div>
<div class="b G" style="top:439px;height:1px"></div>
<div class="b N" style="top:440px;height:1px"></div>
<div class="b N" style="top:445px;height:1px"></div>
<div class="b G" style="top:452px;height:1px"></div>
<div class="b N" style="top:453px;height:1px"></div>
<div class="b G" style="top:454px;height:1px"></div>
<div class="b N" style="top:461px;height:1px"></div>
<div class="b N" style="top:464px;height:1px"></div>
<div class="b s" style="top:465px;height:1px"></div>
<div class="b N" style="top:466px;height:1px"></div>
<div class="b G" style="top:470px;height:1px"></div>
<div class="b N" style="top:477px;height:1px"></div>
<div class="b N" style="top:482px;height:2px"></div>
<div class="b g" style="top:505px;height:4px"></div>
<div class="b G" style="top:509px;height:1px"></div>
<div class="b N" style="top:510px;height:5px"></div>
<div class="b G" style="top:515px;height:1px"></div>
<div class="b N" style="top:516px;height:1px"></div>
<div class="b G" style="top:517px;height:1px"></div>
<div class="b N" style="top:518px;height:2px"></div>
<div class="b s" style="top:520px;height:1px"></div>
<div class="b N" style="top:521px;height:3px"></div>
<div class="b G" style="top:524px;height:1px"></div>
<div class="b N" style="top:525px;height:1px"></div>
<div class="b G" style="top:526px;height:1px"></div>
<div class="b N" style="top:527px;height:1px"></div>
<div class="b G" style="top:528px;height:3px"></div>
<div class="b g" style="top:531px;height:1px"></div>
<div class="b G" style="top:532px;height:1px"></div>
<div class="b N" style="top:533px;height:1px"></div>
<div class="b d" style="top:534px;height:1px"></div>
<div class="b N" style="top:535px;height:1px"></div>
<div class="b G" style="top:543px;height:1px"></div>
<div class="b N" style="top:544px;height:2px"></div>
<div class="b s" style="top:546px;height:1px"></div>
<div class="b N" style="top:547px;height:1px"></div>
<div class="b g" style="top:548px;height:2px"></div>
<div class="b N" style="top:556px;height:1px"></div>
<div class="b s" style="top:557px;height:1px"></div>
<div class="b N" style="top:558px;height:1px"></div>
<div class="b g" style="top:561px;height:7px"></div>
<div class="b N" style="top:568px;height:1px"></div>
<div class="b G" style="top:569px;height:1px"></div>
<div class="b G" style="top:572px;height:2px"></div>
<div class="b g" style="top:574px;height:1px"></div>
<div class="b G" style="top:575px;height:4px"></div>
<div class="b N" style="top:582px;height:1px"></div>
<div class="b G" style="top:583px;height:3px"></div>
<div class="b N" style="top:593px;height:1px"></div>
<div class="b G" style="top:594px;height:1px"></div>
<div class="b N" style="top:599px;height:2px"></div>
<div class="b g" style="top:620px;height:1px"></div>
<div class="b G" style="top:624px;height:3px"></div>
<div class="b G" style="top:634px;height:3px"></div>
<div class="b N" style="top:637px;height:1px"></div>
<div class="b s" style="top:638px;height:1px"></div>
<div class="b N" style="top:639px;height:1px"></div>
<svg width="177" height="641" style="top:0">
<g filter="url(#pC1)"><rect x="0" y="267" width="177" height="1"/><rect x="0" y="294" width="177" height="1"/><rect x="0" y="319" width="177" height="4"/><rect x="0" y="333" width="177" height="6"/><rect x="0" y="348" width="177" height="5"/><rect x="0" y="354" width="177" height="11"/><rect x="0" y="413" width="177" height="3"/><rect x="0" y="505" width="177" height="4"/><rect x="0" y="531" width="177" height="1"/><rect x="0" y="548" width="177" height="2"/><rect x="0" y="561" width="177" height="7"/><rect x="0" y="574" width="177" height="1"/><rect x="0" y="620" width="177" height="1"/></g>
<g filter="url(#pD1)"><rect x="0" y="41" width="177" height="1"/><rect x="0" y="159" width="177" height="1"/><rect x="0" y="165" width="177" height="1"/><rect x="0" y="167" width="177" height="1"/><rect x="0" y="188" width="177" height="1"/><rect x="0" y="208" width="177" height="1"/><rect x="0" y="465" width="177" height="1"/><rect x="0" y="520" width="177" height="1"/><rect x="0" y="546" width="177" height="1"/><rect x="0" y="557" width="177" height="1"/><rect x="0" y="638" width="177" height="1"/></g>
<g filter="url(#pD1)"><rect x="0" y="327" width="177" height="3"/><rect x="0" y="368" width="177" height="2"/><rect x="0" y="534" width="177" height="1"/></g>
</svg>
<svg width="177" height="641" style="top:0">
<g filter="url(#ph01)"><rect x="1" y="506" width="112" height="1" fill="url(#g1_16)"/><rect x="1" y="508" width="112" height="1" fill="url(#g1_17)"/></g>
</svg>
</div>
<div class="sp" style="left:344px;top:80px;width:177px;height:1px"></div>
<div class="sp" style="left:344px;top:720px;width:177px;height:1px"></div>
<div class="sp" style="left:344px;top:80px;width:1px;height:641px"></div>
<div class="sp" style="left:520px;top:80px;width:1px;height:641px"></div>
<div class="t" style="left:314px;width:61px;text-align:center;top:725px">320</div>
<div class="sp" style="left:385px;top:716px;width:1px;height:4px"></div>
<div class="sp" style="left:385px;top:81px;width:1px;height:4px"></div>
<div class="t" style="left:355px;width:61px;text-align:center;top:725px">335</div>
<div class="sp" style="left:426px;top:716px;width:1px;height:4px"></div>
<div class="sp" style="left:426px;top:81px;width:1px;height:4px"></div>
<div class="t" style="left:396px;width:61px;text-align:center;top:725px">350</div>
<div class="sp" style="left:468px;top:716px;width:1px;height:4px"></div>
<div class="sp" style="left:468px;top:81px;width:1px;height:4px"></div>
<div class="t" style="left:438px;width:61px;text-align:center;top:725px">365</div>
<div class="sp" style="left:509px;top:716px;width:1px;height:4px"></div>
<div class="sp" style="left:509px;top:81px;width:1px;height:4px"></div>
<div class="t" style="left:479px;width:61px;text-align:center;top:725px">380</div>
<div class="t" style="left:279px;width:60px;text-align:right;top:713px">0</div>
<div class="sp" style="left:345px;top:587px;width:4px;height:1px"></div>
<div class="sp" style="left:516px;top:587px;width:4px;height:1px"></div>
<div class="t" style="left:279px;width:60px;text-align:right;top:579px">5</div>
<div class="sp" style="left:345px;top:453px;width:4px;height:1px"></div>
<div class="sp" style="left:516px;top:453px;width:4px;height:1px"></div>
<div class="t" style="left:279px;width:60px;text-align:right;top:446px">10</div>
<div class="sp" style="left:345px;top:320px;width:4px;height:1px"></div>
<div class="sp" style="left:516px;top:320px;width:4px;height:1px"></div>
<div class="t" style="left:279px;width:60px;text-align:right;top:313px">15</div>
<div class="sp" style="left:345px;top:187px;width:4px;height:1px"></div>
<div class="sp" style="left:516px;top:187px;width:4px;height:1px"></div>
<div class="t" style="left:279px;width:60px;text-align:right;top:179px">20</div>
<div class="tt" style="left:333.0px;width:200px;top:59px">YY, BL V8*V9</div>
<div class="p" style="left:556px;top:80px;width:177px;height:641px">
<svg width="177" height="641" style="top:0"><rect width="177" height="641" filter="url(#nz2)"/></svg>
<div style="left:65px;top:101px;width:12px;height:15px;background:radial-gradient(ellipse 5px 7.5px at 6px 7.5px,#000080 0,#000080 24%,#0000e0 30%,#c00000 40%,#ff1000 58%,#ff9000 74%,#ffe000 88%,rgba(255,224,0,0) 100%)"></div>
<svg width="177" height="641" style="top:0">
<g filter="url(#phC2)"><rect x="112" y="425" width="48" height="14" fill="url(#g2_1)"/></g>
<g filter="url(#phA2)"><rect x="88" y="629" width="88" height="5" fill="url(#g2_2)"/></g>
<g filter="url(#phB2)"><rect x="112" y="100" width="56" height="16" fill="url(#g2_3)"/><rect x="112" y="142" width="56" height="10" fill="url(#g2_4)"/><rect x="112" y="210" width="54" height="11" fill="url(#g2_5)"/><rect x="112" y="228" width="54" height="15" fill="url(#g2_6)"/><rect x="103" y="601" width="64" height="19" fill="url(#g2_7)"/></g>
<g filter="url(#oc2)"><rect x="65" y="101" width="12" height="15"/></g>
<g filter="url(#ob2)"><rect x="112" y="425" width="48" height="14"/></g>
<g filter="url(#oa2)"><rect x="88" y="629" width="88" height="5"/><rect x="112" y="100" width="56" height="16"/><rect x="112" y="142" width="56" height="10"/><rect x="112" y="210" width="54" height="11"/><rect x="112" y="228" width="54" height="15"/><rect x="103" y="601" width="64" height="19"/></g>
</svg>
<div class="b N" style="top:6px;height:8px"></div>
<div class="b N" style="top:24px;height:1px"></div>
<div class="b N" style="top:36px;height:1px"></div>
<div class="b G" style="top:37px;height:1px"></div>
<div class="b N" style="top:38px;height:3px"></div>
<div class="b s" style="top:41px;height:1px"></div>
<div class="b G" style="top:42px;height:3px"></div>
<div class="b N" style="top:45px;height:1px"></div>
<div class="b G" style="top:46px;height:1px"></div>
<div class="b N" style="top:47px;height:1px"></div>
<div class="b G" style="top:48px;height:5px"></div>
<div class="b N" style="top:53px;height:4px"></div>
<div class="b G" style="top:57px;height:2px"></div>
<div class="b N" style="top:59px;height:5px"></div>
<div class="b G" style="top:64px;height:1px"></div>
<div class="b N" style="top:65px;height:23px"></div>
<div class="b N" style="top:99px;height:1px"></div>
<div class="b N" style="top:133px;height:2px"></div>
<div class="b N" style="top:141px;height:1px"></div>
<div class="b N" style="top:152px;height:1px"></div>
<div class="b N" style="top:157px;height:2px"></div>
<div class="b s" style="top:159px;height:1px"></div>
<div class="b N" style="top:160px;height:1px"></div>
<div class="b N" style="top:163px;height:2px"></div>
<div class="b s" style="top:165px;height:1px"></div>
<div class="b N" style="top:166px;height:1px"></div>
<div class="b s" style="top:167px;height:1px"></div>
<div class="b N" style="top:168px;height:6px"></div>
<div class="b N" style="top:176px;height:1px"></div>
<div class="b G" style="top:179px;height:1px"></div>
<div class="b N" style="top:180px;height:1px"></div>
<div class="b N" style="top:183px;height:5px"></div>
<div class="b s" style="top:188px;height:1px"></div>
<div class="b N" style="top:189px;height:2px"></div>
<div class="b G" style="top:191px;height:1px"></div>
<div class="b N" style="top:192px;height:16px"></div>
<div class="b s" style="top:208px;height:1px"></div>
<div class="b N" style="top:209px;height:1px"></div>
<div class="b N" style="top:221px;height:1px"></div>
<div class="b N" style="top:227px;height:1px"></div>
<div class="b N" style="top:243px;height:1px"></div>
<div class="b N" style="top:252px;height:1px"></div>
<div class="b N" style="top:261px;height:1px"></div>
<div class="b N" style="top:265px;height:1px"></div>
<div class="b g" style="top:267px;height:1px"></div>
<div class="b N" style="top:274px;height:2px"></div>
<div class="b N" style="top:287px;height:1px"></div>
<div class="b N" style="top:291px;height:1px"></div>
<div class="b g" style="top:294px;height:1px"></div>
<div class="b G" style="top:303px;height:1px"></div>
<div class="b N" style="top:308px;height:1px"></div>
<div class="b N" style="top:312px;height:2px"></div>
<div class="b G" style="top:314px;height:5px"></div>
<div class="b g" style="top:319px;height:4px"></div>
<div class="b G" style="top:323px;height:1px"></div>
<div class="b N" style="top:324px;height:3px"></div>
<div class="b d" style="top:327px;height:3px"></div>
<div class="b G" style="top:330px;height:2px"></div>
<div class="b N" style="top:332px;height:1px"></div>
<div class="b g" style="top:333px;height:6px"></div>
<div class="b N" style="top:339px;height:1px"></div>
<div class="b N" style="top:343px;height:1px"></div>
<div class="b G" style="top:344px;height:1px"></div>
<div class="b N" style="top:345px;height:1px"></div>
<div class="b G" style="top:346px;height:1px"></div>
<div class="b N" style="top:347px;height:1px"></div>
<div class="b g" style="top:348px;height:5px"></div>
<div class="b N" style="top:353px;height:1px"></div>
<div class="b g" style="top:354px;height:11px"></div>
<div class="b N" style="top:365px;height:1px"></div>
<div class="b G" style="top:366px;height:2px"></div>
<div class="b d" style="top:368px;height:2px"></div>
<div class="b G" style="top:370px;height:1px"></div>
<div class="b N" style="top:389px;height:1px"></div>
<div class="b N" style="top:397px;height:1px"></div>
<div class="b N" style="top:406px;height:1px"></div>
<div class="b N" style="top:409px;height:1px"></div>
<div class="b g" style="top:413px;height:3px"></div>
<div class="b N" style="top:424px;height:1px"></div>
<div class="b N" style="top:430px;height:1px"></div>
<div class="b N" style="top:433px;height:2px"></div>
<div class="b G" style="top:439px;height:1px"></div>
<div class="b N" style="top:440px;height:1px"></div>
<div class="b N" style="top:445px;height:1px"></div>
<div class="b G" style="top:452px;height:1px"></div>
<div class="b N" style="top:453px;height:1px"></div>
<div class="b G" style="top:454px;height:1px"></div>
<div class="b N" style="top:461px;height:1px"></div>
<div class="b N" style="top:464px;height:1px"></div>
<div class="b s" style="top:465px;height:1px"></div>
<div class="b N" style="top:466px;height:1px"></div>
<div class="b G" style="top:470px;height:1px"></div>
<div class="b N" style="top:477px;height:1px"></div>
<div class="b N" style="top:482px;height:2px"></div>
<div class="b g" style="top:505px;height:4px"></div>
<div class="b G" style="top:509px;height:1px"></div>
<div class="b N" style="top:510px;height:5px"></div>
<div class="b G" style="top:515px;height:1px"></div>
<div class="b N" style="top:516px;height:1px"></div>
<div class="b G" style="top:517px;height:1px"></div>
<div class="b N" style="top:518px;height:2px"></div>
<div class="b s" style="top:520px;height:1px"></div>
<div class="b N" style="top:521px;height:3px"></div>
<div class="b G" style="top:524px;height:1px"></div>
<div class="b N" style="top:525px;height:1px"></div>
<div class="b G" style="top:526px;height:1px"></div>
<div class="b N" style="top:527px;height:1px"></div>
<div class="b G" style="top:528px;height:3px"></div>
<div class="b g" style="top:531px;height:1px"></div>
<div class="b G" style="top:532px;height:1px"></div>
<div class="b N" style="top:533px;height:1px"></div>
<div class="b d" style="top:534px;height:1px"></div>
<div class="b N" style="top:535px;height:1px"></div>
<div class="b G" style="top:543px;height:1px"></div>
<div class="b N" style="top:544px;height:2px"></div>
<div class="b s" style="top:546px;height:1px"></div>
<div class="b N" style="top:547px;height:1px"></div>
<div class="b g" style="top:548px;height:2px"></div>
<div class="b N" style="top:556px;height:1px"></div>
<div class="b s" style="top:557px;height:1px"></div>
<div class="b N" style="top:558px;height:1px"></div>
<div class="b g" style="top:561px;height:7px"></div>
<div class="b N" style="top:568px;height:1px"></div>
<div class="b G" style="top:569px;height:1px"></div>
<div class="b G" style="top:572px;height:2px"></div>
<div class="b g" style="top:574px;height:1px"></div>
<div class="b G" style="top:575px;height:4px"></div>
<div class="b N" style="top:582px;height:1px"></div>
<div class="b G" style="top:583px;height:3px"></div>
<div class="b N" style="top:593px;height:1px"></div>
<div class="b G" style="top:594px;height:1px"></div>
<div class="b N" style="top:599px;height:2px"></div>
<div class="b g" style="top:620px;height:1px"></div>
<div class="b G" style="top:624px;height:3px"></div>
<div class="b G" style="top:634px;height:3px"></div>
<div class="b N" style="top:637px;height:1px"></div>
<div class="b s" style="top:638px;height:1px"></div>
<div class="b N" style="top:639px;height:1px"></div>
<svg width="177" height="641" style="top:0">
<g filter="url(#pC2)"><rect x="0" y="267" width="177" height="1"/><rect x="0" y="294" width="177" height="1"/><rect x="0" y="319" width="177" height="4"/><rect x="0" y="333" width="177" height="6"/><rect x="0" y="348" width="177" height="5"/><rect x="0" y="354" width="177" height="11"/><rect x="0" y="413" width="177" height="3"/><rect x="0" y="505" width="177" height="4"/><rect x="0" y="531" width="177" height="1"/><rect x="0" y="548" width="177" height="2"/><rect x="0" y="561" width="177" height="7"/><rect x="0" y="574" width="177" height="1"/><rect x="0" y="620" width="177" height="1"/></g>
<g filter="url(#pD2)"><rect x="0" y="41" width="177" height="1"/><rect x="0" y="159" width="177" height="1"/><rect x="0" y="165" width="177" height="1"/><rect x="0" y="167" width="177" height="1"/><rect x="0" y="188" width="177" height="1"/><rect x="0" y="208" width="177" height="1"/><rect x="0" y="465" width="177" height="1"/><rect x="0" y="520" width="177" height="1"/><rect x="0" y="546" width="177" height="1"/><rect x="0" y="557" width="177" height="1"/><rect x="0" y="638" width="177" height="1"/></g>
<g filter="url(#pD2)"><rect x="0" y="327" width="177" height="3"/><rect x="0" y="368" width="177" height="2"/><rect x="0" y="534" width="177" height="1"/></g>
</svg>

</div>
<div class="sp" style="left:556px;top:80px;width:177px;height:1px"></div>
<div class="sp" style="left:556px;top:720px;width:177px;height:1px"></div>
<div class="sp" style="left:556px;top:80px;width:1px;height:641px"></div>
<div class="sp" style="left:732px;top:80px;width:1px;height:641px"></div>
<div class="t" style="left:526px;width:61px;text-align:center;top:725px">320</div>
<div class="sp" style="left:597px;top:716px;width:1px;height:4px"></div>
<div class="sp" style="left:597px;top:81px;width:1px;height:4px"></div>
<div class="t" style="left:567px;width:61px;text-align:center;top:725px">335</div>
<div class="sp" style="left:639px;top:716px;width:1px;height:4px"></div>
<div class="sp" style="left:639px;top:81px;width:1px;height:4px"></div>
<div class="t" style="left:609px;width:61px;text-align:center;top:725px">350</div>
<div class="sp" style="left:680px;top:716px;width:1px;height:4px"></div>
<div class="sp" style="left:680px;top:81px;width:1px;height:4px"></div>
<div class="t" style="left:650px;width:61px;text-align:center;top:725px">365</div>
<div class="sp" style="left:722px;top:716px;width:1px;height:4px"></div>
<div class="sp" style="left:722px;top:81px;width:1px;height:4px"></div>
<div class="t" style="left:692px;width:61px;text-align:center;top:725px">380</div>
<div class="t" style="left:491px;width:60px;text-align:right;top:713px">0</div>
<div class="sp" style="left:557px;top:587px;width:4px;height:1px"></div>
<div class="sp" style="left:728px;top:587px;width:4px;height:1px"></div>
<div class="t" style="left:491px;width:60px;text-align:right;top:579px">5</div>
<div class="sp" style="left:557px;top:453px;width:4px;height:1px"></div>
<div class="sp" style="left:728px;top:453px;width:4px;height:1px"></div>
<div class="t" style="left:491px;width:60px;text-align:right;top:446px">10</div>
<div class="sp" style="left:557px;top:320px;width:4px;height:1px"></div>
<div class="sp" style="left:728px;top:320px;width:4px;height:1px"></div>
<div class="t" style="left:491px;width:60px;text-align:right;top:313px">15</div>
<div class="sp" style="left:557px;top:187px;width:4px;height:1px"></div>
<div class="sp" style="left:728px;top:187px;width:4px;height:1px"></div>
<div class="t" style="left:491px;width:60px;text-align:right;top:179px">20</div>
<div class="tt" style="left:545.0px;width:200px;top:59px">XY, BL V8*V9</div>
<div class="p" style="left:768px;top:80px;width:178px;height:641px">
<svg width="178" height="641" style="top:0"><rect width="178" height="641" filter="url(#nz3)"/></svg>
<div style="left:62px;top:101px;width:16px;height:16px;background:radial-gradient(circle 8px at 8px 8px,#ffe000 0,#e0ff20 30%,#7dff7a 55%,#20ffd0 75%,#00d0ff 88%,rgba(0,208,255,0) 100%)"></div>
<div style="left:104px;top:466px;width:62px;height:12px;background:radial-gradient(ellipse 31px 6px at 31px 6px,#7dff7a 0,#7dff7a 30%,#d0ff30 50%,#ffd000 68%,rgba(255,140,0,0.6) 85%,rgba(255,96,0,0) 100%)"></div>
<svg width="178" height="641" style="top:0">
<g filter="url(#phB3)"><rect x="100" y="276" width="76" height="7" fill="url(#g3_1)"/><rect x="112" y="100" width="56" height="16" fill="url(#g3_5)"/><rect x="112" y="142" width="56" height="10" fill="url(#g3_6)"/><rect x="112" y="210" width="54" height="11" fill="url(#g3_7)"/><rect x="112" y="228" width="54" height="15" fill="url(#g3_8)"/><rect x="103" y="601" width="64" height="19" fill="url(#g3_9)"/></g>
<g filter="url(#phC3)"><rect x="110" y="425" width="48" height="14" fill="url(#g3_2)"/></g>
<g filter="url(#phA3)"><rect x="88" y="629" width="88" height="5" fill="url(#g3_4)"/></g>
<g filter="url(#oc3)"><rect x="62" y="101" width="16" height="16"/></g>
<g filter="url(#oa3)"><rect x="100" y="276" width="76" height="7"/><rect x="88" y="629" width="88" height="5"/><rect x="112" y="100" width="56" height="16"/><rect x="112" y="142" width="56" height="10"/><rect x="112" y="210" width="54" height="11"/><rect x="112" y="228" width="54" height="15"/><rect x="103" y="601" width="64" height="19"/></g>
<g filter="url(#ob3)"><rect x="110" y="425" width="48" height="14"/></g>
<g filter="url(#od3)"><rect x="104" y="466" width="62" height="12"/></g>
</svg>
<div class="b N" style="top:6px;height:8px"></div>
<div class="b N" style="top:24px;height:1px"></div>
<div class="b N" style="top:36px;height:1px"></div>
<div class="b G" style="top:37px;height:1px"></div>
<div class="b N" style="top:38px;height:3px"></div>
<div class="b s" style="top:41px;height:1px"></div>
<div class="b G" style="top:42px;height:3px"></div>
<div class="b N" style="top:45px;height:1px"></div>
<div class="b G" style="top:46px;height:1px"></div>
<div class="b N" style="top:47px;height:1px"></div>
<div class="b G" style="top:48px;height:5px"></div>
<div class="b N" style="top:53px;height:4px"></div>
<div class="b G" style="top:57px;height:2px"></div>
<div class="b N" style="top:59px;height:5px"></div>
<div class="b G" style="top:64px;height:1px"></div>
<div class="b N" style="top:65px;height:23px"></div>
<div class="b N" style="top:99px;height:1px"></div>
<div class="b N" style="top:133px;height:2px"></div>
<div class="b N" style="top:141px;height:1px"></div>
<div class="b N" style="top:152px;height:1px"></div>
<div class="b N" style="top:157px;height:2px"></div>
<div class="b s" style="top:159px;height:1px"></div>
<div class="b N" style="top:160px;height:1px"></div>
<div class="b N" style="top:163px;height:2px"></div>
<div class="b s" style="top:165px;height:1px"></div>
<div class="b N" style="top:166px;height:1px"></div>
<div class="b s" style="top:167px;height:1px"></div>
<div class="b N" style="top:168px;height:6px"></div>
<div class="b N" style="top:176px;height:1px"></div>
<div class="b G" style="top:179px;height:1px"></div>
<div class="b N" style="top:180px;height:1px"></div>
<div class="b N" style="top:183px;height:5px"></div>
<div class="b s" style="top:188px;height:1px"></div>
<div class="b N" style="top:189px;height:2px"></div>
<div class="b G" style="top:191px;height:1px"></div>
<div class="b N" style="top:192px;height:16px"></div>
<div class="b s" style="top:208px;height:1px"></div>
<div class="b N" style="top:209px;height:1px"></div>
<div class="b N" style="top:221px;height:1px"></div>
<div class="b N" style="top:227px;height:1px"></div>
<div class="b N" style="top:243px;height:1px"></div>
<div class="b N" style="top:252px;height:1px"></div>
<div class="b N" style="top:261px;height:1px"></div>
<div class="b N" style="top:265px;height:1px"></div>
<div class="b g" style="top:267px;height:1px"></div>
<div class="b N" style="top:274px;height:2px"></div>
<div class="b N" style="top:287px;height:1px"></div>
<div class="b N" style="top:291px;height:1px"></div>
<div class="b g" style="top:294px;height:1px"></div>
<div class="b G" style="top:303px;height:1px"></div>
<div class="b N" style="top:308px;height:1px"></div>
<div class="b N" style="top:312px;height:2px"></div>
<div class="b G" style="top:314px;height:5px"></div>
<div class="b g" style="top:319px;height:4px"></div>
<div class="b G" style="top:323px;height:1px"></div>
<div class="b N" style="top:324px;height:3px"></div>
<div class="b d" style="top:327px;height:3px"></div>
<div class="b G" style="top:330px;height:2px"></div>
<div class="b N" style="top:332px;height:1px"></div>
<div class="b g" style="top:333px;height:6px"></div>
<div class="b N" style="top:339px;height:1px"></div>
<div class="b N" style="top:343px;height:1px"></div>
<div class="b G" style="top:344px;height:1px"></div>
<div class="b N" style="top:345px;height:1px"></div>
<div class="b G" style="top:346px;height:1px"></div>
<div class="b N" style="top:347px;height:1px"></div>
<div class="b g" style="top:348px;height:5px"></div>
<div class="b N" style="top:353px;height:1px"></div>
<div class="b g" style="top:354px;height:11px"></div>
<div class="b N" style="top:365px;height:1px"></div>
<div class="b G" style="top:366px;height:2px"></div>
<div class="b d" style="top:368px;height:2px"></div>
<div class="b G" style="top:370px;height:1px"></div>
<div class="b N" style="top:389px;height:1px"></div>
<div class="b N" style="top:397px;height:1px"></div>
<div class="b N" style="top:406px;height:1px"></div>
<div class="b N" style="top:409px;height:1px"></div>
<div class="b g" style="top:413px;height:3px"></div>
<div class="b N" style="top:424px;height:1px"></div>
<div class="b N" style="top:430px;height:1px"></div>
<div class="b N" style="top:433px;height:2px"></div>
<div class="b G" style="top:439px;height:1px"></div>
<div class="b N" style="top:440px;height:1px"></div>
<div class="b N" style="top:445px;height:1px"></div>
<div class="b G" style="top:452px;height:1px"></div>
<div class="b N" style="top:453px;height:1px"></div>
<div class="b G" style="top:454px;height:1px"></div>
<div class="b N" style="top:461px;height:1px"></div>
<div class="b N" style="top:464px;height:1px"></div>
<div class="b s" style="top:465px;height:1px"></div>
<div class="b N" style="top:466px;height:1px"></div>
<div class="b G" style="top:470px;height:1px"></div>
<div class="b N" style="top:477px;height:1px"></div>
<div class="b N" style="top:482px;height:2px"></div>
<div class="b g" style="top:505px;height:4px"></div>
<div class="b G" style="top:509px;height:1px"></div>
<div class="b N" style="top:510px;height:5px"></div>
<div class="b G" style="top:515px;height:1px"></div>
<div class="b N" style="top:516px;height:1px"></div>
<div class="b G" style="top:517px;height:1px"></div>
<div class="b N" style="top:518px;height:2px"></div>
<div class="b s" style="top:520px;height:1px"></div>
<div class="b N" style="top:521px;height:3px"></div>
<div class="b G" style="top:524px;height:1px"></div>
<div class="b N" style="top:525px;height:1px"></div>
<div class="b G" style="top:526px;height:1px"></div>
<div class="b N" style="top:527px;height:1px"></div>
<div class="b G" style="top:528px;height:3px"></div>
<div class="b g" style="top:531px;height:1px"></div>
<div class="b G" style="top:532px;height:1px"></div>
<div class="b N" style="top:533px;height:1px"></div>
<div class="b d" style="top:534px;height:1px"></div>
<div class="b N" style="top:535px;height:1px"></div>
<div class="b G" style="top:543px;height:1px"></div>
<div class="b N" style="top:544px;height:2px"></div>
<div class="b s" style="top:546px;height:1px"></div>
<div class="b N" style="top:547px;height:1px"></div>
<div class="b g" style="top:548px;height:2px"></div>
<div class="b N" style="top:556px;height:1px"></div>
<div class="b s" style="top:557px;height:1px"></div>
<div class="b N" style="top:558px;height:1px"></div>
<div class="b g" style="top:561px;height:7px"></div>
<div class="b N" style="top:568px;height:1px"></div>
<div class="b G" style="top:569px;height:1px"></div>
<div class="b G" style="top:572px;height:2px"></div>
<div class="b g" style="top:574px;height:1px"></div>
<div class="b G" style="top:575px;height:4px"></div>
<div class="b N" style="top:582px;height:1px"></div>
<div class="b G" style="top:583px;height:3px"></div>
<div class="b N" style="top:593px;height:1px"></div>
<div class="b G" style="top:594px;height:1px"></div>
<div class="b N" style="top:599px;height:2px"></div>
<div class="b g" style="top:620px;height:1px"></div>
<div class="b G" style="top:624px;height:3px"></div>
<div class="b G" style="top:634px;height:3px"></div>
<div class="b N" style="top:637px;height:1px"></div>
<div class="b s" style="top:638px;height:1px"></div>
<div class="b N" style="top:639px;height:1px"></div>
<svg width="178" height="641" style="top:0">
<g filter="url(#pC3)"><rect x="0" y="267" width="178" height="1"/><rect x="0" y="294" width="178" height="1"/><rect x="0" y="319" width="178" height="4"/><rect x="0" y="333" width="178" height="6"/><rect x="0" y="348" width="178" height="5"/><rect x="0" y="354" width="178" height="11"/><rect x="0" y="413" width="178" height="3"/><rect x="0" y="505" width="178" height="4"/><rect x="0" y="531" width="178" height="1"/><rect x="0" y="548" width="178" height="2"/><rect x="0" y="561" width="178" height="7"/><rect x="0" y="574" width="178" height="1"/><rect x="0" y="620" width="178" height="1"/></g>
<g filter="url(#pD3)"><rect x="0" y="41" width="178" height="1"/><rect x="0" y="159" width="178" height="1"/><rect x="0" y="165" width="178" height="1"/><rect x="0" y="167" width="178" height="1"/><rect x="0" y="188" width="178" height="1"/><rect x="0" y="208" width="178" height="1"/><rect x="0" y="465" width="178" height="1"/><rect x="0" y="520" width="178" height="1"/><rect x="0" y="546" width="178" height="1"/><rect x="0" y="557" width="178" height="1"/><rect x="0" y="638" width="178" height="1"/></g>
<g filter="url(#pD3)"><rect x="0" y="327" width="178" height="3"/><rect x="0" y="368" width="178" height="2"/><rect x="0" y="534" width="178" height="1"/></g>
</svg>

</div>
<div class="sp" style="left:768px;top:80px;width:178px;height:1px"></div>
<div class="sp" style="left:768px;top:720px;width:178px;height:1px"></div>
<div class="sp" style="left:768px;top:80px;width:1px;height:641px"></div>
<div class="sp" style="left:945px;top:80px;width:1px;height:641px"></div>
<div class="t" style="left:738px;width:61px;text-align:center;top:725px">320</div>
<div class="sp" style="left:810px;top:716px;width:1px;height:4px"></div>
<div class="sp" style="left:810px;top:81px;width:1px;height:4px"></div>
<div class="t" style="left:780px;width:61px;text-align:center;top:725px">335</div>
<div class="sp" style="left:851px;top:716px;width:1px;height:4px"></div>
<div class="sp" style="left:851px;top:81px;width:1px;height:4px"></div>
<div class="t" style="left:821px;width:61px;text-align:center;top:725px">350</div>
<div class="sp" style="left:892px;top:716px;width:1px;height:4px"></div>
<div class="sp" style="left:892px;top:81px;width:1px;height:4px"></div>
<div class="t" style="left:862px;width:61px;text-align:center;top:725px">365</div>
<div class="sp" style="left:934px;top:716px;width:1px;height:4px"></div>
<div class="sp" style="left:934px;top:81px;width:1px;height:4px"></div>
<div class="t" style="left:904px;width:61px;text-align:center;top:725px">380</div>
<div class="t" style="left:703px;width:60px;text-align:right;top:713px">0</div>
<div class="sp" style="left:769px;top:587px;width:4px;height:1px"></div>
<div class="sp" style="left:941px;top:587px;width:4px;height:1px"></div>
<div class="t" style="left:703px;width:60px;text-align:right;top:579px">5</div>
<div class="sp" style="left:769px;top:453px;width:4px;height:1px"></div>
<div class="sp" style="left:941px;top:453px;width:4px;height:1px"></div>
<div class="t" style="left:703px;width:60px;text-align:right;top:446px">10</div>
<div class="sp" style="left:769px;top:320px;width:4px;height:1px"></div>
<div class="sp" style="left:941px;top:320px;width:4px;height:1px"></div>
<div class="t" style="left:703px;width:60px;text-align:right;top:313px">15</div>
<div class="sp" style="left:769px;top:187px;width:4px;height:1px"></div>
<div class="sp" style="left:941px;top:187px;width:4px;height:1px"></div>
<div class="t" style="left:703px;width:60px;text-align:right;top:179px">20</div>
<div class="tt" style="left:757.5px;width:200px;top:59px">YX, BL V8*V9</div>
<div class="t" style="left:524px;top:15px;letter-spacing:1.1px">2017-02-27 0.0-24.0</div>
<div class="t" style="left:432px;top:743px;letter-spacing:1.1px">frequency (MHz)</div>
<div class="t" style="left:46px;top:393px;width:100px;text-align:center;transform:rotate(-90deg)">UT (hours)</div>
<div class="t" style="left:920px;top:393px;width:100px;text-align:center;letter-spacing:1.05px;transform:rotate(-90deg)">phase (deg.)</div>
<div style="position:absolute;left:1019px;top:160px;width:16px;height:481px;box-sizing:border-box;border:1px solid #000;background:linear-gradient(to bottom,#800000 0.00%,#e80000 9.00%,#ff1300 11.00%,#ffec00 34.00%,#f7f600 35.00%,#efff08 36.00%,#7bff7b 50.00%,#15ffe2 62.50%,#00e5f7 65.00%,#00dbff 66.00%,#0000ff 87.50%,#0000ff 89.00%,#000080 100.00%)"></div>
<div class="sp" style="left:1020px;top:200px;width:5px;height:1px"></div>
<div class="sp" style="left:1029px;top:200px;width:5px;height:1px"></div>
<div class="cl" style="left:953px;top:194px">150</div>
<div class="sp" style="left:1020px;top:267px;width:5px;height:1px"></div>
<div class="sp" style="left:1029px;top:267px;width:5px;height:1px"></div>
<div class="cl" style="left:953px;top:261px">100</div>
<div class="sp" style="left:1020px;top:333px;width:5px;height:1px"></div>
<div class="sp" style="left:1029px;top:333px;width:5px;height:1px"></div>
<div class="cl" style="left:953px;top:327px">50</div>
<div class="sp" style="left:1020px;top:400px;width:5px;height:1px"></div>
<div class="sp" style="left:1029px;top:400px;width:5px;height:1px"></div>
<div class="cl" style="left:953px;top:394px">0</div>
<div class="sp" style="left:1020px;top:467px;width:5px;height:1px"></div>
<div class="sp" style="left:1029px;top:467px;width:5px;height:1px"></div>
<div class="cl" style="left:953px;top:461px">−50</div>
<div class="sp" style="left:1020px;top:533px;width:5px;height:1px"></div>
<div class="sp" style="left:1029px;top:533px;width:5px;height:1px"></div>
<div class="cl" style="left:953px;top:527px">−100</div>
<div class="sp" style="left:1020px;top:600px;width:5px;height:1px"></div>
<div class="sp" style="left:1029px;top:600px;width:5px;height:1px"></div>
<div class="cl" style="left:953px;top:594px">−150</div>
<div class="sp" style="left:1022px;top:161px;width:1px;height:5px"></div>
<div class="sp" style="left:1022px;top:635px;width:1px;height:5px"></div>
<div class="sp" style="left:1025px;top:161px;width:1px;height:5px"></div>
<div class="sp" style="left:1025px;top:635px;width:1px;height:5px"></div>
<div class="sp" style="left:1028px;top:161px;width:1px;height:5px"></div>
<div class="sp" style="left:1028px;top:635px;width:1px;height:5px"></div>
<div class="sp" style="left:1031px;top:161px;width:1px;height:5px"></div>
<div class="sp" style="left:1031px;top:635px;width:1px;height:5px"></div>
<div style="position:absolute;left:1017px;top:646px;width:1px;height:1px;background:#999"></div>
<div style="position:absolute;left:1020.5px;top:646px;width:1px;height:1px;background:#999"></div>
<div style="position:absolute;left:1024px;top:646px;width:1px;height:1px;background:#999"></div>
<div style="position:absolute;left:1027.5px;top:646px;width:1px;height:1px;background:#999"></div>
<div style="position:absolute;left:1031px;top:646px;width:1px;height:1px;background:#999"></div>
<div style="position:absolute;left:1034px;top:646px;width:1px;height:1px;background:#999"></div>
</body></html>
